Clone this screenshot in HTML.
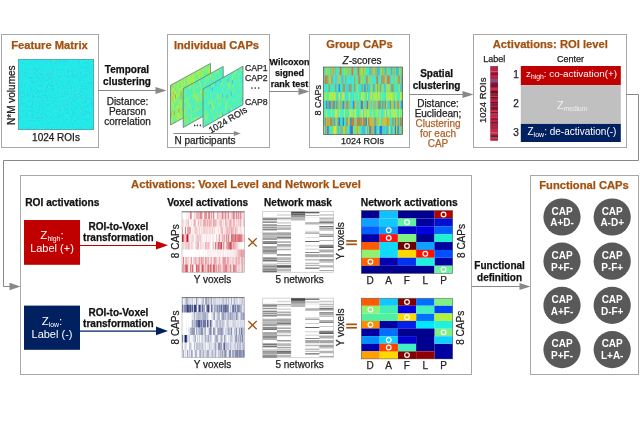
<!DOCTYPE html>
<html><head><meta charset="utf-8"><style>
html,body{margin:0;padding:0;background:#fff;width:640px;height:427px;overflow:hidden}
svg{display:block;font-family:"Liberation Sans",sans-serif;filter:blur(0px)}
text{stroke-width:0.25px;paint-order:stroke}
</style></head><body>
<svg width="640" height="427" viewBox="0 0 640 427">
<rect x="1.5" y="34.5" width="97" height="113" fill="none" stroke="#a8a8a8" stroke-width="1"/>
<text x="49.5" y="48.5" font-size="11.2" font-weight="bold" text-anchor="middle" fill="#a3500f" stroke="#a3500f" >Feature Matrix</text>
<rect x="18" y="59" width="76" height="71" fill="#20eaea" />
<path fill="#58dcc8" d="M19 59h1v1h-1zM20 59h1v1h-1zM50 59h1v1h-1zM74 59h1v1h-1zM28 60h1v1h-1zM55 60h1v1h-1zM54 61h1v1h-1zM55 61h1v1h-1zM57 61h1v1h-1zM68 61h1v1h-1zM90 61h1v1h-1zM19 62h1v1h-1zM26 62h1v1h-1zM47 62h1v1h-1zM48 62h1v1h-1zM64 62h1v1h-1zM65 62h1v1h-1zM18 63h1v1h-1zM27 63h1v1h-1zM76 64h1v1h-1zM52 65h1v1h-1zM66 65h1v1h-1zM32 66h1v1h-1zM29 67h1v1h-1zM31 67h1v1h-1zM47 67h1v1h-1zM69 67h1v1h-1zM76 67h1v1h-1zM78 67h1v1h-1zM84 67h1v1h-1zM50 68h1v1h-1zM62 68h1v1h-1zM82 68h1v1h-1zM23 69h1v1h-1zM36 69h1v1h-1zM50 69h1v1h-1zM54 69h1v1h-1zM65 69h1v1h-1zM70 69h1v1h-1zM88 69h1v1h-1zM90 69h1v1h-1zM21 70h1v1h-1zM25 70h1v1h-1zM75 70h1v1h-1zM79 70h1v1h-1zM24 71h1v1h-1zM32 71h1v1h-1zM52 71h1v1h-1zM55 71h1v1h-1zM66 71h1v1h-1zM21 72h1v1h-1zM30 72h1v1h-1zM32 72h1v1h-1zM45 72h1v1h-1zM47 72h1v1h-1zM75 72h1v1h-1zM91 72h1v1h-1zM29 73h1v1h-1zM45 73h1v1h-1zM48 73h1v1h-1zM61 73h1v1h-1zM31 74h1v1h-1zM37 74h1v1h-1zM57 74h1v1h-1zM79 74h1v1h-1zM82 74h1v1h-1zM87 74h1v1h-1zM89 74h1v1h-1zM21 75h1v1h-1zM30 75h1v1h-1zM39 75h1v1h-1zM52 75h1v1h-1zM55 75h1v1h-1zM61 75h1v1h-1zM67 75h1v1h-1zM75 75h1v1h-1zM84 75h1v1h-1zM86 75h1v1h-1zM87 75h1v1h-1zM89 75h1v1h-1zM31 76h1v1h-1zM40 76h1v1h-1zM42 76h1v1h-1zM50 76h1v1h-1zM67 76h1v1h-1zM22 77h1v1h-1zM47 77h1v1h-1zM62 77h1v1h-1zM63 77h1v1h-1zM74 77h1v1h-1zM84 77h1v1h-1zM88 77h1v1h-1zM25 78h1v1h-1zM60 78h1v1h-1zM72 78h1v1h-1zM22 79h1v1h-1zM44 79h1v1h-1zM80 79h1v1h-1zM86 79h1v1h-1zM23 80h1v1h-1zM34 80h1v1h-1zM71 80h1v1h-1zM20 81h1v1h-1zM33 81h1v1h-1zM48 81h1v1h-1zM57 81h1v1h-1zM39 82h1v1h-1zM58 82h1v1h-1zM40 83h1v1h-1zM64 83h1v1h-1zM79 84h1v1h-1zM53 85h1v1h-1zM27 86h1v1h-1zM54 86h1v1h-1zM67 86h1v1h-1zM72 86h1v1h-1zM75 86h1v1h-1zM20 87h1v1h-1zM56 87h1v1h-1zM60 87h1v1h-1zM70 87h1v1h-1zM74 87h1v1h-1zM91 87h1v1h-1zM39 88h1v1h-1zM58 88h1v1h-1zM72 88h1v1h-1zM87 88h1v1h-1zM26 89h1v1h-1zM43 89h1v1h-1zM72 89h1v1h-1zM75 89h1v1h-1zM47 90h1v1h-1zM63 90h1v1h-1zM31 91h1v1h-1zM40 91h1v1h-1zM55 91h1v1h-1zM61 91h1v1h-1zM63 91h1v1h-1zM75 91h1v1h-1zM76 91h1v1h-1zM20 92h1v1h-1zM51 92h1v1h-1zM56 92h1v1h-1zM62 92h1v1h-1zM23 93h1v1h-1zM51 93h1v1h-1zM71 93h1v1h-1zM77 93h1v1h-1zM31 94h1v1h-1zM44 94h1v1h-1zM48 94h1v1h-1zM52 94h1v1h-1zM68 94h1v1h-1zM72 94h1v1h-1zM79 94h1v1h-1zM86 94h1v1h-1zM25 95h1v1h-1zM35 95h1v1h-1zM74 95h1v1h-1zM89 95h1v1h-1zM26 96h1v1h-1zM36 96h1v1h-1zM53 96h1v1h-1zM71 96h1v1h-1zM91 96h1v1h-1zM92 96h1v1h-1zM40 97h1v1h-1zM55 97h1v1h-1zM64 97h1v1h-1zM41 98h1v1h-1zM63 98h1v1h-1zM71 98h1v1h-1zM74 98h1v1h-1zM26 99h1v1h-1zM41 99h1v1h-1zM78 99h1v1h-1zM79 99h1v1h-1zM21 100h1v1h-1zM48 100h1v1h-1zM49 100h1v1h-1zM56 100h1v1h-1zM59 100h1v1h-1zM67 100h1v1h-1zM82 100h1v1h-1zM86 100h1v1h-1zM48 101h1v1h-1zM65 101h1v1h-1zM69 101h1v1h-1zM83 101h1v1h-1zM90 101h1v1h-1zM36 102h1v1h-1zM45 103h1v1h-1zM70 103h1v1h-1zM75 103h1v1h-1zM80 103h1v1h-1zM21 104h1v1h-1zM50 104h1v1h-1zM63 104h1v1h-1zM26 105h1v1h-1zM59 105h1v1h-1zM66 105h1v1h-1zM68 105h1v1h-1zM93 105h1v1h-1zM20 107h1v1h-1zM21 107h1v1h-1zM22 107h1v1h-1zM23 107h1v1h-1zM26 107h1v1h-1zM61 107h1v1h-1zM81 107h1v1h-1zM76 108h1v1h-1zM77 108h1v1h-1zM20 109h1v1h-1zM64 109h1v1h-1zM72 109h1v1h-1zM80 109h1v1h-1zM90 109h1v1h-1zM36 110h1v1h-1zM54 110h1v1h-1zM41 111h1v1h-1zM63 111h1v1h-1zM82 111h1v1h-1zM90 111h1v1h-1zM37 112h1v1h-1zM78 112h1v1h-1zM84 112h1v1h-1zM31 113h1v1h-1zM42 113h1v1h-1zM50 113h1v1h-1zM78 113h1v1h-1zM84 113h1v1h-1zM92 113h1v1h-1zM93 113h1v1h-1zM27 114h1v1h-1zM29 114h1v1h-1zM36 114h1v1h-1zM40 114h1v1h-1zM34 115h1v1h-1zM67 115h1v1h-1zM82 115h1v1h-1zM88 115h1v1h-1zM27 116h1v1h-1zM30 116h1v1h-1zM32 116h1v1h-1zM53 116h1v1h-1zM58 116h1v1h-1zM61 116h1v1h-1zM85 116h1v1h-1zM31 117h1v1h-1zM62 117h1v1h-1zM72 117h1v1h-1zM75 117h1v1h-1zM86 117h1v1h-1zM22 118h1v1h-1zM29 118h1v1h-1zM48 118h1v1h-1zM68 118h1v1h-1zM73 118h1v1h-1zM76 118h1v1h-1zM85 118h1v1h-1zM20 119h1v1h-1zM23 119h1v1h-1zM32 119h1v1h-1zM43 119h1v1h-1zM47 119h1v1h-1zM32 120h1v1h-1zM45 120h1v1h-1zM57 120h1v1h-1zM70 120h1v1h-1zM82 120h1v1h-1zM90 120h1v1h-1zM52 122h1v1h-1zM84 122h1v1h-1zM32 124h1v1h-1zM27 125h1v1h-1zM28 126h1v1h-1zM46 126h1v1h-1zM69 126h1v1h-1zM75 126h1v1h-1zM28 127h1v1h-1zM32 127h1v1h-1zM38 127h1v1h-1zM62 127h1v1h-1zM69 127h1v1h-1zM86 127h1v1h-1zM50 128h1v1h-1zM63 128h1v1h-1zM21 129h1v1h-1zM50 129h1v1h-1zM63 129h1v1h-1zM92 129h1v1h-1z" opacity="0.45"/>
<path fill="#6ce0c0" d="M22 59h1v1h-1zM32 59h1v1h-1zM57 59h1v1h-1zM58 59h1v1h-1zM62 59h1v1h-1zM68 59h1v1h-1zM72 59h1v1h-1zM57 60h1v1h-1zM71 60h1v1h-1zM92 60h1v1h-1zM26 61h1v1h-1zM40 61h1v1h-1zM52 61h1v1h-1zM53 61h1v1h-1zM80 61h1v1h-1zM18 62h1v1h-1zM41 62h1v1h-1zM51 62h1v1h-1zM57 62h1v1h-1zM73 62h1v1h-1zM91 63h1v1h-1zM59 64h1v1h-1zM20 67h1v1h-1zM36 67h1v1h-1zM58 67h1v1h-1zM65 67h1v1h-1zM66 67h1v1h-1zM23 68h1v1h-1zM37 68h1v1h-1zM55 68h1v1h-1zM58 68h1v1h-1zM18 69h1v1h-1zM34 69h1v1h-1zM44 69h1v1h-1zM66 69h1v1h-1zM81 69h1v1h-1zM39 70h1v1h-1zM47 70h1v1h-1zM49 70h1v1h-1zM89 70h1v1h-1zM90 70h1v1h-1zM35 71h1v1h-1zM41 71h1v1h-1zM70 71h1v1h-1zM40 72h1v1h-1zM70 72h1v1h-1zM79 72h1v1h-1zM22 73h1v1h-1zM28 73h1v1h-1zM37 73h1v1h-1zM53 73h1v1h-1zM58 73h1v1h-1zM65 73h1v1h-1zM69 73h1v1h-1zM82 73h1v1h-1zM84 73h1v1h-1zM49 74h1v1h-1zM55 74h1v1h-1zM63 74h1v1h-1zM69 74h1v1h-1zM75 74h1v1h-1zM81 74h1v1h-1zM29 75h1v1h-1zM66 75h1v1h-1zM18 76h1v1h-1zM52 76h1v1h-1zM54 76h1v1h-1zM78 76h1v1h-1zM47 78h1v1h-1zM63 78h1v1h-1zM65 78h1v1h-1zM34 79h1v1h-1zM36 79h1v1h-1zM40 79h1v1h-1zM45 79h1v1h-1zM60 79h1v1h-1zM74 79h1v1h-1zM19 80h1v1h-1zM25 80h1v1h-1zM27 80h1v1h-1zM51 80h1v1h-1zM61 80h1v1h-1zM24 81h1v1h-1zM54 81h1v1h-1zM74 81h1v1h-1zM80 81h1v1h-1zM81 81h1v1h-1zM91 81h1v1h-1zM21 82h1v1h-1zM28 82h1v1h-1zM44 82h1v1h-1zM47 82h1v1h-1zM54 82h1v1h-1zM65 82h1v1h-1zM86 82h1v1h-1zM29 83h1v1h-1zM53 83h1v1h-1zM57 83h1v1h-1zM59 83h1v1h-1zM74 83h1v1h-1zM80 83h1v1h-1zM82 83h1v1h-1zM43 84h1v1h-1zM64 84h1v1h-1zM66 84h1v1h-1zM76 85h1v1h-1zM20 86h1v1h-1zM22 86h1v1h-1zM38 86h1v1h-1zM43 86h1v1h-1zM45 86h1v1h-1zM50 86h1v1h-1zM66 86h1v1h-1zM79 86h1v1h-1zM36 87h1v1h-1zM37 87h1v1h-1zM48 87h1v1h-1zM55 87h1v1h-1zM77 87h1v1h-1zM80 87h1v1h-1zM83 87h1v1h-1zM38 88h1v1h-1zM40 88h1v1h-1zM42 88h1v1h-1zM44 88h1v1h-1zM49 88h1v1h-1zM73 88h1v1h-1zM35 89h1v1h-1zM39 89h1v1h-1zM65 89h1v1h-1zM60 90h1v1h-1zM69 90h1v1h-1zM70 90h1v1h-1zM25 91h1v1h-1zM48 91h1v1h-1zM57 91h1v1h-1zM47 92h1v1h-1zM59 92h1v1h-1zM67 92h1v1h-1zM76 92h1v1h-1zM88 92h1v1h-1zM33 93h1v1h-1zM40 93h1v1h-1zM60 93h1v1h-1zM72 93h1v1h-1zM87 93h1v1h-1zM91 93h1v1h-1zM21 94h1v1h-1zM26 94h1v1h-1zM35 94h1v1h-1zM63 94h1v1h-1zM23 95h1v1h-1zM67 95h1v1h-1zM69 95h1v1h-1zM77 95h1v1h-1zM79 95h1v1h-1zM54 96h1v1h-1zM82 96h1v1h-1zM83 96h1v1h-1zM87 96h1v1h-1zM19 97h1v1h-1zM23 97h1v1h-1zM31 97h1v1h-1zM48 97h1v1h-1zM66 97h1v1h-1zM67 97h1v1h-1zM19 98h1v1h-1zM26 98h1v1h-1zM29 98h1v1h-1zM45 98h1v1h-1zM48 98h1v1h-1zM53 98h1v1h-1zM61 98h1v1h-1zM35 99h1v1h-1zM36 99h1v1h-1zM39 99h1v1h-1zM62 99h1v1h-1zM68 99h1v1h-1zM73 99h1v1h-1zM80 99h1v1h-1zM84 99h1v1h-1zM36 100h1v1h-1zM55 100h1v1h-1zM89 100h1v1h-1zM19 101h1v1h-1zM23 101h1v1h-1zM30 101h1v1h-1zM61 101h1v1h-1zM66 101h1v1h-1zM79 101h1v1h-1zM34 102h1v1h-1zM35 102h1v1h-1zM46 102h1v1h-1zM60 102h1v1h-1zM66 102h1v1h-1zM87 102h1v1h-1zM93 102h1v1h-1zM25 103h1v1h-1zM29 103h1v1h-1zM33 103h1v1h-1zM68 103h1v1h-1zM92 103h1v1h-1zM28 104h1v1h-1zM43 104h1v1h-1zM53 104h1v1h-1zM27 105h1v1h-1zM30 105h1v1h-1zM45 105h1v1h-1zM58 105h1v1h-1zM60 105h1v1h-1zM69 105h1v1h-1zM83 105h1v1h-1zM33 106h1v1h-1zM61 106h1v1h-1zM82 106h1v1h-1zM36 107h1v1h-1zM46 107h1v1h-1zM57 107h1v1h-1zM61 108h1v1h-1zM62 108h1v1h-1zM75 108h1v1h-1zM28 109h1v1h-1zM31 109h1v1h-1zM46 109h1v1h-1zM51 109h1v1h-1zM54 109h1v1h-1zM21 110h1v1h-1zM47 110h1v1h-1zM81 110h1v1h-1zM19 111h1v1h-1zM53 111h1v1h-1zM54 111h1v1h-1zM56 111h1v1h-1zM62 111h1v1h-1zM77 111h1v1h-1zM80 111h1v1h-1zM86 111h1v1h-1zM19 112h1v1h-1zM47 112h1v1h-1zM52 112h1v1h-1zM28 113h1v1h-1zM29 113h1v1h-1zM48 113h1v1h-1zM54 113h1v1h-1zM68 113h1v1h-1zM34 114h1v1h-1zM50 114h1v1h-1zM55 114h1v1h-1zM58 114h1v1h-1zM70 114h1v1h-1zM78 114h1v1h-1zM38 115h1v1h-1zM39 115h1v1h-1zM42 115h1v1h-1zM65 115h1v1h-1zM66 115h1v1h-1zM80 115h1v1h-1zM87 115h1v1h-1zM35 116h1v1h-1zM66 116h1v1h-1zM81 116h1v1h-1zM86 116h1v1h-1zM89 116h1v1h-1zM40 117h1v1h-1zM20 118h1v1h-1zM54 118h1v1h-1zM91 118h1v1h-1zM38 119h1v1h-1zM46 119h1v1h-1zM61 119h1v1h-1zM64 119h1v1h-1zM74 119h1v1h-1zM92 119h1v1h-1zM25 120h1v1h-1zM48 120h1v1h-1zM62 120h1v1h-1zM67 120h1v1h-1zM72 120h1v1h-1zM18 121h1v1h-1zM54 121h1v1h-1zM55 123h1v1h-1zM52 125h1v1h-1zM25 126h1v1h-1zM34 126h1v1h-1zM39 126h1v1h-1zM74 126h1v1h-1zM90 126h1v1h-1zM18 127h1v1h-1zM44 127h1v1h-1zM72 127h1v1h-1zM83 127h1v1h-1zM84 127h1v1h-1zM39 128h1v1h-1zM40 128h1v1h-1zM43 128h1v1h-1zM55 128h1v1h-1zM67 128h1v1h-1zM71 128h1v1h-1zM73 128h1v1h-1zM19 129h1v1h-1zM24 129h1v1h-1zM30 129h1v1h-1zM35 129h1v1h-1zM40 129h1v1h-1zM49 129h1v1h-1zM84 129h1v1h-1zM93 129h1v1h-1z" opacity="0.45"/>
<path fill="#3cd0d8" d="M25 59h1v1h-1zM45 59h1v1h-1zM54 59h1v1h-1zM60 59h1v1h-1zM70 59h1v1h-1zM45 60h1v1h-1zM62 60h1v1h-1zM47 61h1v1h-1zM50 61h1v1h-1zM66 61h1v1h-1zM78 61h1v1h-1zM44 62h1v1h-1zM56 62h1v1h-1zM58 62h1v1h-1zM59 62h1v1h-1zM60 62h1v1h-1zM63 62h1v1h-1zM67 62h1v1h-1zM72 62h1v1h-1zM86 62h1v1h-1zM79 63h1v1h-1zM25 65h1v1h-1zM71 65h1v1h-1zM84 66h1v1h-1zM49 67h1v1h-1zM19 68h1v1h-1zM34 68h1v1h-1zM72 68h1v1h-1zM85 68h1v1h-1zM86 68h1v1h-1zM87 68h1v1h-1zM91 68h1v1h-1zM30 69h1v1h-1zM56 69h1v1h-1zM60 69h1v1h-1zM71 69h1v1h-1zM37 70h1v1h-1zM45 70h1v1h-1zM53 70h1v1h-1zM88 70h1v1h-1zM92 70h1v1h-1zM22 71h1v1h-1zM53 71h1v1h-1zM77 71h1v1h-1zM24 72h1v1h-1zM25 72h1v1h-1zM29 72h1v1h-1zM49 72h1v1h-1zM57 72h1v1h-1zM69 72h1v1h-1zM78 72h1v1h-1zM80 72h1v1h-1zM18 73h1v1h-1zM27 73h1v1h-1zM34 73h1v1h-1zM39 73h1v1h-1zM47 73h1v1h-1zM52 73h1v1h-1zM54 73h1v1h-1zM56 73h1v1h-1zM72 73h1v1h-1zM33 74h1v1h-1zM48 74h1v1h-1zM52 74h1v1h-1zM71 74h1v1h-1zM88 74h1v1h-1zM42 75h1v1h-1zM45 75h1v1h-1zM64 75h1v1h-1zM81 75h1v1h-1zM58 76h1v1h-1zM60 76h1v1h-1zM69 76h1v1h-1zM32 77h1v1h-1zM41 77h1v1h-1zM46 77h1v1h-1zM66 77h1v1h-1zM68 77h1v1h-1zM86 77h1v1h-1zM33 78h1v1h-1zM44 78h1v1h-1zM55 78h1v1h-1zM82 78h1v1h-1zM83 78h1v1h-1zM49 79h1v1h-1zM63 79h1v1h-1zM70 79h1v1h-1zM89 79h1v1h-1zM44 80h1v1h-1zM48 80h1v1h-1zM82 80h1v1h-1zM27 82h1v1h-1zM32 82h1v1h-1zM34 82h1v1h-1zM63 82h1v1h-1zM80 82h1v1h-1zM87 82h1v1h-1zM88 82h1v1h-1zM35 83h1v1h-1zM43 83h1v1h-1zM48 83h1v1h-1zM56 83h1v1h-1zM67 83h1v1h-1zM29 84h1v1h-1zM32 84h1v1h-1zM48 84h1v1h-1zM71 84h1v1h-1zM83 84h1v1h-1zM20 85h1v1h-1zM30 85h1v1h-1zM36 85h1v1h-1zM54 85h1v1h-1zM61 85h1v1h-1zM67 85h1v1h-1zM73 85h1v1h-1zM85 85h1v1h-1zM21 86h1v1h-1zM29 86h1v1h-1zM36 86h1v1h-1zM51 86h1v1h-1zM74 86h1v1h-1zM81 86h1v1h-1zM21 87h1v1h-1zM22 87h1v1h-1zM34 87h1v1h-1zM39 87h1v1h-1zM43 87h1v1h-1zM46 87h1v1h-1zM65 87h1v1h-1zM67 87h1v1h-1zM84 87h1v1h-1zM92 87h1v1h-1zM65 88h1v1h-1zM74 88h1v1h-1zM80 88h1v1h-1zM82 88h1v1h-1zM90 88h1v1h-1zM20 89h1v1h-1zM48 89h1v1h-1zM54 89h1v1h-1zM71 89h1v1h-1zM83 89h1v1h-1zM86 89h1v1h-1zM92 89h1v1h-1zM34 90h1v1h-1zM51 90h1v1h-1zM58 90h1v1h-1zM30 91h1v1h-1zM47 91h1v1h-1zM65 91h1v1h-1zM67 91h1v1h-1zM71 91h1v1h-1zM23 92h1v1h-1zM30 92h1v1h-1zM32 92h1v1h-1zM43 92h1v1h-1zM52 92h1v1h-1zM68 92h1v1h-1zM90 92h1v1h-1zM20 93h1v1h-1zM49 93h1v1h-1zM61 93h1v1h-1zM78 93h1v1h-1zM30 94h1v1h-1zM49 94h1v1h-1zM74 94h1v1h-1zM76 94h1v1h-1zM85 94h1v1h-1zM92 94h1v1h-1zM42 95h1v1h-1zM43 95h1v1h-1zM44 95h1v1h-1zM46 95h1v1h-1zM80 95h1v1h-1zM37 96h1v1h-1zM47 96h1v1h-1zM51 96h1v1h-1zM76 96h1v1h-1zM84 96h1v1h-1zM20 97h1v1h-1zM36 97h1v1h-1zM41 97h1v1h-1zM46 97h1v1h-1zM53 97h1v1h-1zM57 97h1v1h-1zM80 97h1v1h-1zM83 97h1v1h-1zM91 97h1v1h-1zM23 98h1v1h-1zM47 98h1v1h-1zM58 98h1v1h-1zM89 98h1v1h-1zM91 98h1v1h-1zM82 99h1v1h-1zM85 99h1v1h-1zM30 100h1v1h-1zM37 100h1v1h-1zM74 100h1v1h-1zM33 101h1v1h-1zM37 101h1v1h-1zM41 101h1v1h-1zM60 101h1v1h-1zM82 101h1v1h-1zM93 101h1v1h-1zM23 102h1v1h-1zM43 102h1v1h-1zM44 102h1v1h-1zM61 102h1v1h-1zM76 102h1v1h-1zM78 102h1v1h-1zM23 103h1v1h-1zM38 103h1v1h-1zM76 103h1v1h-1zM85 103h1v1h-1zM19 104h1v1h-1zM26 104h1v1h-1zM62 104h1v1h-1zM68 104h1v1h-1zM70 104h1v1h-1zM21 105h1v1h-1zM64 105h1v1h-1zM72 105h1v1h-1zM85 105h1v1h-1zM89 105h1v1h-1zM20 106h1v1h-1zM27 106h1v1h-1zM57 106h1v1h-1zM62 106h1v1h-1zM64 106h1v1h-1zM83 106h1v1h-1zM90 106h1v1h-1zM24 107h1v1h-1zM31 107h1v1h-1zM58 107h1v1h-1zM68 107h1v1h-1zM77 107h1v1h-1zM82 107h1v1h-1zM32 108h1v1h-1zM35 108h1v1h-1zM47 108h1v1h-1zM50 108h1v1h-1zM67 108h1v1h-1zM70 108h1v1h-1zM71 108h1v1h-1zM80 108h1v1h-1zM44 109h1v1h-1zM66 109h1v1h-1zM67 109h1v1h-1zM75 109h1v1h-1zM19 110h1v1h-1zM39 110h1v1h-1zM43 110h1v1h-1zM68 110h1v1h-1zM49 111h1v1h-1zM65 111h1v1h-1zM67 111h1v1h-1zM79 111h1v1h-1zM88 111h1v1h-1zM27 112h1v1h-1zM39 112h1v1h-1zM67 112h1v1h-1zM88 112h1v1h-1zM89 112h1v1h-1zM91 112h1v1h-1zM41 113h1v1h-1zM72 113h1v1h-1zM79 113h1v1h-1zM90 113h1v1h-1zM33 114h1v1h-1zM37 114h1v1h-1zM56 114h1v1h-1zM59 114h1v1h-1zM63 114h1v1h-1zM69 114h1v1h-1zM72 114h1v1h-1zM85 114h1v1h-1zM24 115h1v1h-1zM25 115h1v1h-1zM32 115h1v1h-1zM58 115h1v1h-1zM72 115h1v1h-1zM76 115h1v1h-1zM85 115h1v1h-1zM46 116h1v1h-1zM48 116h1v1h-1zM59 116h1v1h-1zM76 116h1v1h-1zM26 117h1v1h-1zM51 117h1v1h-1zM67 117h1v1h-1zM24 118h1v1h-1zM27 118h1v1h-1zM31 118h1v1h-1zM39 118h1v1h-1zM40 118h1v1h-1zM41 118h1v1h-1zM45 118h1v1h-1zM55 118h1v1h-1zM62 118h1v1h-1zM53 119h1v1h-1zM59 119h1v1h-1zM77 119h1v1h-1zM81 119h1v1h-1zM89 119h1v1h-1zM27 120h1v1h-1zM28 120h1v1h-1zM39 120h1v1h-1zM43 120h1v1h-1zM46 120h1v1h-1zM47 120h1v1h-1zM74 120h1v1h-1zM52 121h1v1h-1zM58 121h1v1h-1zM48 123h1v1h-1zM42 125h1v1h-1zM47 125h1v1h-1zM19 126h1v1h-1zM56 126h1v1h-1zM62 126h1v1h-1zM23 127h1v1h-1zM57 127h1v1h-1zM74 127h1v1h-1zM89 127h1v1h-1zM18 128h1v1h-1zM76 128h1v1h-1zM26 129h1v1h-1zM27 129h1v1h-1zM76 129h1v1h-1z" opacity="0.45"/>
<path fill="#40b8e4" d="M29 59h1v1h-1zM61 59h1v1h-1zM81 59h1v1h-1zM82 59h1v1h-1zM35 60h1v1h-1zM41 60h1v1h-1zM49 60h1v1h-1zM60 60h1v1h-1zM64 60h1v1h-1zM51 61h1v1h-1zM56 61h1v1h-1zM59 61h1v1h-1zM32 62h1v1h-1zM36 62h1v1h-1zM43 62h1v1h-1zM50 62h1v1h-1zM66 62h1v1h-1zM76 62h1v1h-1zM85 62h1v1h-1zM87 62h1v1h-1zM88 62h1v1h-1zM22 63h1v1h-1zM47 63h1v1h-1zM55 63h1v1h-1zM39 67h1v1h-1zM80 67h1v1h-1zM88 67h1v1h-1zM25 68h1v1h-1zM42 68h1v1h-1zM52 68h1v1h-1zM67 68h1v1h-1zM76 68h1v1h-1zM79 68h1v1h-1zM83 68h1v1h-1zM34 70h1v1h-1zM36 70h1v1h-1zM41 70h1v1h-1zM48 70h1v1h-1zM72 70h1v1h-1zM67 71h1v1h-1zM69 71h1v1h-1zM71 71h1v1h-1zM87 71h1v1h-1zM90 71h1v1h-1zM34 72h1v1h-1zM78 73h1v1h-1zM80 73h1v1h-1zM24 74h1v1h-1zM36 74h1v1h-1zM40 74h1v1h-1zM42 74h1v1h-1zM47 74h1v1h-1zM85 74h1v1h-1zM91 74h1v1h-1zM19 75h1v1h-1zM50 75h1v1h-1zM51 75h1v1h-1zM57 75h1v1h-1zM68 75h1v1h-1zM72 75h1v1h-1zM74 75h1v1h-1zM85 75h1v1h-1zM93 75h1v1h-1zM48 76h1v1h-1zM61 76h1v1h-1zM75 76h1v1h-1zM89 76h1v1h-1zM93 76h1v1h-1zM18 77h1v1h-1zM29 77h1v1h-1zM37 77h1v1h-1zM38 77h1v1h-1zM50 77h1v1h-1zM59 77h1v1h-1zM72 77h1v1h-1zM31 78h1v1h-1zM48 78h1v1h-1zM49 78h1v1h-1zM52 78h1v1h-1zM57 78h1v1h-1zM21 79h1v1h-1zM38 79h1v1h-1zM39 79h1v1h-1zM73 79h1v1h-1zM91 79h1v1h-1zM31 80h1v1h-1zM32 81h1v1h-1zM34 81h1v1h-1zM51 81h1v1h-1zM52 81h1v1h-1zM93 81h1v1h-1zM51 82h1v1h-1zM56 82h1v1h-1zM66 83h1v1h-1zM68 83h1v1h-1zM81 83h1v1h-1zM86 83h1v1h-1zM88 83h1v1h-1zM47 84h1v1h-1zM56 84h1v1h-1zM63 84h1v1h-1zM74 84h1v1h-1zM21 85h1v1h-1zM24 85h1v1h-1zM39 85h1v1h-1zM40 85h1v1h-1zM50 85h1v1h-1zM51 85h1v1h-1zM68 85h1v1h-1zM47 86h1v1h-1zM70 86h1v1h-1zM76 86h1v1h-1zM88 86h1v1h-1zM31 87h1v1h-1zM73 87h1v1h-1zM30 88h1v1h-1zM31 88h1v1h-1zM53 88h1v1h-1zM84 88h1v1h-1zM86 88h1v1h-1zM44 89h1v1h-1zM87 89h1v1h-1zM31 90h1v1h-1zM33 90h1v1h-1zM38 90h1v1h-1zM53 90h1v1h-1zM65 90h1v1h-1zM81 90h1v1h-1zM41 91h1v1h-1zM46 91h1v1h-1zM73 91h1v1h-1zM80 91h1v1h-1zM82 91h1v1h-1zM93 91h1v1h-1zM22 92h1v1h-1zM40 92h1v1h-1zM61 92h1v1h-1zM66 92h1v1h-1zM81 92h1v1h-1zM92 92h1v1h-1zM19 93h1v1h-1zM36 93h1v1h-1zM57 93h1v1h-1zM59 93h1v1h-1zM64 93h1v1h-1zM68 93h1v1h-1zM79 93h1v1h-1zM83 93h1v1h-1zM86 93h1v1h-1zM89 93h1v1h-1zM19 94h1v1h-1zM27 94h1v1h-1zM28 94h1v1h-1zM67 94h1v1h-1zM78 94h1v1h-1zM24 95h1v1h-1zM27 95h1v1h-1zM33 95h1v1h-1zM75 95h1v1h-1zM86 95h1v1h-1zM23 96h1v1h-1zM29 96h1v1h-1zM32 96h1v1h-1zM33 96h1v1h-1zM38 96h1v1h-1zM50 96h1v1h-1zM59 96h1v1h-1zM62 96h1v1h-1zM63 96h1v1h-1zM18 97h1v1h-1zM33 97h1v1h-1zM45 97h1v1h-1zM52 97h1v1h-1zM54 97h1v1h-1zM75 97h1v1h-1zM81 97h1v1h-1zM42 98h1v1h-1zM55 98h1v1h-1zM56 98h1v1h-1zM69 98h1v1h-1zM73 98h1v1h-1zM87 98h1v1h-1zM31 99h1v1h-1zM47 99h1v1h-1zM72 99h1v1h-1zM89 99h1v1h-1zM90 99h1v1h-1zM20 100h1v1h-1zM47 100h1v1h-1zM52 100h1v1h-1zM54 100h1v1h-1zM62 100h1v1h-1zM73 100h1v1h-1zM85 100h1v1h-1zM35 101h1v1h-1zM54 101h1v1h-1zM74 101h1v1h-1zM86 101h1v1h-1zM91 101h1v1h-1zM26 102h1v1h-1zM32 102h1v1h-1zM62 102h1v1h-1zM67 102h1v1h-1zM84 102h1v1h-1zM92 102h1v1h-1zM22 103h1v1h-1zM24 103h1v1h-1zM51 103h1v1h-1zM52 103h1v1h-1zM71 103h1v1h-1zM49 104h1v1h-1zM55 104h1v1h-1zM92 104h1v1h-1zM22 105h1v1h-1zM53 105h1v1h-1zM56 105h1v1h-1zM61 105h1v1h-1zM84 105h1v1h-1zM88 105h1v1h-1zM26 106h1v1h-1zM30 106h1v1h-1zM31 106h1v1h-1zM32 106h1v1h-1zM39 106h1v1h-1zM43 106h1v1h-1zM56 106h1v1h-1zM80 106h1v1h-1zM39 107h1v1h-1zM64 107h1v1h-1zM83 107h1v1h-1zM85 107h1v1h-1zM34 108h1v1h-1zM73 108h1v1h-1zM29 109h1v1h-1zM39 109h1v1h-1zM59 109h1v1h-1zM60 109h1v1h-1zM76 109h1v1h-1zM23 110h1v1h-1zM31 110h1v1h-1zM49 110h1v1h-1zM82 110h1v1h-1zM86 110h1v1h-1zM22 111h1v1h-1zM60 111h1v1h-1zM85 111h1v1h-1zM93 111h1v1h-1zM42 112h1v1h-1zM51 112h1v1h-1zM43 113h1v1h-1zM66 113h1v1h-1zM69 113h1v1h-1zM74 113h1v1h-1zM26 114h1v1h-1zM41 114h1v1h-1zM53 114h1v1h-1zM92 114h1v1h-1zM18 115h1v1h-1zM33 115h1v1h-1zM45 115h1v1h-1zM60 115h1v1h-1zM62 115h1v1h-1zM29 116h1v1h-1zM47 116h1v1h-1zM20 117h1v1h-1zM33 117h1v1h-1zM42 117h1v1h-1zM58 117h1v1h-1zM60 117h1v1h-1zM91 117h1v1h-1zM52 118h1v1h-1zM86 118h1v1h-1zM18 119h1v1h-1zM66 119h1v1h-1zM93 119h1v1h-1zM31 120h1v1h-1zM63 120h1v1h-1zM75 120h1v1h-1zM87 120h1v1h-1zM22 122h1v1h-1zM55 122h1v1h-1zM65 122h1v1h-1zM23 126h1v1h-1zM54 126h1v1h-1zM93 126h1v1h-1zM27 127h1v1h-1zM42 127h1v1h-1zM81 127h1v1h-1zM90 127h1v1h-1zM29 129h1v1h-1zM43 129h1v1h-1zM47 129h1v1h-1zM57 129h1v1h-1zM60 129h1v1h-1zM71 129h1v1h-1zM75 129h1v1h-1zM82 129h1v1h-1z" opacity="0.45"/>
<path fill="#34c4dc" d="M41 59h1v1h-1zM56 59h1v1h-1zM63 59h1v1h-1zM73 59h1v1h-1zM83 59h1v1h-1zM85 59h1v1h-1zM93 59h1v1h-1zM78 60h1v1h-1zM81 60h1v1h-1zM88 60h1v1h-1zM36 61h1v1h-1zM41 61h1v1h-1zM62 61h1v1h-1zM65 61h1v1h-1zM72 61h1v1h-1zM20 62h1v1h-1zM23 62h1v1h-1zM45 62h1v1h-1zM52 62h1v1h-1zM79 62h1v1h-1zM92 62h1v1h-1zM31 63h1v1h-1zM86 63h1v1h-1zM65 64h1v1h-1zM41 66h1v1h-1zM52 66h1v1h-1zM21 67h1v1h-1zM34 67h1v1h-1zM35 67h1v1h-1zM70 67h1v1h-1zM82 67h1v1h-1zM87 67h1v1h-1zM93 67h1v1h-1zM35 68h1v1h-1zM56 68h1v1h-1zM25 69h1v1h-1zM32 69h1v1h-1zM35 69h1v1h-1zM37 69h1v1h-1zM38 69h1v1h-1zM62 69h1v1h-1zM63 69h1v1h-1zM89 69h1v1h-1zM52 70h1v1h-1zM57 70h1v1h-1zM59 70h1v1h-1zM68 70h1v1h-1zM73 70h1v1h-1zM18 71h1v1h-1zM19 71h1v1h-1zM19 72h1v1h-1zM60 72h1v1h-1zM67 72h1v1h-1zM68 72h1v1h-1zM72 72h1v1h-1zM89 72h1v1h-1zM90 72h1v1h-1zM40 73h1v1h-1zM50 73h1v1h-1zM51 73h1v1h-1zM81 73h1v1h-1zM91 73h1v1h-1zM20 74h1v1h-1zM28 74h1v1h-1zM41 74h1v1h-1zM64 74h1v1h-1zM73 74h1v1h-1zM86 74h1v1h-1zM83 75h1v1h-1zM25 76h1v1h-1zM59 76h1v1h-1zM66 76h1v1h-1zM68 76h1v1h-1zM77 76h1v1h-1zM31 77h1v1h-1zM35 77h1v1h-1zM42 77h1v1h-1zM52 77h1v1h-1zM75 77h1v1h-1zM80 77h1v1h-1zM29 78h1v1h-1zM40 78h1v1h-1zM79 78h1v1h-1zM93 78h1v1h-1zM42 79h1v1h-1zM47 79h1v1h-1zM38 80h1v1h-1zM40 80h1v1h-1zM47 80h1v1h-1zM59 80h1v1h-1zM68 80h1v1h-1zM79 80h1v1h-1zM80 80h1v1h-1zM18 81h1v1h-1zM22 81h1v1h-1zM30 81h1v1h-1zM55 81h1v1h-1zM61 81h1v1h-1zM69 81h1v1h-1zM70 81h1v1h-1zM90 81h1v1h-1zM19 82h1v1h-1zM33 82h1v1h-1zM42 82h1v1h-1zM61 82h1v1h-1zM64 82h1v1h-1zM72 82h1v1h-1zM91 82h1v1h-1zM18 83h1v1h-1zM21 83h1v1h-1zM31 83h1v1h-1zM89 83h1v1h-1zM91 83h1v1h-1zM24 84h1v1h-1zM49 84h1v1h-1zM59 84h1v1h-1zM90 84h1v1h-1zM91 84h1v1h-1zM92 84h1v1h-1zM19 85h1v1h-1zM41 85h1v1h-1zM43 85h1v1h-1zM78 85h1v1h-1zM80 85h1v1h-1zM52 86h1v1h-1zM53 86h1v1h-1zM63 86h1v1h-1zM82 86h1v1h-1zM86 86h1v1h-1zM90 86h1v1h-1zM19 87h1v1h-1zM47 87h1v1h-1zM58 87h1v1h-1zM71 87h1v1h-1zM82 87h1v1h-1zM90 87h1v1h-1zM46 88h1v1h-1zM50 88h1v1h-1zM52 88h1v1h-1zM62 88h1v1h-1zM68 88h1v1h-1zM71 88h1v1h-1zM36 89h1v1h-1zM27 90h1v1h-1zM37 90h1v1h-1zM41 90h1v1h-1zM44 90h1v1h-1zM48 90h1v1h-1zM75 90h1v1h-1zM91 90h1v1h-1zM36 91h1v1h-1zM39 91h1v1h-1zM56 91h1v1h-1zM46 92h1v1h-1zM93 92h1v1h-1zM24 93h1v1h-1zM26 93h1v1h-1zM27 93h1v1h-1zM35 93h1v1h-1zM32 94h1v1h-1zM45 94h1v1h-1zM62 94h1v1h-1zM64 94h1v1h-1zM66 94h1v1h-1zM71 94h1v1h-1zM73 94h1v1h-1zM45 95h1v1h-1zM76 95h1v1h-1zM81 95h1v1h-1zM21 96h1v1h-1zM40 96h1v1h-1zM74 96h1v1h-1zM86 96h1v1h-1zM26 97h1v1h-1zM42 97h1v1h-1zM47 97h1v1h-1zM49 97h1v1h-1zM70 97h1v1h-1zM79 97h1v1h-1zM18 98h1v1h-1zM62 98h1v1h-1zM70 98h1v1h-1zM77 98h1v1h-1zM86 98h1v1h-1zM24 99h1v1h-1zM48 99h1v1h-1zM67 99h1v1h-1zM76 99h1v1h-1zM28 100h1v1h-1zM42 100h1v1h-1zM43 100h1v1h-1zM66 100h1v1h-1zM90 100h1v1h-1zM29 101h1v1h-1zM67 101h1v1h-1zM70 101h1v1h-1zM73 101h1v1h-1zM84 101h1v1h-1zM21 102h1v1h-1zM29 102h1v1h-1zM57 102h1v1h-1zM32 103h1v1h-1zM69 103h1v1h-1zM90 103h1v1h-1zM91 103h1v1h-1zM27 104h1v1h-1zM32 104h1v1h-1zM35 104h1v1h-1zM42 104h1v1h-1zM46 104h1v1h-1zM59 104h1v1h-1zM67 104h1v1h-1zM91 104h1v1h-1zM40 105h1v1h-1zM47 105h1v1h-1zM48 105h1v1h-1zM67 105h1v1h-1zM78 105h1v1h-1zM87 105h1v1h-1zM36 106h1v1h-1zM42 106h1v1h-1zM59 106h1v1h-1zM74 106h1v1h-1zM49 107h1v1h-1zM75 107h1v1h-1zM87 107h1v1h-1zM42 108h1v1h-1zM54 108h1v1h-1zM66 108h1v1h-1zM26 109h1v1h-1zM37 109h1v1h-1zM52 109h1v1h-1zM65 109h1v1h-1zM81 109h1v1h-1zM30 110h1v1h-1zM32 110h1v1h-1zM71 110h1v1h-1zM72 110h1v1h-1zM34 111h1v1h-1zM47 111h1v1h-1zM74 111h1v1h-1zM36 112h1v1h-1zM73 112h1v1h-1zM80 112h1v1h-1zM87 112h1v1h-1zM90 112h1v1h-1zM26 113h1v1h-1zM58 113h1v1h-1zM63 113h1v1h-1zM73 113h1v1h-1zM85 113h1v1h-1zM89 113h1v1h-1zM19 114h1v1h-1zM32 114h1v1h-1zM45 114h1v1h-1zM76 114h1v1h-1zM82 114h1v1h-1zM83 114h1v1h-1zM30 115h1v1h-1zM83 115h1v1h-1zM20 116h1v1h-1zM22 116h1v1h-1zM39 116h1v1h-1zM71 116h1v1h-1zM72 116h1v1h-1zM80 116h1v1h-1zM82 116h1v1h-1zM36 117h1v1h-1zM38 117h1v1h-1zM41 117h1v1h-1zM54 117h1v1h-1zM57 117h1v1h-1zM71 117h1v1h-1zM78 117h1v1h-1zM37 118h1v1h-1zM38 118h1v1h-1zM19 119h1v1h-1zM62 119h1v1h-1zM71 119h1v1h-1zM83 119h1v1h-1zM30 120h1v1h-1zM33 120h1v1h-1zM34 120h1v1h-1zM48 122h1v1h-1zM47 123h1v1h-1zM72 123h1v1h-1zM40 124h1v1h-1zM73 124h1v1h-1zM77 124h1v1h-1zM67 125h1v1h-1zM29 126h1v1h-1zM35 126h1v1h-1zM72 126h1v1h-1zM92 126h1v1h-1zM30 127h1v1h-1zM46 127h1v1h-1zM52 127h1v1h-1zM67 127h1v1h-1zM92 127h1v1h-1zM22 128h1v1h-1zM27 128h1v1h-1zM35 128h1v1h-1zM47 128h1v1h-1zM81 128h1v1h-1zM23 129h1v1h-1zM32 129h1v1h-1zM33 129h1v1h-1zM36 129h1v1h-1zM37 129h1v1h-1zM45 129h1v1h-1zM46 129h1v1h-1zM59 129h1v1h-1zM62 129h1v1h-1z" opacity="0.45"/>
<rect x="18.3" y="59.3" width="75.4" height="70.4" fill="none" stroke="#6a8c94" stroke-width="0.6"/>
<text x="15.2" y="95.2" font-size="10" text-anchor="middle" fill="#1a1a1a" stroke="#1a1a1a" transform="rotate(-90 15.2 95.2)">N*M volumes</text>
<text x="56" y="141" font-size="10" text-anchor="middle" fill="#1a1a1a" stroke="#1a1a1a" >1024 ROIs</text>
<line x1="98.5" y1="90.5" x2="156.5" y2="90.5" stroke="#888" stroke-width="1"/>
<polygon points="166.5,90.5 155.5,86.9 155.5,94.1" fill="#888"/>
<text x="127" y="73" font-size="10" font-weight="bold" text-anchor="middle" fill="#111" stroke="#111" >Temporal</text>
<text x="127" y="84.7" font-size="10" font-weight="bold" text-anchor="middle" fill="#111" stroke="#111" >clustering</text>
<text x="127.5" y="105" font-size="10" text-anchor="middle" fill="#222" stroke="#222" >Distance:</text>
<text x="127.5" y="114.9" font-size="10" text-anchor="middle" fill="#222" stroke="#222" >Pearson</text>
<text x="127.5" y="124.6" font-size="10" text-anchor="middle" fill="#222" stroke="#222" >correlation</text>
<rect x="167.5" y="34.5" width="102" height="113" fill="none" stroke="#a8a8a8" stroke-width="1"/>
<text x="216.5" y="48.8" font-size="11.2" font-weight="bold" text-anchor="middle" fill="#a3500f" stroke="#a3500f" >Individual CAPs</text>
<g transform="translate(170.5 85.3) skewY(-28.70)">
<rect x="0" y="0" width="40" height="39.7" fill="#88f070" />
<path fill="#70f090" d="M0 0h1.13v3.99h-1.13zM2.22 0h1.13v3.99h-1.13zM2.22 31.76h1.13v3.99h-1.13zM4.44 0h1.13v3.99h-1.13zM4.44 35.73h1.13v3.99h-1.13zM5.56 19.85h1.13v3.99h-1.13zM7.78 0h1.13v3.99h-1.13zM7.78 15.88h1.13v3.99h-1.13zM11.11 23.82h1.13v3.99h-1.13zM12.22 0h1.13v3.99h-1.13zM12.22 3.97h1.13v3.99h-1.13zM13.33 11.91h1.13v3.99h-1.13zM14.44 7.94h1.13v3.99h-1.13zM15.56 7.94h1.13v3.99h-1.13zM15.56 31.76h1.13v3.99h-1.13zM16.67 19.85h1.13v3.99h-1.13zM17.78 31.76h1.13v3.99h-1.13zM18.89 31.76h1.13v3.99h-1.13zM22.22 15.88h1.13v3.99h-1.13zM22.22 19.85h1.13v3.99h-1.13zM22.22 35.73h1.13v3.99h-1.13zM23.33 11.91h1.13v3.99h-1.13zM23.33 15.88h1.13v3.99h-1.13zM23.33 19.85h1.13v3.99h-1.13zM25.56 27.79h1.13v3.99h-1.13zM27.78 7.94h1.13v3.99h-1.13zM27.78 35.73h1.13v3.99h-1.13zM30 7.94h1.13v3.99h-1.13zM30 15.88h1.13v3.99h-1.13zM31.11 0h1.13v3.99h-1.13zM35.56 7.94h1.13v3.99h-1.13zM35.56 19.85h1.13v3.99h-1.13z" />
<path fill="#60f0a0" d="M0 7.94h1.13v3.99h-1.13zM0 31.76h1.13v3.99h-1.13zM1.11 23.82h1.13v3.99h-1.13zM2.22 15.88h1.13v3.99h-1.13zM3.33 35.73h1.13v3.99h-1.13zM4.44 3.97h1.13v3.99h-1.13zM4.44 19.85h1.13v3.99h-1.13zM4.44 23.82h1.13v3.99h-1.13zM5.56 0h1.13v3.99h-1.13zM5.56 7.94h1.13v3.99h-1.13zM6.67 15.88h1.13v3.99h-1.13zM6.67 19.85h1.13v3.99h-1.13zM8.89 3.97h1.13v3.99h-1.13zM8.89 15.88h1.13v3.99h-1.13zM8.89 23.82h1.13v3.99h-1.13zM12.22 27.79h1.13v3.99h-1.13zM13.33 7.94h1.13v3.99h-1.13zM15.56 3.97h1.13v3.99h-1.13zM18.89 27.79h1.13v3.99h-1.13zM21.11 15.88h1.13v3.99h-1.13zM21.11 27.79h1.13v3.99h-1.13zM22.22 23.82h1.13v3.99h-1.13zM23.33 23.82h1.13v3.99h-1.13zM24.44 11.91h1.13v3.99h-1.13zM25.56 3.97h1.13v3.99h-1.13zM25.56 19.85h1.13v3.99h-1.13zM25.56 31.76h1.13v3.99h-1.13zM26.67 3.97h1.13v3.99h-1.13zM26.67 19.85h1.13v3.99h-1.13zM28.89 27.79h1.13v3.99h-1.13zM33.33 3.97h1.13v3.99h-1.13zM33.33 15.88h1.13v3.99h-1.13zM34.44 3.97h1.13v3.99h-1.13zM34.44 7.94h1.13v3.99h-1.13zM34.44 11.91h1.13v3.99h-1.13zM34.44 19.85h1.13v3.99h-1.13zM34.44 23.82h1.13v3.99h-1.13zM36.67 0h1.13v3.99h-1.13zM36.67 3.97h1.13v3.99h-1.13zM36.67 7.94h1.13v3.99h-1.13zM38.89 15.88h1.13v3.99h-1.13zM38.89 19.85h1.13v3.99h-1.13zM38.89 27.79h1.13v3.99h-1.13zM38.89 35.73h1.13v3.99h-1.13z" />
<path fill="#c8e840" d="M0 11.91h1.13v3.99h-1.13zM2.22 3.97h1.13v3.99h-1.13zM3.33 0h1.13v3.99h-1.13zM3.33 11.91h1.13v3.99h-1.13zM5.56 11.91h1.13v3.99h-1.13zM6.67 0h1.13v3.99h-1.13zM6.67 23.82h1.13v3.99h-1.13zM11.11 3.97h1.13v3.99h-1.13zM11.11 7.94h1.13v3.99h-1.13zM13.33 3.97h1.13v3.99h-1.13zM15.56 23.82h1.13v3.99h-1.13zM16.67 3.97h1.13v3.99h-1.13zM16.67 11.91h1.13v3.99h-1.13zM17.78 0h1.13v3.99h-1.13zM18.89 23.82h1.13v3.99h-1.13zM20 15.88h1.13v3.99h-1.13zM20 23.82h1.13v3.99h-1.13zM21.11 0h1.13v3.99h-1.13zM21.11 31.76h1.13v3.99h-1.13zM22.22 3.97h1.13v3.99h-1.13zM24.44 35.73h1.13v3.99h-1.13zM25.56 11.91h1.13v3.99h-1.13zM25.56 15.88h1.13v3.99h-1.13zM26.67 11.91h1.13v3.99h-1.13zM26.67 27.79h1.13v3.99h-1.13zM27.78 0h1.13v3.99h-1.13zM28.89 19.85h1.13v3.99h-1.13zM31.11 19.85h1.13v3.99h-1.13zM34.44 35.73h1.13v3.99h-1.13zM37.78 3.97h1.13v3.99h-1.13z" />
<path fill="#a8f050" d="M0 19.85h1.13v3.99h-1.13zM1.11 7.94h1.13v3.99h-1.13zM1.11 15.88h1.13v3.99h-1.13zM1.11 19.85h1.13v3.99h-1.13zM1.11 27.79h1.13v3.99h-1.13zM1.11 31.76h1.13v3.99h-1.13zM1.11 35.73h1.13v3.99h-1.13zM3.33 15.88h1.13v3.99h-1.13zM3.33 23.82h1.13v3.99h-1.13zM4.44 7.94h1.13v3.99h-1.13zM6.67 3.97h1.13v3.99h-1.13zM6.67 11.91h1.13v3.99h-1.13zM6.67 31.76h1.13v3.99h-1.13zM6.67 35.73h1.13v3.99h-1.13zM7.78 23.82h1.13v3.99h-1.13zM7.78 31.76h1.13v3.99h-1.13zM8.89 0h1.13v3.99h-1.13zM8.89 7.94h1.13v3.99h-1.13zM8.89 19.85h1.13v3.99h-1.13zM8.89 27.79h1.13v3.99h-1.13zM8.89 35.73h1.13v3.99h-1.13zM10 7.94h1.13v3.99h-1.13zM10 23.82h1.13v3.99h-1.13zM10 35.73h1.13v3.99h-1.13zM11.11 11.91h1.13v3.99h-1.13zM11.11 35.73h1.13v3.99h-1.13zM12.22 11.91h1.13v3.99h-1.13zM12.22 31.76h1.13v3.99h-1.13zM13.33 0h1.13v3.99h-1.13zM13.33 19.85h1.13v3.99h-1.13zM13.33 31.76h1.13v3.99h-1.13zM14.44 23.82h1.13v3.99h-1.13zM15.56 27.79h1.13v3.99h-1.13zM16.67 15.88h1.13v3.99h-1.13zM16.67 27.79h1.13v3.99h-1.13zM17.78 3.97h1.13v3.99h-1.13zM17.78 11.91h1.13v3.99h-1.13zM17.78 19.85h1.13v3.99h-1.13zM17.78 23.82h1.13v3.99h-1.13zM18.89 3.97h1.13v3.99h-1.13zM18.89 7.94h1.13v3.99h-1.13zM18.89 15.88h1.13v3.99h-1.13zM20 3.97h1.13v3.99h-1.13zM20 27.79h1.13v3.99h-1.13zM20 31.76h1.13v3.99h-1.13zM21.11 11.91h1.13v3.99h-1.13zM21.11 35.73h1.13v3.99h-1.13zM22.22 0h1.13v3.99h-1.13zM22.22 7.94h1.13v3.99h-1.13zM23.33 7.94h1.13v3.99h-1.13zM24.44 23.82h1.13v3.99h-1.13zM25.56 7.94h1.13v3.99h-1.13zM25.56 23.82h1.13v3.99h-1.13zM26.67 0h1.13v3.99h-1.13zM26.67 23.82h1.13v3.99h-1.13zM27.78 3.97h1.13v3.99h-1.13zM28.89 7.94h1.13v3.99h-1.13zM28.89 11.91h1.13v3.99h-1.13zM31.11 3.97h1.13v3.99h-1.13zM31.11 7.94h1.13v3.99h-1.13zM31.11 23.82h1.13v3.99h-1.13zM31.11 27.79h1.13v3.99h-1.13zM31.11 35.73h1.13v3.99h-1.13zM32.22 0h1.13v3.99h-1.13zM32.22 15.88h1.13v3.99h-1.13zM32.22 19.85h1.13v3.99h-1.13zM32.22 23.82h1.13v3.99h-1.13zM33.33 19.85h1.13v3.99h-1.13zM34.44 15.88h1.13v3.99h-1.13zM35.56 0h1.13v3.99h-1.13zM35.56 3.97h1.13v3.99h-1.13zM35.56 31.76h1.13v3.99h-1.13zM37.78 35.73h1.13v3.99h-1.13zM38.89 7.94h1.13v3.99h-1.13z" />
<path fill="#a8b050" d="M0 27.79h1.13v3.99h-1.13zM3.33 27.79h1.13v3.99h-1.13zM4.44 11.91h1.13v3.99h-1.13zM7.78 27.79h1.13v3.99h-1.13zM10 11.91h1.13v3.99h-1.13zM10 15.88h1.13v3.99h-1.13zM14.44 19.85h1.13v3.99h-1.13zM14.44 31.76h1.13v3.99h-1.13zM24.44 15.88h1.13v3.99h-1.13zM27.78 11.91h1.13v3.99h-1.13zM27.78 19.85h1.13v3.99h-1.13zM27.78 27.79h1.13v3.99h-1.13zM28.89 15.88h1.13v3.99h-1.13zM28.89 31.76h1.13v3.99h-1.13zM33.33 27.79h1.13v3.99h-1.13zM35.56 23.82h1.13v3.99h-1.13zM36.67 15.88h1.13v3.99h-1.13zM36.67 27.79h1.13v3.99h-1.13z" />
<path fill="#d0c040" d="M1.11 0h1.13v3.99h-1.13zM1.11 11.91h1.13v3.99h-1.13zM2.22 7.94h1.13v3.99h-1.13zM11.11 27.79h1.13v3.99h-1.13zM13.33 23.82h1.13v3.99h-1.13zM14.44 15.88h1.13v3.99h-1.13zM16.67 23.82h1.13v3.99h-1.13zM17.78 35.73h1.13v3.99h-1.13zM22.22 31.76h1.13v3.99h-1.13zM28.89 35.73h1.13v3.99h-1.13zM30 31.76h1.13v3.99h-1.13zM33.33 31.76h1.13v3.99h-1.13zM35.56 15.88h1.13v3.99h-1.13z" />
<rect x="0" y="0" width="40" height="39.7" fill="none" stroke="#5a6a70" stroke-width="0.6"/>
</g>
<g transform="translate(183.2 88.7) skewY(-29.14)">
<rect x="0" y="0" width="40" height="38.8" fill="#60f0a0" />
<path fill="#40f0d0" d="M0 7.76h1.13v3.9h-1.13zM0 31.04h1.13v3.9h-1.13zM1.11 15.52h1.13v3.9h-1.13zM1.11 34.92h1.13v3.9h-1.13zM2.22 0h1.13v3.9h-1.13zM4.44 3.88h1.13v3.9h-1.13zM5.56 31.04h1.13v3.9h-1.13zM6.67 7.76h1.13v3.9h-1.13zM6.67 34.92h1.13v3.9h-1.13zM7.78 3.88h1.13v3.9h-1.13zM7.78 11.64h1.13v3.9h-1.13zM7.78 19.4h1.13v3.9h-1.13zM8.89 23.28h1.13v3.9h-1.13zM8.89 31.04h1.13v3.9h-1.13zM10 15.52h1.13v3.9h-1.13zM10 19.4h1.13v3.9h-1.13zM10 23.28h1.13v3.9h-1.13zM10 27.16h1.13v3.9h-1.13zM11.11 31.04h1.13v3.9h-1.13zM12.22 3.88h1.13v3.9h-1.13zM12.22 7.76h1.13v3.9h-1.13zM13.33 0h1.13v3.9h-1.13zM13.33 7.76h1.13v3.9h-1.13zM13.33 31.04h1.13v3.9h-1.13zM14.44 0h1.13v3.9h-1.13zM14.44 23.28h1.13v3.9h-1.13zM15.56 7.76h1.13v3.9h-1.13zM15.56 11.64h1.13v3.9h-1.13zM16.67 31.04h1.13v3.9h-1.13zM16.67 34.92h1.13v3.9h-1.13zM17.78 23.28h1.13v3.9h-1.13zM18.89 0h1.13v3.9h-1.13zM20 11.64h1.13v3.9h-1.13zM20 15.52h1.13v3.9h-1.13zM23.33 11.64h1.13v3.9h-1.13zM23.33 23.28h1.13v3.9h-1.13zM23.33 34.92h1.13v3.9h-1.13zM24.44 15.52h1.13v3.9h-1.13zM24.44 19.4h1.13v3.9h-1.13zM25.56 7.76h1.13v3.9h-1.13zM25.56 15.52h1.13v3.9h-1.13zM27.78 7.76h1.13v3.9h-1.13zM27.78 11.64h1.13v3.9h-1.13zM27.78 27.16h1.13v3.9h-1.13zM27.78 31.04h1.13v3.9h-1.13zM27.78 34.92h1.13v3.9h-1.13zM28.89 15.52h1.13v3.9h-1.13zM28.89 19.4h1.13v3.9h-1.13zM31.11 34.92h1.13v3.9h-1.13zM32.22 23.28h1.13v3.9h-1.13zM33.33 0h1.13v3.9h-1.13zM33.33 3.88h1.13v3.9h-1.13zM33.33 7.76h1.13v3.9h-1.13zM33.33 11.64h1.13v3.9h-1.13zM33.33 27.16h1.13v3.9h-1.13zM35.56 11.64h1.13v3.9h-1.13zM35.56 31.04h1.13v3.9h-1.13zM36.67 0h1.13v3.9h-1.13zM36.67 3.88h1.13v3.9h-1.13zM36.67 27.16h1.13v3.9h-1.13zM36.67 31.04h1.13v3.9h-1.13zM37.78 15.52h1.13v3.9h-1.13zM37.78 19.4h1.13v3.9h-1.13zM37.78 23.28h1.13v3.9h-1.13zM38.89 7.76h1.13v3.9h-1.13z" />
<path fill="#a8e850" d="M0 23.28h1.13v3.9h-1.13zM1.11 31.04h1.13v3.9h-1.13zM3.33 31.04h1.13v3.9h-1.13zM7.78 23.28h1.13v3.9h-1.13zM10 0h1.13v3.9h-1.13zM10 11.64h1.13v3.9h-1.13zM11.11 11.64h1.13v3.9h-1.13zM14.44 19.4h1.13v3.9h-1.13zM14.44 34.92h1.13v3.9h-1.13zM18.89 15.52h1.13v3.9h-1.13zM23.33 19.4h1.13v3.9h-1.13zM26.67 0h1.13v3.9h-1.13zM32.22 15.52h1.13v3.9h-1.13zM33.33 15.52h1.13v3.9h-1.13zM34.44 31.04h1.13v3.9h-1.13z" />
<path fill="#90f070" d="M0 34.92h1.13v3.9h-1.13zM1.11 11.64h1.13v3.9h-1.13zM1.11 19.4h1.13v3.9h-1.13zM1.11 23.28h1.13v3.9h-1.13zM3.33 11.64h1.13v3.9h-1.13zM4.44 27.16h1.13v3.9h-1.13zM4.44 34.92h1.13v3.9h-1.13zM5.56 0h1.13v3.9h-1.13zM6.67 0h1.13v3.9h-1.13zM6.67 19.4h1.13v3.9h-1.13zM7.78 31.04h1.13v3.9h-1.13zM7.78 34.92h1.13v3.9h-1.13zM10 3.88h1.13v3.9h-1.13zM11.11 7.76h1.13v3.9h-1.13zM11.11 27.16h1.13v3.9h-1.13zM11.11 34.92h1.13v3.9h-1.13zM12.22 11.64h1.13v3.9h-1.13zM12.22 15.52h1.13v3.9h-1.13zM12.22 34.92h1.13v3.9h-1.13zM13.33 3.88h1.13v3.9h-1.13zM13.33 15.52h1.13v3.9h-1.13zM14.44 11.64h1.13v3.9h-1.13zM14.44 15.52h1.13v3.9h-1.13zM15.56 0h1.13v3.9h-1.13zM16.67 3.88h1.13v3.9h-1.13zM16.67 11.64h1.13v3.9h-1.13zM17.78 11.64h1.13v3.9h-1.13zM17.78 19.4h1.13v3.9h-1.13zM18.89 11.64h1.13v3.9h-1.13zM18.89 27.16h1.13v3.9h-1.13zM20 23.28h1.13v3.9h-1.13zM20 27.16h1.13v3.9h-1.13zM22.22 0h1.13v3.9h-1.13zM23.33 27.16h1.13v3.9h-1.13zM25.56 11.64h1.13v3.9h-1.13zM25.56 23.28h1.13v3.9h-1.13zM25.56 27.16h1.13v3.9h-1.13zM26.67 31.04h1.13v3.9h-1.13zM27.78 23.28h1.13v3.9h-1.13zM28.89 27.16h1.13v3.9h-1.13zM31.11 15.52h1.13v3.9h-1.13zM31.11 23.28h1.13v3.9h-1.13zM32.22 0h1.13v3.9h-1.13zM32.22 31.04h1.13v3.9h-1.13zM33.33 19.4h1.13v3.9h-1.13zM34.44 0h1.13v3.9h-1.13zM34.44 19.4h1.13v3.9h-1.13zM35.56 7.76h1.13v3.9h-1.13zM36.67 23.28h1.13v3.9h-1.13zM37.78 11.64h1.13v3.9h-1.13zM38.89 19.4h1.13v3.9h-1.13zM38.89 23.28h1.13v3.9h-1.13zM38.89 27.16h1.13v3.9h-1.13z" />
<path fill="#70f098" d="M2.22 3.88h1.13v3.9h-1.13zM2.22 11.64h1.13v3.9h-1.13zM2.22 34.92h1.13v3.9h-1.13zM3.33 15.52h1.13v3.9h-1.13zM3.33 19.4h1.13v3.9h-1.13zM3.33 23.28h1.13v3.9h-1.13zM4.44 11.64h1.13v3.9h-1.13zM4.44 15.52h1.13v3.9h-1.13zM4.44 19.4h1.13v3.9h-1.13zM5.56 11.64h1.13v3.9h-1.13zM6.67 27.16h1.13v3.9h-1.13zM8.89 34.92h1.13v3.9h-1.13zM10 7.76h1.13v3.9h-1.13zM10 34.92h1.13v3.9h-1.13zM12.22 23.28h1.13v3.9h-1.13zM13.33 27.16h1.13v3.9h-1.13zM14.44 27.16h1.13v3.9h-1.13zM16.67 7.76h1.13v3.9h-1.13zM16.67 15.52h1.13v3.9h-1.13zM17.78 7.76h1.13v3.9h-1.13zM18.89 34.92h1.13v3.9h-1.13zM20 3.88h1.13v3.9h-1.13zM20 19.4h1.13v3.9h-1.13zM21.11 3.88h1.13v3.9h-1.13zM22.22 19.4h1.13v3.9h-1.13zM23.33 0h1.13v3.9h-1.13zM23.33 31.04h1.13v3.9h-1.13zM24.44 0h1.13v3.9h-1.13zM25.56 19.4h1.13v3.9h-1.13zM26.67 7.76h1.13v3.9h-1.13zM26.67 23.28h1.13v3.9h-1.13zM27.78 15.52h1.13v3.9h-1.13zM27.78 19.4h1.13v3.9h-1.13zM28.89 34.92h1.13v3.9h-1.13zM30 3.88h1.13v3.9h-1.13zM30 7.76h1.13v3.9h-1.13zM31.11 19.4h1.13v3.9h-1.13zM31.11 31.04h1.13v3.9h-1.13zM32.22 19.4h1.13v3.9h-1.13zM33.33 34.92h1.13v3.9h-1.13zM34.44 15.52h1.13v3.9h-1.13zM34.44 27.16h1.13v3.9h-1.13zM34.44 34.92h1.13v3.9h-1.13zM35.56 15.52h1.13v3.9h-1.13zM35.56 19.4h1.13v3.9h-1.13zM36.67 11.64h1.13v3.9h-1.13zM36.67 19.4h1.13v3.9h-1.13zM36.67 34.92h1.13v3.9h-1.13zM38.89 3.88h1.13v3.9h-1.13z" />
<path fill="#50e8e0" d="M3.33 3.88h1.13v3.9h-1.13zM4.44 7.76h1.13v3.9h-1.13zM5.56 23.28h1.13v3.9h-1.13zM5.56 27.16h1.13v3.9h-1.13zM6.67 15.52h1.13v3.9h-1.13zM6.67 23.28h1.13v3.9h-1.13zM6.67 31.04h1.13v3.9h-1.13zM12.22 0h1.13v3.9h-1.13zM14.44 31.04h1.13v3.9h-1.13zM15.56 31.04h1.13v3.9h-1.13zM17.78 0h1.13v3.9h-1.13zM18.89 3.88h1.13v3.9h-1.13zM20 0h1.13v3.9h-1.13zM21.11 7.76h1.13v3.9h-1.13zM21.11 23.28h1.13v3.9h-1.13zM21.11 27.16h1.13v3.9h-1.13zM23.33 7.76h1.13v3.9h-1.13zM24.44 11.64h1.13v3.9h-1.13zM24.44 23.28h1.13v3.9h-1.13zM24.44 27.16h1.13v3.9h-1.13zM24.44 34.92h1.13v3.9h-1.13zM25.56 34.92h1.13v3.9h-1.13zM26.67 11.64h1.13v3.9h-1.13zM26.67 27.16h1.13v3.9h-1.13zM28.89 7.76h1.13v3.9h-1.13zM30 15.52h1.13v3.9h-1.13zM31.11 7.76h1.13v3.9h-1.13zM34.44 7.76h1.13v3.9h-1.13zM36.67 7.76h1.13v3.9h-1.13zM37.78 3.88h1.13v3.9h-1.13zM37.78 27.16h1.13v3.9h-1.13z" />
<rect x="0" y="0" width="40" height="38.8" fill="none" stroke="#5a6a70" stroke-width="0.6"/>
</g>
<g transform="translate(203 89) skewY(-29.68)">
<rect x="0" y="0" width="40" height="38.5" fill="#5cf0a8" />
<path fill="#70f098" d="M0 0h1.13v3.87h-1.13zM0 3.85h1.13v3.87h-1.13zM0 30.8h1.13v3.87h-1.13zM0 34.65h1.13v3.87h-1.13zM1.11 3.85h1.13v3.87h-1.13zM1.11 23.1h1.13v3.87h-1.13zM2.22 19.25h1.13v3.87h-1.13zM2.22 23.1h1.13v3.87h-1.13zM2.22 30.8h1.13v3.87h-1.13zM3.33 30.8h1.13v3.87h-1.13zM4.44 26.95h1.13v3.87h-1.13zM4.44 30.8h1.13v3.87h-1.13zM6.67 3.85h1.13v3.87h-1.13zM6.67 7.7h1.13v3.87h-1.13zM6.67 34.65h1.13v3.87h-1.13zM7.78 15.4h1.13v3.87h-1.13zM7.78 19.25h1.13v3.87h-1.13zM7.78 23.1h1.13v3.87h-1.13zM8.89 15.4h1.13v3.87h-1.13zM8.89 26.95h1.13v3.87h-1.13zM10 7.7h1.13v3.87h-1.13zM11.11 0h1.13v3.87h-1.13zM12.22 30.8h1.13v3.87h-1.13zM13.33 11.55h1.13v3.87h-1.13zM15.56 23.1h1.13v3.87h-1.13zM15.56 34.65h1.13v3.87h-1.13zM16.67 23.1h1.13v3.87h-1.13zM16.67 30.8h1.13v3.87h-1.13zM17.78 3.85h1.13v3.87h-1.13zM18.89 0h1.13v3.87h-1.13zM18.89 3.85h1.13v3.87h-1.13zM18.89 11.55h1.13v3.87h-1.13zM21.11 34.65h1.13v3.87h-1.13zM22.22 0h1.13v3.87h-1.13zM22.22 19.25h1.13v3.87h-1.13zM23.33 3.85h1.13v3.87h-1.13zM23.33 7.7h1.13v3.87h-1.13zM24.44 15.4h1.13v3.87h-1.13zM24.44 30.8h1.13v3.87h-1.13zM25.56 23.1h1.13v3.87h-1.13zM26.67 7.7h1.13v3.87h-1.13zM26.67 19.25h1.13v3.87h-1.13zM28.89 0h1.13v3.87h-1.13zM28.89 11.55h1.13v3.87h-1.13zM28.89 19.25h1.13v3.87h-1.13zM30 11.55h1.13v3.87h-1.13zM32.22 3.85h1.13v3.87h-1.13zM32.22 26.95h1.13v3.87h-1.13zM33.33 0h1.13v3.87h-1.13zM33.33 11.55h1.13v3.87h-1.13zM34.44 3.85h1.13v3.87h-1.13zM34.44 23.1h1.13v3.87h-1.13zM35.56 7.7h1.13v3.87h-1.13zM35.56 11.55h1.13v3.87h-1.13zM35.56 26.95h1.13v3.87h-1.13zM36.67 3.85h1.13v3.87h-1.13zM36.67 15.4h1.13v3.87h-1.13zM36.67 19.25h1.13v3.87h-1.13zM38.89 26.95h1.13v3.87h-1.13z" />
<path fill="#40f0e0" d="M0 11.55h1.13v3.87h-1.13zM0 19.25h1.13v3.87h-1.13zM1.11 15.4h1.13v3.87h-1.13zM2.22 11.55h1.13v3.87h-1.13zM4.44 0h1.13v3.87h-1.13zM4.44 15.4h1.13v3.87h-1.13zM5.56 7.7h1.13v3.87h-1.13zM5.56 11.55h1.13v3.87h-1.13zM5.56 23.1h1.13v3.87h-1.13zM6.67 26.95h1.13v3.87h-1.13zM7.78 3.85h1.13v3.87h-1.13zM7.78 30.8h1.13v3.87h-1.13zM8.89 7.7h1.13v3.87h-1.13zM8.89 11.55h1.13v3.87h-1.13zM8.89 34.65h1.13v3.87h-1.13zM10 3.85h1.13v3.87h-1.13zM10 11.55h1.13v3.87h-1.13zM10 34.65h1.13v3.87h-1.13zM11.11 11.55h1.13v3.87h-1.13zM11.11 26.95h1.13v3.87h-1.13zM12.22 7.7h1.13v3.87h-1.13zM13.33 3.85h1.13v3.87h-1.13zM13.33 7.7h1.13v3.87h-1.13zM14.44 0h1.13v3.87h-1.13zM14.44 7.7h1.13v3.87h-1.13zM14.44 26.95h1.13v3.87h-1.13zM15.56 0h1.13v3.87h-1.13zM15.56 30.8h1.13v3.87h-1.13zM16.67 7.7h1.13v3.87h-1.13zM16.67 11.55h1.13v3.87h-1.13zM16.67 26.95h1.13v3.87h-1.13zM17.78 0h1.13v3.87h-1.13zM17.78 11.55h1.13v3.87h-1.13zM18.89 7.7h1.13v3.87h-1.13zM20 23.1h1.13v3.87h-1.13zM20 26.95h1.13v3.87h-1.13zM20 34.65h1.13v3.87h-1.13zM21.11 3.85h1.13v3.87h-1.13zM22.22 7.7h1.13v3.87h-1.13zM22.22 15.4h1.13v3.87h-1.13zM22.22 34.65h1.13v3.87h-1.13zM23.33 30.8h1.13v3.87h-1.13zM24.44 11.55h1.13v3.87h-1.13zM24.44 19.25h1.13v3.87h-1.13zM25.56 0h1.13v3.87h-1.13zM25.56 3.85h1.13v3.87h-1.13zM26.67 15.4h1.13v3.87h-1.13zM26.67 34.65h1.13v3.87h-1.13zM27.78 0h1.13v3.87h-1.13zM27.78 26.95h1.13v3.87h-1.13zM28.89 23.1h1.13v3.87h-1.13zM30 34.65h1.13v3.87h-1.13zM31.11 11.55h1.13v3.87h-1.13zM31.11 34.65h1.13v3.87h-1.13zM32.22 11.55h1.13v3.87h-1.13zM32.22 15.4h1.13v3.87h-1.13zM32.22 30.8h1.13v3.87h-1.13zM33.33 7.7h1.13v3.87h-1.13zM33.33 23.1h1.13v3.87h-1.13zM33.33 26.95h1.13v3.87h-1.13zM34.44 0h1.13v3.87h-1.13zM34.44 15.4h1.13v3.87h-1.13zM34.44 19.25h1.13v3.87h-1.13zM34.44 26.95h1.13v3.87h-1.13zM36.67 7.7h1.13v3.87h-1.13zM36.67 11.55h1.13v3.87h-1.13zM37.78 3.85h1.13v3.87h-1.13zM38.89 15.4h1.13v3.87h-1.13zM38.89 19.25h1.13v3.87h-1.13zM38.89 23.1h1.13v3.87h-1.13z" />
<path fill="#48f0c8" d="M0 26.95h1.13v3.87h-1.13zM1.11 11.55h1.13v3.87h-1.13zM1.11 19.25h1.13v3.87h-1.13zM2.22 0h1.13v3.87h-1.13zM2.22 3.85h1.13v3.87h-1.13zM2.22 15.4h1.13v3.87h-1.13zM3.33 19.25h1.13v3.87h-1.13zM3.33 34.65h1.13v3.87h-1.13zM4.44 3.85h1.13v3.87h-1.13zM4.44 11.55h1.13v3.87h-1.13zM4.44 19.25h1.13v3.87h-1.13zM4.44 34.65h1.13v3.87h-1.13zM5.56 3.85h1.13v3.87h-1.13zM5.56 30.8h1.13v3.87h-1.13zM10 15.4h1.13v3.87h-1.13zM10 19.25h1.13v3.87h-1.13zM11.11 3.85h1.13v3.87h-1.13zM11.11 30.8h1.13v3.87h-1.13zM12.22 3.85h1.13v3.87h-1.13zM12.22 23.1h1.13v3.87h-1.13zM13.33 15.4h1.13v3.87h-1.13zM13.33 19.25h1.13v3.87h-1.13zM14.44 34.65h1.13v3.87h-1.13zM15.56 3.85h1.13v3.87h-1.13zM15.56 7.7h1.13v3.87h-1.13zM16.67 15.4h1.13v3.87h-1.13zM17.78 26.95h1.13v3.87h-1.13zM18.89 19.25h1.13v3.87h-1.13zM18.89 26.95h1.13v3.87h-1.13zM20 0h1.13v3.87h-1.13zM20 30.8h1.13v3.87h-1.13zM21.11 0h1.13v3.87h-1.13zM21.11 11.55h1.13v3.87h-1.13zM21.11 26.95h1.13v3.87h-1.13zM21.11 30.8h1.13v3.87h-1.13zM22.22 11.55h1.13v3.87h-1.13zM23.33 0h1.13v3.87h-1.13zM24.44 34.65h1.13v3.87h-1.13zM25.56 15.4h1.13v3.87h-1.13zM25.56 19.25h1.13v3.87h-1.13zM25.56 26.95h1.13v3.87h-1.13zM27.78 15.4h1.13v3.87h-1.13zM28.89 30.8h1.13v3.87h-1.13zM30 0h1.13v3.87h-1.13zM30 3.85h1.13v3.87h-1.13zM30 23.1h1.13v3.87h-1.13zM31.11 23.1h1.13v3.87h-1.13zM31.11 30.8h1.13v3.87h-1.13zM32.22 34.65h1.13v3.87h-1.13zM33.33 3.85h1.13v3.87h-1.13zM33.33 19.25h1.13v3.87h-1.13zM34.44 34.65h1.13v3.87h-1.13zM35.56 23.1h1.13v3.87h-1.13zM35.56 34.65h1.13v3.87h-1.13zM36.67 30.8h1.13v3.87h-1.13zM37.78 7.7h1.13v3.87h-1.13zM37.78 11.55h1.13v3.87h-1.13zM37.78 19.25h1.13v3.87h-1.13zM38.89 0h1.13v3.87h-1.13zM38.89 11.55h1.13v3.87h-1.13z" />
<path fill="#a0f060" d="M2.22 26.95h1.13v3.87h-1.13zM5.56 15.4h1.13v3.87h-1.13zM7.78 0h1.13v3.87h-1.13zM8.89 19.25h1.13v3.87h-1.13zM10 23.1h1.13v3.87h-1.13zM11.11 34.65h1.13v3.87h-1.13zM14.44 15.4h1.13v3.87h-1.13zM16.67 34.65h1.13v3.87h-1.13zM17.78 15.4h1.13v3.87h-1.13zM17.78 34.65h1.13v3.87h-1.13zM22.22 26.95h1.13v3.87h-1.13zM22.22 30.8h1.13v3.87h-1.13zM25.56 7.7h1.13v3.87h-1.13zM25.56 11.55h1.13v3.87h-1.13zM27.78 34.65h1.13v3.87h-1.13zM28.89 3.85h1.13v3.87h-1.13zM31.11 0h1.13v3.87h-1.13zM37.78 0h1.13v3.87h-1.13z" />
<path fill="#40c8f0" d="M6.67 0h1.13v3.87h-1.13zM6.67 19.25h1.13v3.87h-1.13zM8.89 3.85h1.13v3.87h-1.13zM12.22 0h1.13v3.87h-1.13zM16.67 0h1.13v3.87h-1.13zM18.89 15.4h1.13v3.87h-1.13zM18.89 34.65h1.13v3.87h-1.13zM23.33 19.25h1.13v3.87h-1.13zM24.44 3.85h1.13v3.87h-1.13zM25.56 34.65h1.13v3.87h-1.13zM27.78 19.25h1.13v3.87h-1.13zM28.89 7.7h1.13v3.87h-1.13zM38.89 30.8h1.13v3.87h-1.13z" />
<rect x="0" y="0" width="40" height="38.5" fill="none" stroke="#5a6a70" stroke-width="0.6"/>
</g>
<text x="197.5" y="126" font-size="10" text-anchor="middle" fill="#222" stroke="#222" >...</text>
<text x="245" y="71" font-size="8.7" fill="#222" stroke="#222" >CAP1</text>
<text x="245" y="80.8" font-size="8.7" fill="#222" stroke="#222" >CAP2</text>
<rect x="251.1" y="87.4" width="1.5" height="1.3" fill="#333" />
<rect x="254.5" y="87.4" width="1.5" height="1.3" fill="#333" />
<rect x="257.9" y="87.4" width="1.5" height="1.3" fill="#333" />
<text x="245" y="105" font-size="8.7" fill="#222" stroke="#222" >CAP8</text>
<text x="229.5" y="122.5" font-size="9" text-anchor="middle" fill="#222" stroke="#222" transform="rotate(-31 229.5 122.5)">1024 ROIs</text>
<line x1="173.5" y1="133.5" x2="234.8" y2="133.5" stroke="#888" stroke-width="1"/>
<polygon points="240.8,133.5 233.8,131.1 233.8,135.9" fill="#888"/>
<text x="205" y="143.8" font-size="10" text-anchor="middle" fill="#222" stroke="#222" >N participants</text>
<line x1="269.5" y1="91.5" x2="299.5" y2="91.5" stroke="#888" stroke-width="1"/>
<polygon points="309.5,91.5 298.5,87.9 298.5,95.1" fill="#888"/>
<text x="289.5" y="65.4" font-size="9" font-weight="bold" text-anchor="middle" fill="#111" stroke="#111" >Wilcoxon</text>
<text x="289.5" y="75.5" font-size="9" font-weight="bold" text-anchor="middle" fill="#111" stroke="#111" >signed</text>
<text x="289.5" y="86.5" font-size="9" font-weight="bold" text-anchor="middle" fill="#111" stroke="#111" >rank test</text>
<rect x="309.5" y="34.5" width="100" height="113" fill="none" stroke="#a8a8a8" stroke-width="1"/>
<text x="359.5" y="48.4" font-size="11.2" font-weight="bold" text-anchor="middle" fill="#a3500f" stroke="#a3500f" >Group CAPs</text>
<text x="362" y="63.5" font-size="10" text-anchor="middle" fill="#222" stroke="#222" ><tspan font-style="italic">Z</tspan>-scores</text>
<rect x="323.5" y="67" width="79" height="67.5" fill="#60e0a0" />
<path fill="#b0b070" d="M323.5 67h1.32v8.49h-1.32zM329.87 67h1.32v8.49h-1.32zM334.97 67h1.32v8.49h-1.32zM338.79 67h1.32v8.49h-1.32zM347.71 67h1.32v8.49h-1.32zM352.81 67h1.32v8.49h-1.32zM356.63 67h1.32v8.49h-1.32zM363 67h1.32v8.49h-1.32zM370.65 67h1.32v8.49h-1.32zM371.92 67h1.32v8.49h-1.32zM374.47 67h1.32v8.49h-1.32zM375.74 67h1.32v8.49h-1.32zM385.94 67h1.32v8.49h-1.32zM389.76 67h1.32v8.49h-1.32zM401.23 67h1.32v8.49h-1.32z" />
<path fill="#44e8c4" d="M324.77 67h1.32v8.49h-1.32zM327.32 67h1.32v8.49h-1.32zM331.15 67h1.32v8.49h-1.32zM333.69 67h1.32v8.49h-1.32zM336.24 67h1.32v8.49h-1.32zM337.52 67h1.32v8.49h-1.32zM341.34 67h1.32v8.49h-1.32zM342.61 67h1.32v8.49h-1.32zM350.26 67h1.32v8.49h-1.32zM354.08 67h1.32v8.49h-1.32zM355.35 67h1.32v8.49h-1.32zM359.18 67h1.32v8.49h-1.32zM365.55 67h1.32v8.49h-1.32zM366.82 67h1.32v8.49h-1.32zM368.1 67h1.32v8.49h-1.32zM379.56 67h1.32v8.49h-1.32zM388.48 67h1.32v8.49h-1.32zM392.31 67h1.32v8.49h-1.32zM394.85 67h1.32v8.49h-1.32zM328.6 126.06h1.32v8.49h-1.32zM329.87 126.06h1.32v8.49h-1.32zM331.15 126.06h1.32v8.49h-1.32zM338.79 126.06h1.32v8.49h-1.32zM346.44 126.06h1.32v8.49h-1.32zM347.71 126.06h1.32v8.49h-1.32zM354.08 126.06h1.32v8.49h-1.32zM359.18 126.06h1.32v8.49h-1.32zM360.45 126.06h1.32v8.49h-1.32zM373.19 126.06h1.32v8.49h-1.32zM377.02 126.06h1.32v8.49h-1.32zM378.29 126.06h1.32v8.49h-1.32zM382.11 126.06h1.32v8.49h-1.32zM384.66 126.06h1.32v8.49h-1.32zM389.76 126.06h1.32v8.49h-1.32zM392.31 126.06h1.32v8.49h-1.32zM398.68 126.06h1.32v8.49h-1.32zM399.95 126.06h1.32v8.49h-1.32z" />
<path fill="#a0e044" d="M326.05 67h1.32v8.49h-1.32zM328.6 67h1.32v8.49h-1.32zM343.89 67h1.32v8.49h-1.32zM346.44 67h1.32v8.49h-1.32zM360.45 67h1.32v8.49h-1.32zM361.73 67h1.32v8.49h-1.32zM364.27 67h1.32v8.49h-1.32zM373.19 67h1.32v8.49h-1.32zM380.84 67h1.32v8.49h-1.32zM398.68 67h1.32v8.49h-1.32zM332.42 126.06h1.32v8.49h-1.32zM336.24 126.06h1.32v8.49h-1.32zM342.61 126.06h1.32v8.49h-1.32zM343.89 126.06h1.32v8.49h-1.32zM352.81 126.06h1.32v8.49h-1.32zM355.35 126.06h1.32v8.49h-1.32zM357.9 126.06h1.32v8.49h-1.32zM368.1 126.06h1.32v8.49h-1.32zM393.58 126.06h1.32v8.49h-1.32z" />
<path fill="#e0a030" d="M332.42 67h1.32v8.49h-1.32zM382.11 67h1.32v8.49h-1.32zM393.58 67h1.32v8.49h-1.32zM327.32 100.75h1.32v8.49h-1.32zM340.06 100.75h1.32v8.49h-1.32zM343.89 100.75h1.32v8.49h-1.32zM347.71 100.75h1.32v8.49h-1.32zM354.08 100.75h1.32v8.49h-1.32zM365.55 100.75h1.32v8.49h-1.32zM374.47 100.75h1.32v8.49h-1.32zM326.05 126.06h1.32v8.49h-1.32zM340.06 126.06h1.32v8.49h-1.32zM345.16 126.06h1.32v8.49h-1.32zM356.63 126.06h1.32v8.49h-1.32zM370.65 126.06h1.32v8.49h-1.32zM371.92 126.06h1.32v8.49h-1.32zM401.23 126.06h1.32v8.49h-1.32z" />
<path fill="#e07020" d="M340.06 67h1.32v8.49h-1.32zM351.53 67h1.32v8.49h-1.32zM357.9 67h1.32v8.49h-1.32z" />
<path fill="#70e080" d="M345.16 67h1.32v8.49h-1.32zM348.98 67h1.32v8.49h-1.32zM383.39 67h1.32v8.49h-1.32zM387.21 67h1.32v8.49h-1.32zM399.95 67h1.32v8.49h-1.32z" />
<path fill="#34c0e0" d="M369.37 67h1.32v8.49h-1.32zM377.02 67h1.32v8.49h-1.32zM378.29 67h1.32v8.49h-1.32zM384.66 67h1.32v8.49h-1.32zM391.03 67h1.32v8.49h-1.32zM396.13 67h1.32v8.49h-1.32zM397.4 67h1.32v8.49h-1.32z" />
<path fill="#50d0e0" d="M323.5 75.44h1.32v8.49h-1.32zM332.42 75.44h1.32v8.49h-1.32zM334.97 75.44h1.32v8.49h-1.32zM336.24 75.44h1.32v8.49h-1.32zM342.61 75.44h1.32v8.49h-1.32zM350.26 75.44h1.32v8.49h-1.32zM385.94 75.44h1.32v8.49h-1.32zM389.76 75.44h1.32v8.49h-1.32zM393.58 75.44h1.32v8.49h-1.32z" />
<path fill="#d08030" d="M324.77 75.44h1.32v8.49h-1.32zM326.05 75.44h1.32v8.49h-1.32zM359.18 75.44h1.32v8.49h-1.32zM377.02 75.44h1.32v8.49h-1.32zM383.39 75.44h1.32v8.49h-1.32zM387.21 75.44h1.32v8.49h-1.32zM388.48 75.44h1.32v8.49h-1.32zM401.23 75.44h1.32v8.49h-1.32z" />
<path fill="#a0a070" d="M327.32 75.44h1.32v8.49h-1.32zM331.15 75.44h1.32v8.49h-1.32zM341.34 75.44h1.32v8.49h-1.32zM345.16 75.44h1.32v8.49h-1.32zM354.08 75.44h1.32v8.49h-1.32zM357.9 75.44h1.32v8.49h-1.32zM365.55 75.44h1.32v8.49h-1.32zM366.82 75.44h1.32v8.49h-1.32zM375.74 75.44h1.32v8.49h-1.32zM380.84 75.44h1.32v8.49h-1.32zM382.11 75.44h1.32v8.49h-1.32zM397.4 75.44h1.32v8.49h-1.32zM398.68 75.44h1.32v8.49h-1.32z" />
<path fill="#80e070" d="M328.6 75.44h1.32v8.49h-1.32zM338.79 75.44h1.32v8.49h-1.32zM355.35 75.44h1.32v8.49h-1.32zM360.45 75.44h1.32v8.49h-1.32zM361.73 75.44h1.32v8.49h-1.32zM363 75.44h1.32v8.49h-1.32zM368.1 75.44h1.32v8.49h-1.32zM392.31 75.44h1.32v8.49h-1.32zM394.85 75.44h1.32v8.49h-1.32zM396.13 75.44h1.32v8.49h-1.32z" />
<path fill="#c8c050" d="M329.87 75.44h1.32v8.49h-1.32zM337.52 75.44h1.32v8.49h-1.32zM369.37 75.44h1.32v8.49h-1.32zM384.66 75.44h1.32v8.49h-1.32zM368.1 100.75h1.32v8.49h-1.32zM371.92 100.75h1.32v8.49h-1.32zM375.74 100.75h1.32v8.49h-1.32zM396.13 100.75h1.32v8.49h-1.32zM398.68 100.75h1.32v8.49h-1.32z" />
<path fill="#44e8d0" d="M333.69 75.44h1.32v8.49h-1.32zM340.06 75.44h1.32v8.49h-1.32zM343.89 75.44h1.32v8.49h-1.32zM346.44 75.44h1.32v8.49h-1.32zM347.71 75.44h1.32v8.49h-1.32zM348.98 75.44h1.32v8.49h-1.32zM351.53 75.44h1.32v8.49h-1.32zM352.81 75.44h1.32v8.49h-1.32zM356.63 75.44h1.32v8.49h-1.32zM364.27 75.44h1.32v8.49h-1.32zM370.65 75.44h1.32v8.49h-1.32zM371.92 75.44h1.32v8.49h-1.32zM373.19 75.44h1.32v8.49h-1.32zM374.47 75.44h1.32v8.49h-1.32zM378.29 75.44h1.32v8.49h-1.32zM379.56 75.44h1.32v8.49h-1.32zM391.03 75.44h1.32v8.49h-1.32zM399.95 75.44h1.32v8.49h-1.32z" />
<path fill="#44e8c0" d="M323.5 83.88h1.32v8.49h-1.32zM324.77 83.88h1.32v8.49h-1.32zM326.05 83.88h1.32v8.49h-1.32zM327.32 83.88h1.32v8.49h-1.32zM329.87 83.88h1.32v8.49h-1.32zM331.15 83.88h1.32v8.49h-1.32zM332.42 83.88h1.32v8.49h-1.32zM333.69 83.88h1.32v8.49h-1.32zM336.24 83.88h1.32v8.49h-1.32zM340.06 83.88h1.32v8.49h-1.32zM341.34 83.88h1.32v8.49h-1.32zM345.16 83.88h1.32v8.49h-1.32zM351.53 83.88h1.32v8.49h-1.32zM352.81 83.88h1.32v8.49h-1.32zM355.35 83.88h1.32v8.49h-1.32zM357.9 83.88h1.32v8.49h-1.32zM359.18 83.88h1.32v8.49h-1.32zM363 83.88h1.32v8.49h-1.32zM365.55 83.88h1.32v8.49h-1.32zM371.92 83.88h1.32v8.49h-1.32zM374.47 83.88h1.32v8.49h-1.32zM380.84 83.88h1.32v8.49h-1.32zM389.76 83.88h1.32v8.49h-1.32zM393.58 83.88h1.32v8.49h-1.32zM394.85 83.88h1.32v8.49h-1.32zM396.13 83.88h1.32v8.49h-1.32zM397.4 83.88h1.32v8.49h-1.32z" />
<path fill="#9c9c70" d="M328.6 83.88h1.32v8.49h-1.32zM334.97 83.88h1.32v8.49h-1.32zM342.61 83.88h1.32v8.49h-1.32zM343.89 83.88h1.32v8.49h-1.32zM348.98 83.88h1.32v8.49h-1.32zM350.26 83.88h1.32v8.49h-1.32zM354.08 83.88h1.32v8.49h-1.32zM361.73 83.88h1.32v8.49h-1.32zM366.82 83.88h1.32v8.49h-1.32zM373.19 83.88h1.32v8.49h-1.32zM377.02 83.88h1.32v8.49h-1.32zM379.56 83.88h1.32v8.49h-1.32zM391.03 83.88h1.32v8.49h-1.32zM392.31 83.88h1.32v8.49h-1.32zM401.23 83.88h1.32v8.49h-1.32z" />
<path fill="#40d0e0" d="M337.52 83.88h1.32v8.49h-1.32zM346.44 83.88h1.32v8.49h-1.32zM347.71 83.88h1.32v8.49h-1.32zM360.45 83.88h1.32v8.49h-1.32zM368.1 83.88h1.32v8.49h-1.32zM369.37 83.88h1.32v8.49h-1.32zM383.39 83.88h1.32v8.49h-1.32zM384.66 83.88h1.32v8.49h-1.32zM399.95 83.88h1.32v8.49h-1.32z" />
<path fill="#2a90e0" d="M338.79 83.88h1.32v8.49h-1.32zM364.27 83.88h1.32v8.49h-1.32z" />
<path fill="#a0e060" d="M356.63 83.88h1.32v8.49h-1.32zM370.65 83.88h1.32v8.49h-1.32zM375.74 83.88h1.32v8.49h-1.32zM378.29 83.88h1.32v8.49h-1.32zM382.11 83.88h1.32v8.49h-1.32zM385.94 83.88h1.32v8.49h-1.32zM387.21 83.88h1.32v8.49h-1.32zM388.48 83.88h1.32v8.49h-1.32zM398.68 83.88h1.32v8.49h-1.32zM336.24 117.62h1.32v8.49h-1.32zM347.71 117.62h1.32v8.49h-1.32zM366.82 117.62h1.32v8.49h-1.32zM378.29 117.62h1.32v8.49h-1.32zM379.56 117.62h1.32v8.49h-1.32zM383.39 117.62h1.32v8.49h-1.32z" />
<path fill="#80f070" d="M323.5 92.31h1.32v8.49h-1.32zM324.77 92.31h1.32v8.49h-1.32zM326.05 92.31h1.32v8.49h-1.32zM334.97 92.31h1.32v8.49h-1.32zM343.89 92.31h1.32v8.49h-1.32zM354.08 92.31h1.32v8.49h-1.32zM357.9 92.31h1.32v8.49h-1.32zM364.27 92.31h1.32v8.49h-1.32zM369.37 92.31h1.32v8.49h-1.32zM377.02 92.31h1.32v8.49h-1.32zM380.84 92.31h1.32v8.49h-1.32zM383.39 92.31h1.32v8.49h-1.32zM396.13 92.31h1.32v8.49h-1.32zM401.23 92.31h1.32v8.49h-1.32z" />
<path fill="#44f0c4" d="M327.32 92.31h1.32v8.49h-1.32zM337.52 92.31h1.32v8.49h-1.32zM347.71 92.31h1.32v8.49h-1.32zM351.53 92.31h1.32v8.49h-1.32zM355.35 92.31h1.32v8.49h-1.32zM356.63 92.31h1.32v8.49h-1.32zM371.92 92.31h1.32v8.49h-1.32zM379.56 92.31h1.32v8.49h-1.32zM382.11 92.31h1.32v8.49h-1.32zM393.58 92.31h1.32v8.49h-1.32zM397.4 92.31h1.32v8.49h-1.32zM398.68 92.31h1.32v8.49h-1.32z" />
<path fill="#a4f050" d="M328.6 92.31h1.32v8.49h-1.32zM329.87 92.31h1.32v8.49h-1.32zM331.15 92.31h1.32v8.49h-1.32zM332.42 92.31h1.32v8.49h-1.32zM341.34 92.31h1.32v8.49h-1.32zM348.98 92.31h1.32v8.49h-1.32zM360.45 92.31h1.32v8.49h-1.32zM361.73 92.31h1.32v8.49h-1.32zM363 92.31h1.32v8.49h-1.32zM366.82 92.31h1.32v8.49h-1.32zM374.47 92.31h1.32v8.49h-1.32zM375.74 92.31h1.32v8.49h-1.32zM385.94 92.31h1.32v8.49h-1.32zM387.21 92.31h1.32v8.49h-1.32zM388.48 92.31h1.32v8.49h-1.32zM389.76 92.31h1.32v8.49h-1.32zM392.31 92.31h1.32v8.49h-1.32zM394.85 92.31h1.32v8.49h-1.32z" />
<path fill="#e0e034" d="M333.69 92.31h1.32v8.49h-1.32zM338.79 92.31h1.32v8.49h-1.32zM342.61 92.31h1.32v8.49h-1.32zM370.65 92.31h1.32v8.49h-1.32zM373.19 92.31h1.32v8.49h-1.32zM378.29 92.31h1.32v8.49h-1.32zM391.03 92.31h1.32v8.49h-1.32zM399.95 92.31h1.32v8.49h-1.32z" />
<path fill="#44e0e0" d="M336.24 92.31h1.32v8.49h-1.32zM340.06 92.31h1.32v8.49h-1.32zM345.16 92.31h1.32v8.49h-1.32zM346.44 92.31h1.32v8.49h-1.32zM350.26 92.31h1.32v8.49h-1.32zM352.81 92.31h1.32v8.49h-1.32zM359.18 92.31h1.32v8.49h-1.32zM365.55 92.31h1.32v8.49h-1.32zM368.1 92.31h1.32v8.49h-1.32zM384.66 92.31h1.32v8.49h-1.32zM323.5 109.19h1.32v8.49h-1.32zM345.16 109.19h1.32v8.49h-1.32zM347.71 109.19h1.32v8.49h-1.32zM357.9 109.19h1.32v8.49h-1.32zM363 109.19h1.32v8.49h-1.32zM373.19 109.19h1.32v8.49h-1.32zM378.29 109.19h1.32v8.49h-1.32zM380.84 109.19h1.32v8.49h-1.32zM385.94 109.19h1.32v8.49h-1.32z" />
<path fill="#44e0c4" d="M323.5 100.75h1.32v8.49h-1.32zM331.15 100.75h1.32v8.49h-1.32zM337.52 100.75h1.32v8.49h-1.32zM341.34 100.75h1.32v8.49h-1.32zM348.98 100.75h1.32v8.49h-1.32zM350.26 100.75h1.32v8.49h-1.32zM357.9 100.75h1.32v8.49h-1.32zM364.27 100.75h1.32v8.49h-1.32zM373.19 100.75h1.32v8.49h-1.32zM380.84 100.75h1.32v8.49h-1.32zM383.39 100.75h1.32v8.49h-1.32zM399.95 100.75h1.32v8.49h-1.32zM323.5 117.62h1.32v8.49h-1.32zM332.42 117.62h1.32v8.49h-1.32zM334.97 117.62h1.32v8.49h-1.32zM340.06 117.62h1.32v8.49h-1.32zM341.34 117.62h1.32v8.49h-1.32zM343.89 117.62h1.32v8.49h-1.32zM345.16 117.62h1.32v8.49h-1.32zM354.08 117.62h1.32v8.49h-1.32zM373.19 117.62h1.32v8.49h-1.32zM375.74 117.62h1.32v8.49h-1.32zM380.84 117.62h1.32v8.49h-1.32zM389.76 117.62h1.32v8.49h-1.32zM391.03 117.62h1.32v8.49h-1.32zM393.58 117.62h1.32v8.49h-1.32zM398.68 117.62h1.32v8.49h-1.32z" />
<path fill="#44d8e0" d="M324.77 100.75h1.32v8.49h-1.32zM334.97 100.75h1.32v8.49h-1.32zM345.16 100.75h1.32v8.49h-1.32zM351.53 100.75h1.32v8.49h-1.32zM356.63 100.75h1.32v8.49h-1.32zM370.65 100.75h1.32v8.49h-1.32zM377.02 100.75h1.32v8.49h-1.32zM387.21 100.75h1.32v8.49h-1.32zM388.48 100.75h1.32v8.49h-1.32zM394.85 100.75h1.32v8.49h-1.32z" />
<path fill="#3a8ce0" d="M326.05 100.75h1.32v8.49h-1.32zM328.6 100.75h1.32v8.49h-1.32zM342.61 100.75h1.32v8.49h-1.32zM352.81 100.75h1.32v8.49h-1.32zM360.45 100.75h1.32v8.49h-1.32zM361.73 100.75h1.32v8.49h-1.32zM366.82 100.75h1.32v8.49h-1.32zM401.23 100.75h1.32v8.49h-1.32z" />
<path fill="#909070" d="M329.87 100.75h1.32v8.49h-1.32zM332.42 100.75h1.32v8.49h-1.32zM333.69 100.75h1.32v8.49h-1.32zM336.24 100.75h1.32v8.49h-1.32zM346.44 100.75h1.32v8.49h-1.32zM378.29 100.75h1.32v8.49h-1.32zM379.56 100.75h1.32v8.49h-1.32zM382.11 100.75h1.32v8.49h-1.32zM384.66 100.75h1.32v8.49h-1.32zM389.76 100.75h1.32v8.49h-1.32zM393.58 100.75h1.32v8.49h-1.32zM397.4 100.75h1.32v8.49h-1.32z" />
<path fill="#a0d060" d="M338.79 100.75h1.32v8.49h-1.32zM355.35 100.75h1.32v8.49h-1.32zM359.18 100.75h1.32v8.49h-1.32zM363 100.75h1.32v8.49h-1.32zM369.37 100.75h1.32v8.49h-1.32zM385.94 100.75h1.32v8.49h-1.32zM391.03 100.75h1.32v8.49h-1.32zM392.31 100.75h1.32v8.49h-1.32z" />
<path fill="#70f080" d="M324.77 109.19h1.32v8.49h-1.32zM333.69 109.19h1.32v8.49h-1.32zM341.34 109.19h1.32v8.49h-1.32zM346.44 109.19h1.32v8.49h-1.32zM352.81 109.19h1.32v8.49h-1.32zM359.18 109.19h1.32v8.49h-1.32zM365.55 109.19h1.32v8.49h-1.32zM369.37 109.19h1.32v8.49h-1.32zM374.47 109.19h1.32v8.49h-1.32zM375.74 109.19h1.32v8.49h-1.32zM399.95 109.19h1.32v8.49h-1.32z" />
<path fill="#a4f060" d="M326.05 109.19h1.32v8.49h-1.32zM331.15 109.19h1.32v8.49h-1.32zM334.97 109.19h1.32v8.49h-1.32zM338.79 109.19h1.32v8.49h-1.32zM343.89 109.19h1.32v8.49h-1.32zM348.98 109.19h1.32v8.49h-1.32zM350.26 109.19h1.32v8.49h-1.32zM351.53 109.19h1.32v8.49h-1.32zM354.08 109.19h1.32v8.49h-1.32zM355.35 109.19h1.32v8.49h-1.32zM360.45 109.19h1.32v8.49h-1.32zM361.73 109.19h1.32v8.49h-1.32zM366.82 109.19h1.32v8.49h-1.32zM368.1 109.19h1.32v8.49h-1.32zM371.92 109.19h1.32v8.49h-1.32zM377.02 109.19h1.32v8.49h-1.32zM379.56 109.19h1.32v8.49h-1.32zM387.21 109.19h1.32v8.49h-1.32zM388.48 109.19h1.32v8.49h-1.32zM391.03 109.19h1.32v8.49h-1.32zM392.31 109.19h1.32v8.49h-1.32zM393.58 109.19h1.32v8.49h-1.32zM394.85 109.19h1.32v8.49h-1.32zM396.13 109.19h1.32v8.49h-1.32zM398.68 109.19h1.32v8.49h-1.32zM401.23 109.19h1.32v8.49h-1.32z" />
<path fill="#44f0d0" d="M327.32 109.19h1.32v8.49h-1.32zM328.6 109.19h1.32v8.49h-1.32zM329.87 109.19h1.32v8.49h-1.32zM332.42 109.19h1.32v8.49h-1.32zM337.52 109.19h1.32v8.49h-1.32zM340.06 109.19h1.32v8.49h-1.32zM342.61 109.19h1.32v8.49h-1.32zM356.63 109.19h1.32v8.49h-1.32zM370.65 109.19h1.32v8.49h-1.32zM382.11 109.19h1.32v8.49h-1.32zM383.39 109.19h1.32v8.49h-1.32zM389.76 109.19h1.32v8.49h-1.32zM397.4 109.19h1.32v8.49h-1.32z" />
<path fill="#e0e040" d="M336.24 109.19h1.32v8.49h-1.32zM364.27 109.19h1.32v8.49h-1.32zM384.66 109.19h1.32v8.49h-1.32zM323.5 126.06h1.32v8.49h-1.32zM333.69 126.06h1.32v8.49h-1.32zM334.97 126.06h1.32v8.49h-1.32zM365.55 126.06h1.32v8.49h-1.32zM388.48 126.06h1.32v8.49h-1.32zM396.13 126.06h1.32v8.49h-1.32z" />
<path fill="#a09060" d="M324.77 117.62h1.32v8.49h-1.32zM327.32 117.62h1.32v8.49h-1.32zM329.87 117.62h1.32v8.49h-1.32zM333.69 117.62h1.32v8.49h-1.32zM337.52 117.62h1.32v8.49h-1.32zM356.63 117.62h1.32v8.49h-1.32zM357.9 117.62h1.32v8.49h-1.32zM359.18 117.62h1.32v8.49h-1.32zM363 117.62h1.32v8.49h-1.32zM364.27 117.62h1.32v8.49h-1.32zM374.47 117.62h1.32v8.49h-1.32zM387.21 117.62h1.32v8.49h-1.32zM392.31 117.62h1.32v8.49h-1.32zM394.85 117.62h1.32v8.49h-1.32zM397.4 117.62h1.32v8.49h-1.32zM399.95 117.62h1.32v8.49h-1.32zM401.23 117.62h1.32v8.49h-1.32z" />
<path fill="#e0b030" d="M326.05 117.62h1.32v8.49h-1.32zM328.6 117.62h1.32v8.49h-1.32zM348.98 117.62h1.32v8.49h-1.32zM355.35 117.62h1.32v8.49h-1.32zM361.73 117.62h1.32v8.49h-1.32zM369.37 117.62h1.32v8.49h-1.32zM370.65 117.62h1.32v8.49h-1.32zM371.92 117.62h1.32v8.49h-1.32zM377.02 117.62h1.32v8.49h-1.32zM382.11 117.62h1.32v8.49h-1.32zM384.66 117.62h1.32v8.49h-1.32zM385.94 117.62h1.32v8.49h-1.32zM388.48 117.62h1.32v8.49h-1.32zM396.13 117.62h1.32v8.49h-1.32z" />
<path fill="#c08040" d="M331.15 117.62h1.32v8.49h-1.32zM346.44 117.62h1.32v8.49h-1.32zM351.53 117.62h1.32v8.49h-1.32zM352.81 117.62h1.32v8.49h-1.32zM360.45 117.62h1.32v8.49h-1.32zM368.1 117.62h1.32v8.49h-1.32z" />
<path fill="#2a80e0" d="M338.79 117.62h1.32v8.49h-1.32zM342.61 117.62h1.32v8.49h-1.32zM350.26 117.62h1.32v8.49h-1.32zM365.55 117.62h1.32v8.49h-1.32z" />
<path fill="#40c0e0" d="M324.77 126.06h1.32v8.49h-1.32zM337.52 126.06h1.32v8.49h-1.32zM341.34 126.06h1.32v8.49h-1.32zM348.98 126.06h1.32v8.49h-1.32zM361.73 126.06h1.32v8.49h-1.32zM363 126.06h1.32v8.49h-1.32zM364.27 126.06h1.32v8.49h-1.32zM366.82 126.06h1.32v8.49h-1.32zM375.74 126.06h1.32v8.49h-1.32zM383.39 126.06h1.32v8.49h-1.32zM385.94 126.06h1.32v8.49h-1.32zM387.21 126.06h1.32v8.49h-1.32zM391.03 126.06h1.32v8.49h-1.32z" />
<path fill="#3a6ee0" d="M327.32 126.06h1.32v8.49h-1.32zM350.26 126.06h1.32v8.49h-1.32zM351.53 126.06h1.32v8.49h-1.32zM369.37 126.06h1.32v8.49h-1.32zM374.47 126.06h1.32v8.49h-1.32zM379.56 126.06h1.32v8.49h-1.32zM380.84 126.06h1.32v8.49h-1.32zM394.85 126.06h1.32v8.49h-1.32zM397.4 126.06h1.32v8.49h-1.32z" />
<rect x="323.5" y="67" width="79" height="67.5" fill="none" stroke="#444" stroke-width="0.6"/>
<text x="321.3" y="100.2" font-size="9" text-anchor="middle" fill="#222" stroke="#222" transform="rotate(-90 321.3 100.2)">8 CAPs</text>
<text x="362.5" y="143.5" font-size="9" text-anchor="middle" fill="#222" stroke="#222" >1024 ROIs</text>
<line x1="409.5" y1="94.5" x2="463.5" y2="94.5" stroke="#888" stroke-width="1"/>
<polygon points="473.5,94.5 462.5,90.9 462.5,98.1" fill="#888"/>
<text x="436.6" y="76.5" font-size="10" font-weight="bold" text-anchor="middle" fill="#111" stroke="#111" >Spatial</text>
<text x="436.6" y="88.5" font-size="10" font-weight="bold" text-anchor="middle" fill="#111" stroke="#111" >clustering</text>
<text x="438" y="106.9" font-size="10" text-anchor="middle" fill="#222" stroke="#222" >Distance:</text>
<text x="438" y="117" font-size="10" text-anchor="middle" fill="#222" stroke="#222" >Euclidean;</text>
<text x="438" y="126.9" font-size="10" text-anchor="middle" fill="#b0622a" stroke="#b0622a" >Clustering</text>
<text x="438" y="136.8" font-size="10" text-anchor="middle" fill="#b0622a" stroke="#b0622a" >for each</text>
<text x="438" y="146.6" font-size="10" text-anchor="middle" fill="#b0622a" stroke="#b0622a" >CAP</text>
<rect x="473.5" y="34.5" width="153" height="113" fill="none" stroke="#a8a8a8" stroke-width="1"/>
<text x="550.3" y="48.3" font-size="11.2" font-weight="bold" text-anchor="middle" fill="#a3500f" stroke="#a3500f" >Activations: ROI level</text>
<text x="494.2" y="62.2" font-size="9" text-anchor="middle" fill="#222" stroke="#222" >Label</text>
<text x="570.5" y="62.2" font-size="9" text-anchor="middle" fill="#222" stroke="#222" >Center</text>
<rect x="490.5" y="66" width="7.5" height="74.5" fill="#8a2040" />
<path fill="#805078" d="M490.5 66h7.5v1.29h-7.5zM490.5 78.42h7.5v1.29h-7.5zM490.5 79.66h7.5v1.29h-7.5zM490.5 80.9h7.5v1.29h-7.5zM490.5 114.42h7.5v1.29h-7.5zM490.5 136.78h7.5v1.29h-7.5z" />
<path fill="#c82038" d="M490.5 67.24h7.5v1.29h-7.5zM490.5 68.48h7.5v1.29h-7.5zM490.5 69.72h7.5v1.29h-7.5zM490.5 74.69h7.5v1.29h-7.5zM490.5 75.93h7.5v1.29h-7.5zM490.5 77.17h7.5v1.29h-7.5zM490.5 87.11h7.5v1.29h-7.5zM490.5 89.59h7.5v1.29h-7.5zM490.5 93.32h7.5v1.29h-7.5zM490.5 99.53h7.5v1.29h-7.5zM490.5 100.77h7.5v1.29h-7.5zM490.5 103.25h7.5v1.29h-7.5zM490.5 105.73h7.5v1.29h-7.5zM490.5 109.46h7.5v1.29h-7.5zM490.5 115.67h7.5v1.29h-7.5zM490.5 119.39h7.5v1.29h-7.5zM490.5 120.63h7.5v1.29h-7.5zM490.5 125.6h7.5v1.29h-7.5zM490.5 130.57h7.5v1.29h-7.5zM490.5 134.29h7.5v1.29h-7.5z" />
<path fill="#c05878" d="M490.5 70.97h7.5v1.29h-7.5zM490.5 131.81h7.5v1.29h-7.5z" />
<path fill="#a02848" d="M490.5 72.21h7.5v1.29h-7.5zM490.5 82.14h7.5v1.29h-7.5zM490.5 98.28h7.5v1.29h-7.5zM490.5 123.12h7.5v1.29h-7.5zM490.5 124.36h7.5v1.29h-7.5zM490.5 126.84h7.5v1.29h-7.5zM490.5 128.08h7.5v1.29h-7.5zM490.5 139.26h7.5v1.29h-7.5z" />
<path fill="#701838" d="M490.5 73.45h7.5v1.29h-7.5zM490.5 83.38h7.5v1.29h-7.5zM490.5 84.62h7.5v1.29h-7.5zM490.5 85.87h7.5v1.29h-7.5zM490.5 94.56h7.5v1.29h-7.5zM490.5 104.49h7.5v1.29h-7.5zM490.5 106.97h7.5v1.29h-7.5zM490.5 111.94h7.5v1.29h-7.5zM490.5 118.15h7.5v1.29h-7.5zM490.5 121.88h7.5v1.29h-7.5z" />
<path fill="#e03040" d="M490.5 88.35h7.5v1.29h-7.5zM490.5 95.8h7.5v1.29h-7.5zM490.5 110.7h7.5v1.29h-7.5zM490.5 113.18h7.5v1.29h-7.5zM490.5 116.91h7.5v1.29h-7.5zM490.5 129.32h7.5v1.29h-7.5zM490.5 133.05h7.5v1.29h-7.5zM490.5 138.02h7.5v1.29h-7.5z" />
<path fill="#581830" d="M490.5 90.83h7.5v1.29h-7.5zM490.5 92.08h7.5v1.29h-7.5zM490.5 97.04h7.5v1.29h-7.5zM490.5 102.01h7.5v1.29h-7.5zM490.5 108.22h7.5v1.29h-7.5zM490.5 135.53h7.5v1.29h-7.5z" />
<text x="486" y="100.3" font-size="9.5" text-anchor="middle" fill="#222" stroke="#222" transform="rotate(-90 486 100.3)">1024 ROIs</text>
<text x="516" y="78" font-size="10" text-anchor="middle" fill="#222" stroke="#222" >1</text>
<text x="516" y="107" font-size="10" text-anchor="middle" fill="#222" stroke="#222" >2</text>
<text x="516" y="136" font-size="10" text-anchor="middle" fill="#222" stroke="#222" >3</text>
<rect x="520.8" y="66" width="100" height="19.2" fill="#c00000" />
<rect x="520.8" y="85.2" width="100" height="38.7" fill="#c0c0c0" />
<rect x="520.8" y="123.9" width="100" height="18.1" fill="#002060" />
<text x="526" y="77.4" font-size="9.9" fill="#fff">z<tspan font-size="6.8" dy="1.7">high</tspan><tspan dy="-1.7">: co-activation(+)</tspan></text>
<text x="557" y="109" font-size="11" fill="#f0f0f0">Z<tspan font-size="6.6" dy="1.5">medium</tspan></text>
<text x="527.5" y="135" font-size="10" fill="#fff">Z<tspan font-size="7" dy="1.5">low</tspan><tspan dy="-1.5">: de-activation(-)</tspan></text>
<polyline points="626,94.5 638.5,94.5 638.5,160.5 3.5,160.5 3.5,286.5 10,286.5" fill="none" stroke="#888" stroke-width="1"/>
<polygon points="20.5,286.5 9.5,282.7 9.5,290.3" fill="#888"/>
<rect x="20.5" y="175.5" width="451" height="199" fill="none" stroke="#a8a8a8" stroke-width="1"/>
<text x="246" y="188.4" font-size="11.2" font-weight="bold" text-anchor="middle" fill="#a3500f" stroke="#a3500f" >Activations: Voxel Level and Network Level</text>
<text x="25.2" y="205.5" font-size="10.2" font-weight="bold" fill="#111" stroke="#111" >ROI activations</text>
<text x="207.7" y="205.5" font-size="10" font-weight="bold" text-anchor="middle" fill="#111" stroke="#111" >Voxel activations</text>
<text x="298" y="205.5" font-size="10" font-weight="bold" text-anchor="middle" fill="#111" stroke="#111" >Network mask</text>
<text x="409.2" y="205.5" font-size="10.25" font-weight="bold" text-anchor="middle" fill="#111" stroke="#111" >Network activations</text>
<rect x="24" y="220" width="56" height="44.8" fill="#c00000" />
<text x="52" y="239.4" font-size="11.6" fill="#fff" text-anchor="middle">Z<tspan font-size="6.9" dy="1.5">high</tspan><tspan dy="-1.5">:</tspan></text>
<text x="52" y="252.4" font-size="11" text-anchor="middle" fill="#fff" >Label (+)</text>
<text x="118.4" y="230.2" font-size="10" font-weight="bold" text-anchor="middle" fill="#111" stroke="#111" >ROI-to-Voxel</text>
<text x="118.4" y="241.4" font-size="10" font-weight="bold" text-anchor="middle" fill="#111" stroke="#111" >transformation</text>
<line x1="80" y1="245.5" x2="160" y2="245.5" stroke="#c00000" stroke-width="1.2"/>
<polygon points="168,245.3 156,241 156,249.6" fill="#c00000"/>
<rect x="182" y="211.6" width="62.3" height="60.6" fill="#fff" />
<path fill="#fbf1f2" d="M186.02 211.6h1.05v7.62h-1.05zM241.29 211.6h1.05v7.62h-1.05zM207.12 249.47h1.05v7.62h-1.05zM182 257.05h1.05v7.62h-1.05z" />
<path fill="#fbf2f3" d="M187.02 211.6h1.05v7.62h-1.05zM224.2 241.9h1.05v7.62h-1.05zM215.16 249.47h1.05v7.62h-1.05zM184.01 257.05h1.05v7.62h-1.05z" />
<path fill="#f8e6e8" d="M188.03 211.6h1.05v7.62h-1.05z" />
<path fill="#fbf0f1" d="M189.03 211.6h1.05v7.62h-1.05zM185.01 219.17h1.05v7.62h-1.05zM242.29 219.17h1.05v7.62h-1.05zM182 241.9h1.05v7.62h-1.05zM238.27 241.9h1.05v7.62h-1.05zM221.19 257.05h1.05v7.62h-1.05zM195.06 264.62h1.05v7.62h-1.05zM200.09 264.62h1.05v7.62h-1.05z" />
<path fill="#e0828a" d="M190.04 211.6h1.05v7.62h-1.05zM219.18 241.9h1.05v7.62h-1.05zM226.21 241.9h1.05v7.62h-1.05zM235.26 264.62h1.05v7.62h-1.05z" />
<path fill="#e8a2a8" d="M191.04 211.6h1.05v7.62h-1.05zM187.02 226.75h1.05v7.62h-1.05zM208.13 257.05h1.05v7.62h-1.05zM183 264.62h1.05v7.62h-1.05zM211.14 264.62h1.05v7.62h-1.05z" />
<path fill="#fcf2f3" d="M193.05 211.6h1.05v7.62h-1.05zM229.23 249.47h1.05v7.62h-1.05z" />
<path fill="#f3d0d3" d="M194.06 211.6h1.05v7.62h-1.05zM183 241.9h1.05v7.62h-1.05zM188.03 257.05h1.05v7.62h-1.05zM197.07 257.05h1.05v7.62h-1.05z" />
<path fill="#f7e0e2" d="M195.06 211.6h1.05v7.62h-1.05zM211.14 226.75h1.05v7.62h-1.05zM202.1 241.9h1.05v7.62h-1.05zM223.2 249.47h1.05v7.62h-1.05z" />
<path fill="#edb7bb" d="M196.07 211.6h1.05v7.62h-1.05z" />
<path fill="#ebaeb3" d="M197.07 211.6h1.05v7.62h-1.05zM220.18 219.17h1.05v7.62h-1.05zM208.13 241.9h1.05v7.62h-1.05zM238.27 249.47h1.05v7.62h-1.05zM228.22 257.05h1.05v7.62h-1.05z" />
<path fill="#ebb0b5" d="M198.08 211.6h1.05v7.62h-1.05zM197.07 241.9h1.05v7.62h-1.05z" />
<path fill="#ecb4b9" d="M199.08 211.6h1.05v7.62h-1.05zM210.14 219.17h1.05v7.62h-1.05zM238.27 219.17h1.05v7.62h-1.05zM222.19 257.05h1.05v7.62h-1.05z" />
<path fill="#de7d85" d="M200.09 211.6h1.05v7.62h-1.05z" />
<path fill="#e28c94" d="M201.09 211.6h1.05v7.62h-1.05z" />
<path fill="#f0c2c6" d="M202.1 211.6h1.05v7.62h-1.05z" />
<path fill="#fcf6f6" d="M203.1 211.6h1.05v7.62h-1.05zM235.26 211.6h1.05v7.62h-1.05zM198.08 226.75h1.05v7.62h-1.05zM241.29 241.9h1.05v7.62h-1.05zM199.08 249.47h1.05v7.62h-1.05zM213.15 249.47h1.05v7.62h-1.05zM216.16 249.47h1.05v7.62h-1.05zM189.03 264.62h1.05v7.62h-1.05z" />
<path fill="#e4939a" d="M204.11 211.6h1.05v7.62h-1.05z" />
<path fill="#e28a92" d="M205.11 211.6h1.05v7.62h-1.05z" />
<path fill="#df7f87" d="M206.12 211.6h1.05v7.62h-1.05z" />
<path fill="#f8e2e4" d="M207.12 211.6h1.05v7.62h-1.05zM237.27 257.05h1.05v7.62h-1.05z" />
<path fill="#e0838b" d="M208.13 211.6h1.05v7.62h-1.05zM234.25 264.62h1.05v7.62h-1.05z" />
<path fill="#de7b83" d="M209.13 211.6h1.05v7.62h-1.05zM183 257.05h1.05v7.62h-1.05zM216.16 264.62h1.05v7.62h-1.05z" />
<path fill="#f6dadd" d="M210.14 211.6h1.05v7.62h-1.05zM197.07 226.75h1.05v7.62h-1.05z" />
<path fill="#e39097" d="M211.14 211.6h1.05v7.62h-1.05zM199.08 257.05h1.05v7.62h-1.05zM219.18 257.05h1.05v7.62h-1.05z" />
<path fill="#f5d9db" d="M212.15 211.6h1.05v7.62h-1.05zM186.02 219.17h1.05v7.62h-1.05zM194.06 226.75h1.05v7.62h-1.05z" />
<path fill="#de7a83" d="M213.15 211.6h1.05v7.62h-1.05z" />
<path fill="#f4d4d7" d="M214.15 211.6h1.05v7.62h-1.05zM187.02 219.17h1.05v7.62h-1.05zM225.21 226.75h1.05v7.62h-1.05zM230.23 226.75h1.05v7.62h-1.05zM229.23 257.05h1.05v7.62h-1.05zM204.11 264.62h1.05v7.62h-1.05z" />
<path fill="#faeced" d="M216.16 211.6h1.05v7.62h-1.05zM182 219.17h1.05v7.62h-1.05zM213.15 226.75h1.05v7.62h-1.05zM230.23 234.32h1.05v7.62h-1.05zM189.03 257.05h1.05v7.62h-1.05z" />
<path fill="#e79fa5" d="M217.17 211.6h1.05v7.62h-1.05zM230.23 219.17h1.05v7.62h-1.05zM229.23 226.75h1.05v7.62h-1.05z" />
<path fill="#f1c8cc" d="M218.17 211.6h1.05v7.62h-1.05zM199.08 226.75h1.05v7.62h-1.05zM207.12 257.05h1.05v7.62h-1.05zM227.22 264.62h1.05v7.62h-1.05z" />
<path fill="#f3ced1" d="M219.18 211.6h1.05v7.62h-1.05zM239.28 219.17h1.05v7.62h-1.05zM228.22 226.75h1.05v7.62h-1.05zM185.01 234.32h1.05v7.62h-1.05zM237.27 241.9h1.05v7.62h-1.05zM196.07 257.05h1.05v7.62h-1.05z" />
<path fill="#f3cfd2" d="M220.18 211.6h1.05v7.62h-1.05zM230.23 211.6h1.05v7.62h-1.05zM223.2 219.17h1.05v7.62h-1.05z" />
<path fill="#f0c3c6" d="M221.19 211.6h1.05v7.62h-1.05zM188.03 219.17h1.05v7.62h-1.05zM185.01 257.05h1.05v7.62h-1.05zM198.08 257.05h1.05v7.62h-1.05z" />
<path fill="#d8626c" d="M222.19 211.6h1.05v7.62h-1.05zM236.26 211.6h1.05v7.62h-1.05z" />
<path fill="#ecb5b9" d="M223.2 211.6h1.05v7.62h-1.05z" />
<path fill="#efc0c4" d="M224.2 211.6h1.05v7.62h-1.05zM200.09 219.17h1.05v7.62h-1.05zM219.18 219.17h1.05v7.62h-1.05zM195.06 226.75h1.05v7.62h-1.05zM233.25 257.05h1.05v7.62h-1.05z" />
<path fill="#da6a73" d="M225.21 211.6h1.05v7.62h-1.05zM240.28 234.32h1.05v7.62h-1.05z" />
<path fill="#f2cdd1" d="M226.21 211.6h1.05v7.62h-1.05z" />
<path fill="#efbfc3" d="M227.22 211.6h1.05v7.62h-1.05zM210.14 257.05h1.05v7.62h-1.05zM191.04 264.62h1.05v7.62h-1.05zM209.13 264.62h1.05v7.62h-1.05z" />
<path fill="#dc747d" d="M228.22 211.6h1.05v7.62h-1.05z" />
<path fill="#fcf3f4" d="M229.23 211.6h1.05v7.62h-1.05zM203.1 249.47h1.05v7.62h-1.05zM214.15 249.47h1.05v7.62h-1.05z" />
<path fill="#eebbbf" d="M231.24 211.6h1.05v7.62h-1.05zM243.3 211.6h1.05v7.62h-1.05zM234.25 241.9h1.05v7.62h-1.05z" />
<path fill="#eaaaaf" d="M232.24 211.6h1.05v7.62h-1.05zM190.04 226.75h1.05v7.62h-1.05z" />
<path fill="#d65c66" d="M233.25 211.6h1.05v7.62h-1.05z" />
<path fill="#e38f96" d="M234.25 211.6h1.05v7.62h-1.05z" />
<path fill="#eebabe" d="M237.27 211.6h1.05v7.62h-1.05zM213.15 241.9h1.05v7.62h-1.05zM215.16 264.62h1.05v7.62h-1.05z" />
<path fill="#dd7981" d="M238.27 211.6h1.05v7.62h-1.05z" />
<path fill="#efc1c5" d="M239.28 211.6h1.05v7.62h-1.05zM209.13 226.75h1.05v7.62h-1.05zM212.15 264.62h1.05v7.62h-1.05z" />
<path fill="#d9666f" d="M240.28 211.6h1.05v7.62h-1.05z" />
<path fill="#f4d6d8" d="M242.29 211.6h1.05v7.62h-1.05zM210.14 226.75h1.05v7.62h-1.05zM234.25 249.47h1.05v7.62h-1.05z" />
<path fill="#f7dee0" d="M183 219.17h1.05v7.62h-1.05zM195.06 241.9h1.05v7.62h-1.05z" />
<path fill="#faedee" d="M184.01 219.17h1.05v7.62h-1.05zM225.21 234.32h1.05v7.62h-1.05zM214.15 241.9h1.05v7.62h-1.05zM209.13 249.47h1.05v7.62h-1.05zM226.21 257.05h1.05v7.62h-1.05zM243.3 264.62h1.05v7.62h-1.05z" />
<path fill="#fbeff0" d="M189.03 219.17h1.05v7.62h-1.05zM231.24 249.47h1.05v7.62h-1.05z" />
<path fill="#f8e4e6" d="M191.04 219.17h1.05v7.62h-1.05zM195.06 234.32h1.05v7.62h-1.05zM184.01 241.9h1.05v7.62h-1.05z" />
<path fill="#fdf7f7" d="M192.05 219.17h1.05v7.62h-1.05zM210.14 241.9h1.05v7.62h-1.05zM205.11 249.47h1.05v7.62h-1.05z" />
<path fill="#f5d6d9" d="M193.05 219.17h1.05v7.62h-1.05zM237.27 219.17h1.05v7.62h-1.05zM187.02 257.05h1.05v7.62h-1.05z" />
<path fill="#eaabb1" d="M194.06 219.17h1.05v7.62h-1.05z" />
<path fill="#eebcc0" d="M195.06 219.17h1.05v7.62h-1.05z" />
<path fill="#f9e9ea" d="M197.07 219.17h1.05v7.62h-1.05zM202.1 234.32h1.05v7.62h-1.05zM201.09 241.9h1.05v7.62h-1.05zM217.17 249.47h1.05v7.62h-1.05zM233.25 249.47h1.05v7.62h-1.05z" />
<path fill="#ecb4b8" d="M198.08 219.17h1.05v7.62h-1.05zM237.27 249.47h1.05v7.62h-1.05zM203.1 257.05h1.05v7.62h-1.05z" />
<path fill="#f9e7e9" d="M199.08 219.17h1.05v7.62h-1.05zM208.13 226.75h1.05v7.62h-1.05zM188.03 264.62h1.05v7.62h-1.05z" />
<path fill="#f2ced1" d="M201.09 219.17h1.05v7.62h-1.05zM192.05 234.32h1.05v7.62h-1.05z" />
<path fill="#f7e2e4" d="M202.1 219.17h1.05v7.62h-1.05z" />
<path fill="#eaabb0" d="M203.1 219.17h1.05v7.62h-1.05zM204.11 219.17h1.05v7.62h-1.05zM215.16 219.17h1.05v7.62h-1.05zM236.26 234.32h1.05v7.62h-1.05zM235.26 241.9h1.05v7.62h-1.05z" />
<path fill="#e9a6ac" d="M205.11 219.17h1.05v7.62h-1.05zM188.03 226.75h1.05v7.62h-1.05zM242.29 257.05h1.05v7.62h-1.05z" />
<path fill="#f2cbce" d="M206.12 219.17h1.05v7.62h-1.05zM191.04 241.9h1.05v7.62h-1.05zM196.07 241.9h1.05v7.62h-1.05zM236.26 249.47h1.05v7.62h-1.05zM193.05 264.62h1.05v7.62h-1.05zM217.17 264.62h1.05v7.62h-1.05z" />
<path fill="#e79ea4" d="M207.12 219.17h1.05v7.62h-1.05zM188.03 234.32h1.05v7.62h-1.05zM205.11 241.9h1.05v7.62h-1.05z" />
<path fill="#f0c6c9" d="M208.13 219.17h1.05v7.62h-1.05z" />
<path fill="#e7a1a7" d="M209.13 219.17h1.05v7.62h-1.05zM195.06 257.05h1.05v7.62h-1.05z" />
<path fill="#edb8bc" d="M211.14 219.17h1.05v7.62h-1.05zM231.24 219.17h1.05v7.62h-1.05zM188.03 241.9h1.05v7.62h-1.05z" />
<path fill="#f7e2e3" d="M212.15 219.17h1.05v7.62h-1.05z" />
<path fill="#e5969c" d="M213.15 219.17h1.05v7.62h-1.05zM240.28 249.47h1.05v7.62h-1.05z" />
<path fill="#eaacb1" d="M214.15 219.17h1.05v7.62h-1.05zM222.19 226.75h1.05v7.62h-1.05zM239.28 257.05h1.05v7.62h-1.05z" />
<path fill="#f0c4c7" d="M216.16 219.17h1.05v7.62h-1.05zM226.21 219.17h1.05v7.62h-1.05zM213.15 257.05h1.05v7.62h-1.05z" />
<path fill="#f7e1e3" d="M217.17 219.17h1.05v7.62h-1.05zM210.14 234.32h1.05v7.62h-1.05z" />
<path fill="#f8e6e7" d="M218.17 219.17h1.05v7.62h-1.05zM189.03 234.32h1.05v7.62h-1.05zM232.24 249.47h1.05v7.62h-1.05z" />
<path fill="#ecb5ba" d="M221.19 219.17h1.05v7.62h-1.05zM232.24 257.05h1.05v7.62h-1.05zM184.01 264.62h1.05v7.62h-1.05z" />
<path fill="#e69da3" d="M225.21 219.17h1.05v7.62h-1.05zM217.17 241.9h1.05v7.62h-1.05zM211.14 257.05h1.05v7.62h-1.05zM238.27 257.05h1.05v7.62h-1.05zM201.09 264.62h1.05v7.62h-1.05z" />
<path fill="#f2cdd0" d="M227.22 219.17h1.05v7.62h-1.05zM203.1 226.75h1.05v7.62h-1.05zM220.18 226.75h1.05v7.62h-1.05zM196.07 234.32h1.05v7.62h-1.05zM199.08 234.32h1.05v7.62h-1.05zM185.01 241.9h1.05v7.62h-1.05zM186.02 241.9h1.05v7.62h-1.05zM209.13 241.9h1.05v7.62h-1.05z" />
<path fill="#f5d8da" d="M228.22 219.17h1.05v7.62h-1.05zM239.28 226.75h1.05v7.62h-1.05zM190.04 257.05h1.05v7.62h-1.05z" />
<path fill="#e8a5ab" d="M229.23 219.17h1.05v7.62h-1.05z" />
<path fill="#f6dddf" d="M232.24 219.17h1.05v7.62h-1.05z" />
<path fill="#e8a3a9" d="M233.25 219.17h1.05v7.62h-1.05zM243.3 234.32h1.05v7.62h-1.05z" />
<path fill="#eaadb2" d="M234.25 219.17h1.05v7.62h-1.05zM198.08 241.9h1.05v7.62h-1.05zM202.1 257.05h1.05v7.62h-1.05z" />
<path fill="#f0c3c7" d="M236.26 219.17h1.05v7.62h-1.05zM212.15 226.75h1.05v7.62h-1.05zM197.07 234.32h1.05v7.62h-1.05z" />
<path fill="#e5979d" d="M240.28 219.17h1.05v7.62h-1.05z" />
<path fill="#eaadb3" d="M243.3 219.17h1.05v7.62h-1.05z" />
<path fill="#ecb3b8" d="M182 226.75h1.05v7.62h-1.05z" />
<path fill="#fbf2f2" d="M184.01 226.75h1.05v7.62h-1.05zM223.2 226.75h1.05v7.62h-1.05zM234.25 226.75h1.05v7.62h-1.05z" />
<path fill="#e08189" d="M185.01 226.75h1.05v7.62h-1.05zM227.22 241.9h1.05v7.62h-1.05z" />
<path fill="#e69aa0" d="M189.03 226.75h1.05v7.62h-1.05zM241.29 264.62h1.05v7.62h-1.05z" />
<path fill="#fcf5f6" d="M191.04 226.75h1.05v7.62h-1.05zM216.16 226.75h1.05v7.62h-1.05zM217.17 226.75h1.05v7.62h-1.05zM209.13 234.32h1.05v7.62h-1.05zM211.14 249.47h1.05v7.62h-1.05zM194.06 264.62h1.05v7.62h-1.05z" />
<path fill="#f9e8ea" d="M192.05 226.75h1.05v7.62h-1.05z" />
<path fill="#fcf4f4" d="M193.05 226.75h1.05v7.62h-1.05zM229.23 234.32h1.05v7.62h-1.05zM190.04 241.9h1.05v7.62h-1.05z" />
<path fill="#f2cacd" d="M196.07 226.75h1.05v7.62h-1.05z" />
<path fill="#fbeeef" d="M200.09 226.75h1.05v7.62h-1.05zM241.29 226.75h1.05v7.62h-1.05zM240.28 264.62h1.05v7.62h-1.05z" />
<path fill="#f5dadc" d="M201.09 226.75h1.05v7.62h-1.05z" />
<path fill="#f8e3e5" d="M202.1 226.75h1.05v7.62h-1.05zM230.23 249.47h1.05v7.62h-1.05z" />
<path fill="#f1c9cd" d="M204.11 226.75h1.05v7.62h-1.05zM216.16 257.05h1.05v7.62h-1.05zM239.28 264.62h1.05v7.62h-1.05z" />
<path fill="#f4d5d8" d="M205.11 226.75h1.05v7.62h-1.05zM206.12 234.32h1.05v7.62h-1.05zM218.17 234.32h1.05v7.62h-1.05z" />
<path fill="#f3d1d4" d="M206.12 226.75h1.05v7.62h-1.05z" />
<path fill="#f4d4d6" d="M207.12 226.75h1.05v7.62h-1.05z" />
<path fill="#f3d2d5" d="M214.15 226.75h1.05v7.62h-1.05zM216.16 241.9h1.05v7.62h-1.05z" />
<path fill="#f6dbdd" d="M218.17 226.75h1.05v7.62h-1.05zM224.2 226.75h1.05v7.62h-1.05z" />
<path fill="#edb6ba" d="M221.19 226.75h1.05v7.62h-1.05zM235.26 257.05h1.05v7.62h-1.05z" />
<path fill="#edb7bc" d="M226.21 226.75h1.05v7.62h-1.05z" />
<path fill="#e8a4aa" d="M227.22 226.75h1.05v7.62h-1.05zM215.16 257.05h1.05v7.62h-1.05zM220.18 264.62h1.05v7.62h-1.05z" />
<path fill="#e38e95" d="M231.24 226.75h1.05v7.62h-1.05zM235.26 226.75h1.05v7.62h-1.05zM219.18 234.32h1.05v7.62h-1.05zM224.2 257.05h1.05v7.62h-1.05zM197.07 264.62h1.05v7.62h-1.05z" />
<path fill="#ebafb4" d="M232.24 226.75h1.05v7.62h-1.05zM206.12 257.05h1.05v7.62h-1.05zM182 264.62h1.05v7.62h-1.05z" />
<path fill="#ebb1b6" d="M233.25 226.75h1.05v7.62h-1.05z" />
<path fill="#f1c9cc" d="M236.26 226.75h1.05v7.62h-1.05zM207.12 241.9h1.05v7.62h-1.05z" />
<path fill="#f0c5c8" d="M237.27 226.75h1.05v7.62h-1.05zM230.23 257.05h1.05v7.62h-1.05z" />
<path fill="#fcf6f7" d="M238.27 226.75h1.05v7.62h-1.05z" />
<path fill="#f3d1d3" d="M240.28 226.75h1.05v7.62h-1.05z" />
<path fill="#fcf5f5" d="M242.29 226.75h1.05v7.62h-1.05zM217.17 234.32h1.05v7.62h-1.05zM219.18 249.47h1.05v7.62h-1.05z" />
<path fill="#f9eaeb" d="M243.3 226.75h1.05v7.62h-1.05zM204.11 234.32h1.05v7.62h-1.05z" />
<path fill="#c20a19" d="M182 234.32h1.05v7.62h-1.05z" />
<path fill="#da6a74" d="M183 234.32h1.05v7.62h-1.05z" />
<path fill="#f1c6ca" d="M184.01 234.32h1.05v7.62h-1.05zM221.19 264.62h1.05v7.62h-1.05z" />
<path fill="#dc737c" d="M186.02 234.32h1.05v7.62h-1.05z" />
<path fill="#c41220" d="M187.02 234.32h1.05v7.62h-1.05z" />
<path fill="#f8e5e7" d="M190.04 234.32h1.05v7.62h-1.05zM213.15 234.32h1.05v7.62h-1.05z" />
<path fill="#f6dee0" d="M191.04 234.32h1.05v7.62h-1.05zM203.1 241.9h1.05v7.62h-1.05z" />
<path fill="#f5d8db" d="M193.05 234.32h1.05v7.62h-1.05z" />
<path fill="#f0c5c9" d="M198.08 234.32h1.05v7.62h-1.05zM200.09 241.9h1.05v7.62h-1.05zM222.19 264.62h1.05v7.62h-1.05z" />
<path fill="#f1c7ca" d="M200.09 234.32h1.05v7.62h-1.05zM216.16 234.32h1.05v7.62h-1.05zM194.06 257.05h1.05v7.62h-1.05z" />
<path fill="#f8e4e5" d="M201.09 234.32h1.05v7.62h-1.05zM218.17 257.05h1.05v7.62h-1.05z" />
<path fill="#f9e8e9" d="M208.13 234.32h1.05v7.62h-1.05zM242.29 234.32h1.05v7.62h-1.05zM218.17 249.47h1.05v7.62h-1.05z" />
<path fill="#f9e9eb" d="M212.15 234.32h1.05v7.62h-1.05zM225.21 241.9h1.05v7.62h-1.05zM225.21 249.47h1.05v7.62h-1.05zM237.27 264.62h1.05v7.62h-1.05z" />
<path fill="#faebed" d="M220.18 234.32h1.05v7.62h-1.05zM193.05 241.9h1.05v7.62h-1.05z" />
<path fill="#f5d9dc" d="M221.19 234.32h1.05v7.62h-1.05zM234.25 257.05h1.05v7.62h-1.05z" />
<path fill="#e9a9ae" d="M222.19 234.32h1.05v7.62h-1.05zM242.29 249.47h1.05v7.62h-1.05zM236.26 264.62h1.05v7.62h-1.05z" />
<path fill="#ecb6ba" d="M223.2 234.32h1.05v7.62h-1.05z" />
<path fill="#e69aa1" d="M224.2 234.32h1.05v7.62h-1.05z" />
<path fill="#dd7881" d="M226.21 234.32h1.05v7.62h-1.05zM190.04 264.62h1.05v7.62h-1.05z" />
<path fill="#eebec2" d="M227.22 234.32h1.05v7.62h-1.05z" />
<path fill="#d96871" d="M228.22 234.32h1.05v7.62h-1.05z" />
<path fill="#cf3e4b" d="M231.24 234.32h1.05v7.62h-1.05z" />
<path fill="#d75e68" d="M232.24 234.32h1.05v7.62h-1.05zM223.2 241.9h1.05v7.62h-1.05z" />
<path fill="#da6c75" d="M233.25 234.32h1.05v7.62h-1.05z" />
<path fill="#dc727b" d="M234.25 234.32h1.05v7.62h-1.05zM185.01 264.62h1.05v7.62h-1.05zM187.02 264.62h1.05v7.62h-1.05z" />
<path fill="#cd3642" d="M235.26 234.32h1.05v7.62h-1.05z" />
<path fill="#d75e69" d="M237.27 234.32h1.05v7.62h-1.05z" />
<path fill="#d5555f" d="M238.27 234.32h1.05v7.62h-1.05z" />
<path fill="#d24a55" d="M239.28 234.32h1.05v7.62h-1.05z" />
<path fill="#d8616b" d="M241.29 234.32h1.05v7.62h-1.05zM192.05 264.62h1.05v7.62h-1.05z" />
<path fill="#f4d3d5" d="M187.02 241.9h1.05v7.62h-1.05z" />
<path fill="#f1c8cb" d="M189.03 241.9h1.05v7.62h-1.05z" />
<path fill="#f7dfe1" d="M192.05 241.9h1.05v7.62h-1.05zM235.26 249.47h1.05v7.62h-1.05zM204.11 257.05h1.05v7.62h-1.05z" />
<path fill="#fcf4f5" d="M199.08 241.9h1.05v7.62h-1.05zM204.11 241.9h1.05v7.62h-1.05zM228.22 249.47h1.05v7.62h-1.05z" />
<path fill="#eebdc1" d="M206.12 241.9h1.05v7.62h-1.05z" />
<path fill="#f4d5d7" d="M212.15 241.9h1.05v7.62h-1.05zM217.17 257.05h1.05v7.62h-1.05z" />
<path fill="#d9656f" d="M215.16 241.9h1.05v7.62h-1.05z" />
<path fill="#d14652" d="M218.17 241.9h1.05v7.62h-1.05z" />
<path fill="#d65a64" d="M220.18 241.9h1.05v7.62h-1.05zM225.21 264.62h1.05v7.62h-1.05z" />
<path fill="#c82432" d="M221.19 241.9h1.05v7.62h-1.05z" />
<path fill="#f9e7e8" d="M222.19 241.9h1.05v7.62h-1.05z" />
<path fill="#da6d76" d="M228.22 241.9h1.05v7.62h-1.05zM214.15 264.62h1.05v7.62h-1.05z" />
<path fill="#d34d58" d="M229.23 241.9h1.05v7.62h-1.05z" />
<path fill="#ca2a37" d="M230.23 241.9h1.05v7.62h-1.05z" />
<path fill="#d55862" d="M231.24 241.9h1.05v7.62h-1.05z" />
<path fill="#f1c6c9" d="M232.24 241.9h1.05v7.62h-1.05z" />
<path fill="#dd7880" d="M233.25 241.9h1.05v7.62h-1.05z" />
<path fill="#f0c4c8" d="M236.26 241.9h1.05v7.62h-1.05z" />
<path fill="#faebec" d="M239.28 241.9h1.05v7.62h-1.05zM212.15 249.47h1.05v7.62h-1.05zM222.19 249.47h1.05v7.62h-1.05z" />
<path fill="#faeeef" d="M208.13 249.47h1.05v7.62h-1.05zM210.14 249.47h1.05v7.62h-1.05zM231.24 264.62h1.05v7.62h-1.05z" />
<path fill="#f8e5e6" d="M220.18 249.47h1.05v7.62h-1.05z" />
<path fill="#f8e3e4" d="M227.22 249.47h1.05v7.62h-1.05zM209.13 257.05h1.05v7.62h-1.05zM240.28 257.05h1.05v7.62h-1.05z" />
<path fill="#e7a0a6" d="M239.28 249.47h1.05v7.62h-1.05zM199.08 264.62h1.05v7.62h-1.05z" />
<path fill="#df8188" d="M241.29 249.47h1.05v7.62h-1.05z" />
<path fill="#e0858d" d="M243.3 249.47h1.05v7.62h-1.05z" />
<path fill="#edb9bd" d="M186.02 257.05h1.05v7.62h-1.05zM229.23 264.62h1.05v7.62h-1.05z" />
<path fill="#e69ca2" d="M191.04 257.05h1.05v7.62h-1.05z" />
<path fill="#f2cccf" d="M193.05 257.05h1.05v7.62h-1.05z" />
<path fill="#f1cacd" d="M200.09 257.05h1.05v7.62h-1.05z" />
<path fill="#e18990" d="M201.09 257.05h1.05v7.62h-1.05z" />
<path fill="#e4949b" d="M205.11 257.05h1.05v7.62h-1.05zM241.29 257.05h1.05v7.62h-1.05zM242.29 264.62h1.05v7.62h-1.05z" />
<path fill="#e38d94" d="M214.15 257.05h1.05v7.62h-1.05z" />
<path fill="#f6dcde" d="M220.18 257.05h1.05v7.62h-1.05zM231.24 257.05h1.05v7.62h-1.05z" />
<path fill="#e0858c" d="M223.2 257.05h1.05v7.62h-1.05z" />
<path fill="#e4959c" d="M225.21 257.05h1.05v7.62h-1.05z" />
<path fill="#e49298" d="M227.22 257.05h1.05v7.62h-1.05z" />
<path fill="#e39198" d="M236.26 257.05h1.05v7.62h-1.05z" />
<path fill="#efbec2" d="M243.3 257.05h1.05v7.62h-1.05z" />
<path fill="#d4545e" d="M186.02 264.62h1.05v7.62h-1.05z" />
<path fill="#d4535e" d="M196.07 264.62h1.05v7.62h-1.05z" />
<path fill="#da6972" d="M198.08 264.62h1.05v7.62h-1.05zM230.23 264.62h1.05v7.62h-1.05z" />
<path fill="#d14854" d="M202.1 264.62h1.05v7.62h-1.05z" />
<path fill="#dd777f" d="M203.1 264.62h1.05v7.62h-1.05z" />
<path fill="#e8a5aa" d="M205.11 264.62h1.05v7.62h-1.05z" />
<path fill="#f1c7cb" d="M206.12 264.62h1.05v7.62h-1.05z" />
<path fill="#e28c93" d="M207.12 264.62h1.05v7.62h-1.05zM223.2 264.62h1.05v7.62h-1.05z" />
<path fill="#d75d67" d="M208.13 264.62h1.05v7.62h-1.05z" />
<path fill="#d4515b" d="M210.14 264.62h1.05v7.62h-1.05z" />
<path fill="#d0444f" d="M213.15 264.62h1.05v7.62h-1.05z" />
<path fill="#e0848c" d="M218.17 264.62h1.05v7.62h-1.05z" />
<path fill="#e9a8ae" d="M219.18 264.62h1.05v7.62h-1.05z" />
<path fill="#e28a91" d="M224.2 264.62h1.05v7.62h-1.05z" />
<path fill="#d96771" d="M226.21 264.62h1.05v7.62h-1.05z" />
<path fill="#ecb2b7" d="M228.22 264.62h1.05v7.62h-1.05z" />
<path fill="#f4d6d9" d="M232.24 264.62h1.05v7.62h-1.05z" />
<path fill="#d55661" d="M233.25 264.62h1.05v7.62h-1.05z" />
<path fill="#efc2c5" d="M238.27 264.62h1.05v7.62h-1.05z" />
<rect x="182" y="211.6" width="62.3" height="60.6" fill="none" stroke="#999" stroke-width="0.5"/>
<line x1="182" y1="211.9" x2="244.3" y2="211.9" stroke="#666" stroke-width="0.8"/>
<text x="179" y="241.2" font-size="10" text-anchor="middle" fill="#222" stroke="#222" transform="rotate(-90 179 241.2)">8 CAPs</text>
<text x="212.5" y="283.1" font-size="10" text-anchor="middle" fill="#222" stroke="#222" >Y voxels</text>
<path d="M248.3 238.3L256.7 246.5M256.7 238.3L248.3 246.5" stroke="#a3500f" stroke-width="1.3" fill="none"/>
<rect x="262.8" y="211.6" width="70.7" height="60.6" fill="#fff" />
<path fill="#c8c8c8" d="M262.8 217.39h14.14v1.1h-14.14zM262.8 263.59h14.14v2.35h-14.14zM276.94 228.82h14.14v1.1h-14.14zM276.94 262.8h14.14v1.57h-14.14zM305.22 217.39h14.14v0.47h-14.14zM305.22 267.5h14.14v1.57h-14.14zM319.36 214.26h14.14v1.57h-14.14z" />
<path fill="#b9b9b9" d="M262.8 218.49h14.14v2.04h-14.14zM262.8 235.4h14.14v2.35h-14.14zM262.8 259.67h14.14v2.35h-14.14zM276.94 257.32h14.14v3.13h-14.14zM276.94 269.07h14.14v2.35h-14.14zM291.08 217.39h14.14v3.13h-14.14zM305.22 258.89h14.14v1.57h-14.14zM319.36 217.39h14.14v1.57h-14.14zM319.36 226.01h14.14v1.57h-14.14z" />
<path fill="#969696" d="M262.8 221.31h14.14v1.57h-14.14zM262.8 226.79h14.14v1.57h-14.14zM291.08 215.04h14.14v2.35h-14.14z" />
<path fill="#5a5a5a" d="M262.8 224.44h14.14v0.94h-14.14zM276.94 254.19h14.14v1.25h-14.14zM276.94 265.15h14.14v1.88h-14.14z" />
<path fill="#8c8c8c" d="M262.8 225.38h14.14v0.94h-14.14zM262.8 240.88h14.14v1.57h-14.14zM276.94 267.03h14.14v1.25h-14.14z" />
<path fill="#bebebe" d="M262.8 229.14h14.14v1.57h-14.14zM305.22 236.97h14.14v0.63h-14.14zM305.22 245.58h14.14v0.78h-14.14zM305.22 248.71h14.14v0.78h-14.14zM305.22 262.8h14.14v1.57h-14.14zM319.36 229.14h14.14v1.57h-14.14zM319.36 233.84h14.14v0.78h-14.14zM319.36 261.24h14.14v1.57h-14.14z" />
<path fill="#aaaaaa" d="M262.8 233.05h14.14v2.35h-14.14zM262.8 257.32h14.14v2.35h-14.14zM276.94 232.27h14.14v1.57h-14.14zM276.94 244.01h14.14v2.35h-14.14zM305.22 233.05h14.14v0.78h-14.14zM305.22 254.19h14.14v3.13h-14.14zM319.36 227.57h14.14v1.57h-14.14z" />
<path fill="#a0a0a0" d="M262.8 237.75h14.14v2.35h-14.14zM276.94 227.57h14.14v1.25h-14.14zM319.36 258.89h14.14v2.35h-14.14zM305.22 212.64h14.14v0.8h-14.14z" />
<path fill="#787878" d="M262.8 242.45h14.14v1.57h-14.14zM319.36 244.8h14.14v1.57h-14.14zM319.36 222.52h14.14v0.8h-14.14z" />
<path fill="#afafaf" d="M262.8 246.36h14.14v7.83h-14.14zM276.94 236.97h14.14v2.35h-14.14zM276.94 248.71h14.14v1.57h-14.14zM319.36 249.49h14.14v3.13h-14.14zM305.22 222.02h14.14v0.8h-14.14zM319.36 219.61h14.14v0.8h-14.14z" />
<path fill="#b4b4b4" d="M262.8 265.94h14.14v2.35h-14.14zM305.22 215.04h14.14v0.94h-14.14zM305.22 223.66h14.14v0.78h-14.14zM319.36 240.1h14.14v0.78h-14.14zM319.36 265.15h14.14v2.35h-14.14z" />
<path fill="#828282" d="M262.8 269.07h14.14v1.1h-14.14z" />
<path fill="#6e6e6e" d="M262.8 270.16h14.14v2.04h-14.14z" />
<path fill="#d7d7d7" d="M276.94 214.26h14.14v1.57h-14.14zM276.94 222.09h14.14v1.57h-14.14z" />
<path fill="#e1e1e1" d="M276.94 217.39h14.14v3.13h-14.14zM305.22 230.7h14.14v3.13h-14.14z" />
<path fill="#505050" d="M276.94 241.67h14.14v0.78h-14.14z" />
<path fill="#464646" d="M291.08 211.6h14.14v1.88h-14.14zM319.36 246.36h14.14v1.57h-14.14z" />
<path fill="#646464" d="M291.08 213.48h14.14v1.57h-14.14zM305.22 240.88h14.14v1.1h-14.14zM262.8 265.7h14.14v0.8h-14.14z" />
<path fill="#a5a5a5" d="M319.36 221.31h14.14v1.57h-14.14zM319.36 254.19h14.14v3.13h-14.14z" />
<path fill="#9c9c9c" d="M262.8 250.88h14.14v0.8h-14.14z" />
<path fill="#aeaeae" d="M262.8 260.07h14.14v0.8h-14.14zM276.94 228.58h14.14v0.8h-14.14zM305.22 265.12h14.14v0.8h-14.14z" />
<path fill="#adadad" d="M262.8 257.12h14.14v0.8h-14.14zM319.36 235.79h14.14v0.8h-14.14z" />
<path fill="#838383" d="M262.8 219.21h14.14v0.8h-14.14z" />
<path fill="#949494" d="M262.8 267.97h14.14v0.8h-14.14z" />
<path fill="#707070" d="M262.8 242.67h14.14v0.8h-14.14z" />
<path fill="#8d8d8d" d="M262.8 246.66h14.14v0.8h-14.14z" />
<path fill="#6d6d6d" d="M262.8 218.36h14.14v0.8h-14.14zM262.8 228.83h14.14v0.8h-14.14z" />
<path fill="#acacac" d="M262.8 232.56h14.14v0.8h-14.14zM319.36 250.23h14.14v0.8h-14.14z" />
<path fill="#686868" d="M262.8 258.49h14.14v0.8h-14.14zM276.94 236.92h14.14v0.8h-14.14z" />
<path fill="#666666" d="M262.8 260.17h14.14v0.8h-14.14z" />
<path fill="#656565" d="M262.8 250.59h14.14v0.8h-14.14z" />
<path fill="#a8a8a8" d="M262.8 217.75h14.14v0.8h-14.14zM262.8 270.05h14.14v0.8h-14.14z" />
<path fill="#b0b0b0" d="M276.94 233.09h14.14v0.8h-14.14zM276.94 254.49h14.14v0.8h-14.14z" />
<path fill="#979797" d="M276.94 246.42h14.14v0.8h-14.14zM276.94 217.84h14.14v0.8h-14.14z" />
<path fill="#747474" d="M276.94 265.32h14.14v0.8h-14.14z" />
<path fill="#5f5f5f" d="M276.94 225.43h14.14v0.8h-14.14zM305.22 252.17h14.14v0.8h-14.14z" />
<path fill="#909090" d="M276.94 233.73h14.14v0.8h-14.14z" />
<path fill="#757575" d="M276.94 235.68h14.14v0.8h-14.14z" />
<path fill="#858585" d="M276.94 261.31h14.14v0.8h-14.14zM276.94 234.5h14.14v0.8h-14.14z" />
<path fill="#5c5c5c" d="M305.22 267.74h14.14v0.8h-14.14z" />
<path fill="#a6a6a6" d="M305.22 254.77h14.14v0.8h-14.14z" />
<path fill="#8e8e8e" d="M305.22 232.68h14.14v0.8h-14.14z" />
<path fill="#5e5e5e" d="M305.22 212.12h14.14v0.8h-14.14zM319.36 226.27h14.14v0.8h-14.14z" />
<path fill="#9e9e9e" d="M305.22 222.91h14.14v0.8h-14.14z" />
<path fill="#797979" d="M319.36 236.03h14.14v0.8h-14.14z" />
<path fill="#9f9f9f" d="M319.36 245.64h14.14v0.8h-14.14z" />
<path fill="#9d9d9d" d="M319.36 223.42h14.14v0.8h-14.14z" />
<path fill="#a7a7a7" d="M319.36 260.17h14.14v0.8h-14.14z" />
<path fill="#767676" d="M319.36 246.73h14.14v0.8h-14.14z" />
<path fill="#696969" d="M319.36 234.55h14.14v0.8h-14.14z" />
<path fill="#676767" d="M319.36 221.83h14.14v0.8h-14.14z" />
<path fill="#b3b3b3" d="M319.36 254.41h14.14v0.8h-14.14z" />
<path fill="#8a8a8a" d="M319.36 270.28h14.14v0.8h-14.14z" />
<rect x="262.8" y="211.6" width="70.7" height="60.6" fill="none" stroke="#aaa" stroke-width="0.5"/>
<text x="299.6" y="283.1" font-size="10" text-anchor="middle" fill="#222" stroke="#222" >5 networks</text>
<text x="344.2" y="241" font-size="10" text-anchor="middle" fill="#222" stroke="#222" transform="rotate(-90 344.2 241)">Y voxels</text>
<rect x="346.2" y="240.1" width="10.7" height="1.7" fill="#a3500f" />
<rect x="346.2" y="243.5" width="10.7" height="1.7" fill="#a3500f" />
<path fill="#000090" d="M361.3 210.5h18.33v7.92h-18.33zM397.86 210.5h18.33v7.92h-18.33zM416.14 210.5h18.33v7.92h-18.33zM416.14 234.12h18.33v7.92h-18.33zM361.3 265.62h18.33v7.92h-18.33zM379.58 265.62h18.33v7.92h-18.33zM397.86 265.62h18.33v7.92h-18.33zM416.14 265.62h18.33v7.92h-18.33z" />
<path fill="#10c0ff" d="M379.58 210.5h18.33v7.92h-18.33z" />
<path fill="#b00000" d="M434.42 210.5h18.33v7.92h-18.33z" />
<path fill="#10a0ff" d="M361.3 218.38h18.33v7.92h-18.33zM416.14 242h18.33v7.92h-18.33z" />
<path fill="#10c8ff" d="M379.58 218.38h18.33v7.92h-18.33z" />
<path fill="#60f0a0" d="M397.86 218.38h18.33v7.92h-18.33z" />
<path fill="#0000a0" d="M416.14 218.38h18.33v7.92h-18.33zM434.42 242h18.33v7.92h-18.33zM434.42 257.75h18.33v7.92h-18.33z" />
<path fill="#0010d0" d="M434.42 218.38h18.33v7.92h-18.33z" />
<path fill="#0060ff" d="M361.3 226.25h18.33v7.92h-18.33zM434.42 226.25h18.33v7.92h-18.33z" />
<path fill="#0a9cff" d="M379.58 226.25h18.33v7.92h-18.33z" />
<path fill="#0000c8" d="M397.86 226.25h18.33v7.92h-18.33z" />
<path fill="#0000e0" d="M416.14 226.25h18.33v7.92h-18.33z" />
<path fill="#0000a8" d="M361.3 234.12h18.33v7.92h-18.33z" />
<path fill="#ff1010" d="M379.58 234.12h18.33v7.92h-18.33z" />
<path fill="#80f080" d="M397.86 234.12h18.33v7.92h-18.33z" />
<path fill="#20f0d0" d="M434.42 234.12h18.33v7.92h-18.33z" />
<path fill="#ff5a00" d="M361.3 242h18.33v7.92h-18.33z" />
<path fill="#10d8ff" d="M379.58 242h18.33v7.92h-18.33zM379.58 249.88h18.33v7.92h-18.33z" />
<path fill="#700000" d="M397.86 242h18.33v7.92h-18.33z" />
<path fill="#90f070" d="M361.3 249.88h18.33v7.92h-18.33z" />
<path fill="#ffd800" d="M397.86 249.88h18.33v7.92h-18.33z" />
<path fill="#ff1000" d="M416.14 249.88h18.33v7.92h-18.33z" />
<path fill="#0050ff" d="M434.42 249.88h18.33v7.92h-18.33z" />
<path fill="#ff6000" d="M361.3 257.75h18.33v7.92h-18.33z" />
<path fill="#0000b0" d="M379.58 257.75h18.33v7.92h-18.33z" />
<path fill="#0030f0" d="M397.86 257.75h18.33v7.92h-18.33z" />
<path fill="#20f0e0" d="M416.14 257.75h18.33v7.92h-18.33z" />
<path fill="#70f0a0" d="M434.42 265.62h18.33v7.92h-18.33z" />
<circle cx="443.56" cy="214.44" r="2.35" fill="none" stroke="#fff" stroke-width="1.2"/>
<circle cx="407" cy="222.31" r="2.35" fill="none" stroke="#fff" stroke-width="1.2"/>
<circle cx="388.72" cy="230.19" r="2.35" fill="none" stroke="#fff" stroke-width="1.2"/>
<circle cx="388.72" cy="238.06" r="2.35" fill="none" stroke="#fff" stroke-width="1.2"/>
<circle cx="407" cy="245.94" r="2.35" fill="none" stroke="#fff" stroke-width="1.2"/>
<circle cx="425.28" cy="253.81" r="2.35" fill="none" stroke="#fff" stroke-width="1.2"/>
<circle cx="370.44" cy="261.69" r="2.35" fill="none" stroke="#fff" stroke-width="1.2"/>
<circle cx="443.56" cy="269.56" r="2.35" fill="none" stroke="#fff" stroke-width="1.2"/>
<rect x="361.3" y="210.5" width="91.4" height="63" fill="none" stroke="#555" stroke-width="0.5"/>
<text x="370.2" y="283.7" font-size="10" text-anchor="middle" fill="#222" stroke="#222" >D</text>
<text x="388.55" y="283.7" font-size="10" text-anchor="middle" fill="#222" stroke="#222" >A</text>
<text x="406.9" y="283.7" font-size="10" text-anchor="middle" fill="#222" stroke="#222" >F</text>
<text x="425.25" y="283.7" font-size="10" text-anchor="middle" fill="#222" stroke="#222" >L</text>
<text x="443.6" y="283.7" font-size="10" text-anchor="middle" fill="#222" stroke="#222" >P</text>
<text x="464.5" y="241" font-size="10" text-anchor="middle" fill="#222" stroke="#222" transform="rotate(-90 464.5 241)">8 CAPs</text>
<rect x="24" y="305.6" width="56" height="44.2" fill="#002060" />
<text x="52" y="325" font-size="11.6" fill="#fff" text-anchor="middle">Z<tspan font-size="6.9" dy="1.5">low</tspan><tspan dy="-1.5">:</tspan></text>
<text x="52" y="338" font-size="11" text-anchor="middle" fill="#fff" >Label (-)</text>
<text x="118.4" y="315.8" font-size="10" font-weight="bold" text-anchor="middle" fill="#111" stroke="#111" >ROI-to-Voxel</text>
<text x="118.4" y="327" font-size="10" font-weight="bold" text-anchor="middle" fill="#111" stroke="#111" >transformation</text>
<line x1="80" y1="331.1" x2="160" y2="331.1" stroke="#002060" stroke-width="1.2"/>
<polygon points="168,330.9 156,326.6 156,335.2" fill="#002060"/>
<rect x="182" y="297.3" width="62.3" height="60.2" fill="#fff" />
<path fill="#b9bed2" d="M182 297.3h1.05v7.58h-1.05zM227.22 327.4h1.05v7.58h-1.05z" />
<path fill="#f1f2f6" d="M183 297.3h1.05v7.58h-1.05zM200.09 297.3h1.05v7.58h-1.05zM218.17 334.93h1.05v7.58h-1.05zM231.24 342.45h1.05v7.58h-1.05zM190.04 349.98h1.05v7.58h-1.05zM198.08 349.98h1.05v7.58h-1.05zM216.16 349.98h1.05v7.58h-1.05z" />
<path fill="#e4e6ee" d="M184.01 297.3h1.05v7.58h-1.05zM230.23 297.3h1.05v7.58h-1.05zM186.02 342.45h1.05v7.58h-1.05z" />
<path fill="#cccfde" d="M185.01 297.3h1.05v7.58h-1.05zM193.05 304.82h1.05v7.58h-1.05zM200.09 342.45h1.05v7.58h-1.05z" />
<path fill="#a5abc4" d="M186.02 297.3h1.05v7.58h-1.05zM217.17 319.88h1.05v7.58h-1.05zM239.28 342.45h1.05v7.58h-1.05z" />
<path fill="#b1b7cc" d="M187.02 297.3h1.05v7.58h-1.05z" />
<path fill="#d8dae5" d="M188.03 297.3h1.05v7.58h-1.05zM185.01 349.98h1.05v7.58h-1.05zM213.15 349.98h1.05v7.58h-1.05z" />
<path fill="#d6d9e4" d="M189.03 297.3h1.05v7.58h-1.05zM217.17 297.3h1.05v7.58h-1.05zM187.02 334.93h1.05v7.58h-1.05z" />
<path fill="#e0e2eb" d="M190.04 297.3h1.05v7.58h-1.05zM194.06 297.3h1.05v7.58h-1.05zM226.21 312.35h1.05v7.58h-1.05zM188.03 334.93h1.05v7.58h-1.05zM210.14 342.45h1.05v7.58h-1.05zM182 349.98h1.05v7.58h-1.05z" />
<path fill="#dee1ea" d="M191.04 297.3h1.05v7.58h-1.05z" />
<path fill="#c6cada" d="M192.05 297.3h1.05v7.58h-1.05zM201.09 312.35h1.05v7.58h-1.05zM202.1 349.98h1.05v7.58h-1.05z" />
<path fill="#eff0f4" d="M193.05 297.3h1.05v7.58h-1.05zM226.21 334.93h1.05v7.58h-1.05z" />
<path fill="#f4f4f7" d="M195.06 297.3h1.05v7.58h-1.05zM241.29 342.45h1.05v7.58h-1.05z" />
<path fill="#8991b3" d="M196.07 297.3h1.05v7.58h-1.05z" />
<path fill="#dbdde7" d="M197.07 297.3h1.05v7.58h-1.05zM209.13 297.3h1.05v7.58h-1.05z" />
<path fill="#d9dbe6" d="M198.08 297.3h1.05v7.58h-1.05zM224.2 319.88h1.05v7.58h-1.05zM204.11 334.93h1.05v7.58h-1.05z" />
<path fill="#f2f3f6" d="M199.08 297.3h1.05v7.58h-1.05zM231.24 304.82h1.05v7.58h-1.05zM214.15 319.88h1.05v7.58h-1.05z" />
<path fill="#d5d8e4" d="M201.09 297.3h1.05v7.58h-1.05z" />
<path fill="#c0c4d6" d="M202.1 297.3h1.05v7.58h-1.05zM235.26 327.4h1.05v7.58h-1.05zM189.03 342.45h1.05v7.58h-1.05zM189.03 349.98h1.05v7.58h-1.05z" />
<path fill="#aeb3ca" d="M203.1 297.3h1.05v7.58h-1.05z" />
<path fill="#f5f6f9" d="M204.11 297.3h1.05v7.58h-1.05zM186.02 349.98h1.05v7.58h-1.05z" />
<path fill="#a2a8c2" d="M205.11 297.3h1.05v7.58h-1.05z" />
<path fill="#8a92b3" d="M206.12 297.3h1.05v7.58h-1.05z" />
<path fill="#c4c8d9" d="M207.12 297.3h1.05v7.58h-1.05zM224.2 312.35h1.05v7.58h-1.05zM237.27 319.88h1.05v7.58h-1.05z" />
<path fill="#a5abc5" d="M208.13 297.3h1.05v7.58h-1.05zM217.17 334.93h1.05v7.58h-1.05z" />
<path fill="#c4c7d8" d="M210.14 297.3h1.05v7.58h-1.05z" />
<path fill="#9aa1bd" d="M211.14 297.3h1.05v7.58h-1.05z" />
<path fill="#e3e5ed" d="M212.15 297.3h1.05v7.58h-1.05zM218.17 297.3h1.05v7.58h-1.05zM188.03 327.4h1.05v7.58h-1.05zM191.04 342.45h1.05v7.58h-1.05zM208.13 342.45h1.05v7.58h-1.05z" />
<path fill="#bdc2d4" d="M213.15 297.3h1.05v7.58h-1.05zM197.07 342.45h1.05v7.58h-1.05zM235.26 342.45h1.05v7.58h-1.05zM192.05 349.98h1.05v7.58h-1.05z" />
<path fill="#d1d4e1" d="M214.15 297.3h1.05v7.58h-1.05zM216.16 312.35h1.05v7.58h-1.05zM242.29 319.88h1.05v7.58h-1.05zM193.05 334.93h1.05v7.58h-1.05zM201.09 334.93h1.05v7.58h-1.05zM202.1 334.93h1.05v7.58h-1.05zM214.15 334.93h1.05v7.58h-1.05z" />
<path fill="#c2c6d7" d="M215.16 297.3h1.05v7.58h-1.05zM236.26 297.3h1.05v7.58h-1.05zM226.21 319.88h1.05v7.58h-1.05zM228.22 319.88h1.05v7.58h-1.05zM190.04 342.45h1.05v7.58h-1.05zM227.22 342.45h1.05v7.58h-1.05z" />
<path fill="#dcdfe8" d="M216.16 297.3h1.05v7.58h-1.05zM212.15 312.35h1.05v7.58h-1.05z" />
<path fill="#c7cbdb" d="M219.18 297.3h1.05v7.58h-1.05zM225.21 297.3h1.05v7.58h-1.05zM209.13 304.82h1.05v7.58h-1.05zM189.03 334.93h1.05v7.58h-1.05zM228.22 349.98h1.05v7.58h-1.05zM234.25 349.98h1.05v7.58h-1.05z" />
<path fill="#e2e4ec" d="M220.18 297.3h1.05v7.58h-1.05zM207.12 342.45h1.05v7.58h-1.05z" />
<path fill="#d4d7e3" d="M221.19 297.3h1.05v7.58h-1.05zM211.14 342.45h1.05v7.58h-1.05zM217.17 342.45h1.05v7.58h-1.05z" />
<path fill="#bdc1d4" d="M222.19 297.3h1.05v7.58h-1.05zM223.2 297.3h1.05v7.58h-1.05z" />
<path fill="#d8dbe6" d="M224.2 297.3h1.05v7.58h-1.05zM232.24 342.45h1.05v7.58h-1.05zM236.26 342.45h1.05v7.58h-1.05z" />
<path fill="#a7acc5" d="M226.21 297.3h1.05v7.58h-1.05z" />
<path fill="#e7e8ef" d="M227.22 297.3h1.05v7.58h-1.05z" />
<path fill="#a6acc5" d="M228.22 297.3h1.05v7.58h-1.05zM216.16 304.82h1.05v7.58h-1.05zM194.06 312.35h1.05v7.58h-1.05z" />
<path fill="#959cba" d="M231.24 297.3h1.05v7.58h-1.05zM232.24 312.35h1.05v7.58h-1.05zM192.05 319.88h1.05v7.58h-1.05zM220.18 349.98h1.05v7.58h-1.05z" />
<path fill="#f5f5f8" d="M232.24 297.3h1.05v7.58h-1.05zM186.02 319.88h1.05v7.58h-1.05zM236.26 319.88h1.05v7.58h-1.05zM233.25 334.93h1.05v7.58h-1.05z" />
<path fill="#cdd1df" d="M233.25 297.3h1.05v7.58h-1.05zM235.26 312.35h1.05v7.58h-1.05zM234.25 334.93h1.05v7.58h-1.05z" />
<path fill="#a4aac4" d="M234.25 297.3h1.05v7.58h-1.05zM220.18 304.82h1.05v7.58h-1.05zM199.08 327.4h1.05v7.58h-1.05zM195.06 334.93h1.05v7.58h-1.05zM240.28 342.45h1.05v7.58h-1.05zM218.17 349.98h1.05v7.58h-1.05z" />
<path fill="#d6d8e4" d="M235.26 297.3h1.05v7.58h-1.05z" />
<path fill="#d3d6e3" d="M237.27 297.3h1.05v7.58h-1.05z" />
<path fill="#f0f1f5" d="M238.27 297.3h1.05v7.58h-1.05zM208.13 312.35h1.05v7.58h-1.05zM206.12 319.88h1.05v7.58h-1.05zM198.08 334.93h1.05v7.58h-1.05z" />
<path fill="#d2d5e1" d="M239.28 297.3h1.05v7.58h-1.05z" />
<path fill="#d3d6e2" d="M240.28 297.3h1.05v7.58h-1.05zM243.3 297.3h1.05v7.58h-1.05zM243.3 319.88h1.05v7.58h-1.05zM185.01 342.45h1.05v7.58h-1.05z" />
<path fill="#c1c5d6" d="M241.29 297.3h1.05v7.58h-1.05z" />
<path fill="#b2b7cd" d="M242.29 297.3h1.05v7.58h-1.05zM218.17 304.82h1.05v7.58h-1.05zM219.18 312.35h1.05v7.58h-1.05zM216.16 319.88h1.05v7.58h-1.05zM211.14 327.4h1.05v7.58h-1.05zM242.29 342.45h1.05v7.58h-1.05z" />
<path fill="#5b6695" d="M182 304.82h1.05v7.58h-1.05z" />
<path fill="#babed2" d="M183 304.82h1.05v7.58h-1.05zM217.17 312.35h1.05v7.58h-1.05z" />
<path fill="#8890b2" d="M184.01 304.82h1.05v7.58h-1.05zM209.13 327.4h1.05v7.58h-1.05zM184.01 334.93h1.05v7.58h-1.05z" />
<path fill="#858db0" d="M185.01 304.82h1.05v7.58h-1.05zM228.22 312.35h1.05v7.58h-1.05z" />
<path fill="#6f79a1" d="M186.02 304.82h1.05v7.58h-1.05z" />
<path fill="#303e79" d="M187.02 304.82h1.05v7.58h-1.05z" />
<path fill="#4b578a" d="M188.03 304.82h1.05v7.58h-1.05z" />
<path fill="#69739d" d="M189.03 304.82h1.05v7.58h-1.05z" />
<path fill="#455286" d="M190.04 304.82h1.05v7.58h-1.05z" />
<path fill="#9299b8" d="M191.04 304.82h1.05v7.58h-1.05zM240.28 312.35h1.05v7.58h-1.05zM216.16 334.93h1.05v7.58h-1.05zM230.23 342.45h1.05v7.58h-1.05z" />
<path fill="#4d598c" d="M192.05 304.82h1.05v7.58h-1.05z" />
<path fill="#2f3d78" d="M194.06 304.82h1.05v7.58h-1.05zM195.06 304.82h1.05v7.58h-1.05z" />
<path fill="#6f79a2" d="M196.07 304.82h1.05v7.58h-1.05z" />
<path fill="#edeef3" d="M197.07 304.82h1.05v7.58h-1.05zM239.28 312.35h1.05v7.58h-1.05zM212.15 319.88h1.05v7.58h-1.05zM217.17 349.98h1.05v7.58h-1.05z" />
<path fill="#8f96b6" d="M198.08 304.82h1.05v7.58h-1.05z" />
<path fill="#263572" d="M199.08 304.82h1.05v7.58h-1.05z" />
<path fill="#6c76a0" d="M200.09 304.82h1.05v7.58h-1.05z" />
<path fill="#b7bcd0" d="M201.09 304.82h1.05v7.58h-1.05zM209.13 342.45h1.05v7.58h-1.05z" />
<path fill="#4f5b8d" d="M202.1 304.82h1.05v7.58h-1.05z" />
<path fill="#a1a7c2" d="M203.1 304.82h1.05v7.58h-1.05zM241.29 304.82h1.05v7.58h-1.05zM208.13 349.98h1.05v7.58h-1.05z" />
<path fill="#939ab8" d="M204.11 304.82h1.05v7.58h-1.05z" />
<path fill="#f3f4f7" d="M205.11 304.82h1.05v7.58h-1.05zM191.04 312.35h1.05v7.58h-1.05zM224.2 327.4h1.05v7.58h-1.05zM195.06 342.45h1.05v7.58h-1.05zM184.01 349.98h1.05v7.58h-1.05z" />
<path fill="#949bb9" d="M206.12 304.82h1.05v7.58h-1.05z" />
<path fill="#424e84" d="M207.12 304.82h1.05v7.58h-1.05z" />
<path fill="#21306f" d="M208.13 304.82h1.05v7.58h-1.05z" />
<path fill="#ebecf2" d="M210.14 304.82h1.05v7.58h-1.05zM203.1 327.4h1.05v7.58h-1.05zM240.28 327.4h1.05v7.58h-1.05zM239.28 334.93h1.05v7.58h-1.05z" />
<path fill="#515c8e" d="M211.14 304.82h1.05v7.58h-1.05z" />
<path fill="#a0a6c1" d="M212.15 304.82h1.05v7.58h-1.05zM204.11 312.35h1.05v7.58h-1.05zM243.3 342.45h1.05v7.58h-1.05zM203.1 349.98h1.05v7.58h-1.05z" />
<path fill="#dddfe9" d="M213.15 304.82h1.05v7.58h-1.05z" />
<path fill="#8b92b3" d="M214.15 304.82h1.05v7.58h-1.05z" />
<path fill="#a9aec7" d="M215.16 304.82h1.05v7.58h-1.05zM194.06 319.88h1.05v7.58h-1.05zM210.14 334.93h1.05v7.58h-1.05z" />
<path fill="#747da5" d="M217.17 304.82h1.05v7.58h-1.05zM230.23 349.98h1.05v7.58h-1.05z" />
<path fill="#646e9a" d="M219.18 304.82h1.05v7.58h-1.05z" />
<path fill="#3b4880" d="M221.19 304.82h1.05v7.58h-1.05z" />
<path fill="#a9afc7" d="M222.19 304.82h1.05v7.58h-1.05zM221.19 312.35h1.05v7.58h-1.05zM238.27 349.98h1.05v7.58h-1.05z" />
<path fill="#4f5a8c" d="M223.2 304.82h1.05v7.58h-1.05zM243.3 312.35h1.05v7.58h-1.05z" />
<path fill="#5f6a97" d="M224.2 304.82h1.05v7.58h-1.05z" />
<path fill="#2e3c78" d="M225.21 304.82h1.05v7.58h-1.05z" />
<path fill="#616b98" d="M226.21 304.82h1.05v7.58h-1.05zM223.2 342.45h1.05v7.58h-1.05z" />
<path fill="#5a6594" d="M227.22 304.82h1.05v7.58h-1.05z" />
<path fill="#8189ad" d="M228.22 304.82h1.05v7.58h-1.05z" />
<path fill="#f1f1f5" d="M229.23 304.82h1.05v7.58h-1.05zM191.04 334.93h1.05v7.58h-1.05z" />
<path fill="#afb5cb" d="M230.23 304.82h1.05v7.58h-1.05z" />
<path fill="#566191" d="M232.24 304.82h1.05v7.58h-1.05z" />
<path fill="#435085" d="M233.25 304.82h1.05v7.58h-1.05z" />
<path fill="#99a0bd" d="M234.25 304.82h1.05v7.58h-1.05zM205.11 327.4h1.05v7.58h-1.05zM214.15 327.4h1.05v7.58h-1.05z" />
<path fill="#4d588b" d="M235.26 304.82h1.05v7.58h-1.05z" />
<path fill="#c3c7d8" d="M236.26 304.82h1.05v7.58h-1.05zM206.12 312.35h1.05v7.58h-1.05zM223.2 319.88h1.05v7.58h-1.05zM230.23 327.4h1.05v7.58h-1.05zM207.12 334.93h1.05v7.58h-1.05zM206.12 349.98h1.05v7.58h-1.05z" />
<path fill="#586393" d="M237.27 304.82h1.05v7.58h-1.05z" />
<path fill="#626d99" d="M238.27 304.82h1.05v7.58h-1.05z" />
<path fill="#7c85aa" d="M239.28 304.82h1.05v7.58h-1.05zM218.17 327.4h1.05v7.58h-1.05z" />
<path fill="#9ca3bf" d="M240.28 304.82h1.05v7.58h-1.05zM237.27 342.45h1.05v7.58h-1.05z" />
<path fill="#e8e9f0" d="M242.29 304.82h1.05v7.58h-1.05zM229.23 342.45h1.05v7.58h-1.05z" />
<path fill="#bcc0d3" d="M243.3 304.82h1.05v7.58h-1.05zM237.27 312.35h1.05v7.58h-1.05z" />
<path fill="#dee0ea" d="M192.05 312.35h1.05v7.58h-1.05z" />
<path fill="#dbdee8" d="M193.05 312.35h1.05v7.58h-1.05zM209.13 349.98h1.05v7.58h-1.05z" />
<path fill="#e1e3eb" d="M195.06 312.35h1.05v7.58h-1.05zM209.13 319.88h1.05v7.58h-1.05zM242.29 327.4h1.05v7.58h-1.05zM216.16 342.45h1.05v7.58h-1.05z" />
<path fill="#bec3d5" d="M196.07 312.35h1.05v7.58h-1.05z" />
<path fill="#bfc3d5" d="M197.07 312.35h1.05v7.58h-1.05zM235.26 319.88h1.05v7.58h-1.05zM204.11 327.4h1.05v7.58h-1.05zM182 342.45h1.05v7.58h-1.05zM238.27 342.45h1.05v7.58h-1.05z" />
<path fill="#a8aec6" d="M198.08 312.35h1.05v7.58h-1.05zM222.19 319.88h1.05v7.58h-1.05zM215.16 334.93h1.05v7.58h-1.05z" />
<path fill="#b5bacf" d="M199.08 312.35h1.05v7.58h-1.05zM228.22 342.45h1.05v7.58h-1.05zM234.25 342.45h1.05v7.58h-1.05z" />
<path fill="#b4b9ce" d="M200.09 312.35h1.05v7.58h-1.05zM227.22 319.88h1.05v7.58h-1.05zM198.08 327.4h1.05v7.58h-1.05zM199.08 349.98h1.05v7.58h-1.05z" />
<path fill="#adb2c9" d="M202.1 312.35h1.05v7.58h-1.05zM227.22 312.35h1.05v7.58h-1.05z" />
<path fill="#9aa1be" d="M203.1 312.35h1.05v7.58h-1.05z" />
<path fill="#969dbb" d="M205.11 312.35h1.05v7.58h-1.05z" />
<path fill="#b3b8cd" d="M207.12 312.35h1.05v7.58h-1.05zM233.25 312.35h1.05v7.58h-1.05z" />
<path fill="#e6e8ef" d="M211.14 312.35h1.05v7.58h-1.05zM191.04 319.88h1.05v7.58h-1.05z" />
<path fill="#afb4cb" d="M213.15 312.35h1.05v7.58h-1.05zM234.25 312.35h1.05v7.58h-1.05zM242.29 312.35h1.05v7.58h-1.05z" />
<path fill="#8f97b6" d="M214.15 312.35h1.05v7.58h-1.05zM194.06 327.4h1.05v7.58h-1.05z" />
<path fill="#eeeff4" d="M215.16 312.35h1.05v7.58h-1.05zM233.25 327.4h1.05v7.58h-1.05zM219.18 334.93h1.05v7.58h-1.05z" />
<path fill="#9fa6c1" d="M218.17 312.35h1.05v7.58h-1.05z" />
<path fill="#f7f8fa" d="M220.18 312.35h1.05v7.58h-1.05zM243.3 334.93h1.05v7.58h-1.05zM193.05 349.98h1.05v7.58h-1.05z" />
<path fill="#828aae" d="M222.19 312.35h1.05v7.58h-1.05z" />
<path fill="#858daf" d="M223.2 312.35h1.05v7.58h-1.05z" />
<path fill="#a3a9c3" d="M225.21 312.35h1.05v7.58h-1.05zM220.18 319.88h1.05v7.58h-1.05zM191.04 327.4h1.05v7.58h-1.05zM212.15 349.98h1.05v7.58h-1.05z" />
<path fill="#babfd2" d="M229.23 312.35h1.05v7.58h-1.05zM220.18 334.93h1.05v7.58h-1.05z" />
<path fill="#7d86ab" d="M230.23 312.35h1.05v7.58h-1.05z" />
<path fill="#a7adc6" d="M231.24 312.35h1.05v7.58h-1.05zM219.18 319.88h1.05v7.58h-1.05zM205.11 334.93h1.05v7.58h-1.05z" />
<path fill="#656f9b" d="M236.26 312.35h1.05v7.58h-1.05z" />
<path fill="#ced2df" d="M238.27 312.35h1.05v7.58h-1.05z" />
<path fill="#8c94b4" d="M241.29 312.35h1.05v7.58h-1.05z" />
<path fill="#f7f7f9" d="M188.03 319.88h1.05v7.58h-1.05zM213.15 319.88h1.05v7.58h-1.05zM206.12 327.4h1.05v7.58h-1.05z" />
<path fill="#c9cddc" d="M193.05 319.88h1.05v7.58h-1.05z" />
<path fill="#b0b5cc" d="M195.06 319.88h1.05v7.58h-1.05z" />
<path fill="#707aa2" d="M196.07 319.88h1.05v7.58h-1.05z" />
<path fill="#7780a7" d="M197.07 319.88h1.05v7.58h-1.05z" />
<path fill="#3b4980" d="M198.08 319.88h1.05v7.58h-1.05z" />
<path fill="#3e4b82" d="M199.08 319.88h1.05v7.58h-1.05z" />
<path fill="#8991b2" d="M200.09 319.88h1.05v7.58h-1.05zM221.19 342.45h1.05v7.58h-1.05z" />
<path fill="#606a98" d="M201.09 319.88h1.05v7.58h-1.05z" />
<path fill="#acb2c9" d="M202.1 319.88h1.05v7.58h-1.05z" />
<path fill="#5c6795" d="M203.1 319.88h1.05v7.58h-1.05zM238.27 334.93h1.05v7.58h-1.05zM239.28 349.98h1.05v7.58h-1.05z" />
<path fill="#66709c" d="M204.11 319.88h1.05v7.58h-1.05zM235.26 349.98h1.05v7.58h-1.05z" />
<path fill="#5d6795" d="M205.11 319.88h1.05v7.58h-1.05z" />
<path fill="#3e4b81" d="M207.12 319.88h1.05v7.58h-1.05zM186.02 334.93h1.05v7.58h-1.05z" />
<path fill="#9098b7" d="M208.13 319.88h1.05v7.58h-1.05zM233.25 349.98h1.05v7.58h-1.05z" />
<path fill="#445085" d="M210.14 319.88h1.05v7.58h-1.05z" />
<path fill="#9ca2be" d="M211.14 319.88h1.05v7.58h-1.05zM221.19 334.93h1.05v7.58h-1.05z" />
<path fill="#cacedd" d="M215.16 319.88h1.05v7.58h-1.05zM205.11 349.98h1.05v7.58h-1.05z" />
<path fill="#dadce7" d="M218.17 319.88h1.05v7.58h-1.05zM233.25 342.45h1.05v7.58h-1.05z" />
<path fill="#cfd2e0" d="M221.19 319.88h1.05v7.58h-1.05zM238.27 319.88h1.05v7.58h-1.05zM223.2 327.4h1.05v7.58h-1.05z" />
<path fill="#f2f3f7" d="M225.21 319.88h1.05v7.58h-1.05zM192.05 334.93h1.05v7.58h-1.05zM197.07 349.98h1.05v7.58h-1.05z" />
<path fill="#ecedf2" d="M229.23 319.88h1.05v7.58h-1.05zM231.24 349.98h1.05v7.58h-1.05z" />
<path fill="#d7d9e5" d="M230.23 319.88h1.05v7.58h-1.05z" />
<path fill="#e9eaf0" d="M231.24 319.88h1.05v7.58h-1.05zM225.21 342.45h1.05v7.58h-1.05zM188.03 349.98h1.05v7.58h-1.05z" />
<path fill="#ced1df" d="M232.24 319.88h1.05v7.58h-1.05zM208.13 327.4h1.05v7.58h-1.05zM241.29 334.93h1.05v7.58h-1.05zM214.15 349.98h1.05v7.58h-1.05z" />
<path fill="#bcc1d3" d="M233.25 319.88h1.05v7.58h-1.05z" />
<path fill="#cfd2df" d="M234.25 319.88h1.05v7.58h-1.05z" />
<path fill="#e5e7ee" d="M239.28 319.88h1.05v7.58h-1.05z" />
<path fill="#c8ccdb" d="M240.28 319.88h1.05v7.58h-1.05zM238.27 327.4h1.05v7.58h-1.05z" />
<path fill="#d7dae5" d="M241.29 319.88h1.05v7.58h-1.05zM197.07 327.4h1.05v7.58h-1.05zM201.09 349.98h1.05v7.58h-1.05z" />
<path fill="#f1f2f5" d="M186.02 327.4h1.05v7.58h-1.05z" />
<path fill="#e4e5ed" d="M189.03 327.4h1.05v7.58h-1.05z" />
<path fill="#b0b5cb" d="M190.04 327.4h1.05v7.58h-1.05z" />
<path fill="#8f97b7" d="M192.05 327.4h1.05v7.58h-1.05z" />
<path fill="#9097b7" d="M193.05 327.4h1.05v7.58h-1.05z" />
<path fill="#9ea4c0" d="M196.07 327.4h1.05v7.58h-1.05z" />
<path fill="#a8adc6" d="M200.09 327.4h1.05v7.58h-1.05z" />
<path fill="#7f87ac" d="M201.09 327.4h1.05v7.58h-1.05z" />
<path fill="#828bae" d="M202.1 327.4h1.05v7.58h-1.05z" />
<path fill="#eaecf1" d="M207.12 327.4h1.05v7.58h-1.05z" />
<path fill="#757ea5" d="M210.14 327.4h1.05v7.58h-1.05z" />
<path fill="#f5f6f8" d="M212.15 327.4h1.05v7.58h-1.05zM237.27 334.93h1.05v7.58h-1.05z" />
<path fill="#7982a8" d="M213.15 327.4h1.05v7.58h-1.05zM218.17 342.45h1.05v7.58h-1.05z" />
<path fill="#cbcfdd" d="M215.16 327.4h1.05v7.58h-1.05zM225.21 327.4h1.05v7.58h-1.05z" />
<path fill="#adb3ca" d="M217.17 327.4h1.05v7.58h-1.05z" />
<path fill="#989fbc" d="M219.18 327.4h1.05v7.58h-1.05zM191.04 349.98h1.05v7.58h-1.05z" />
<path fill="#8d94b5" d="M220.18 327.4h1.05v7.58h-1.05z" />
<path fill="#767fa6" d="M221.19 327.4h1.05v7.58h-1.05zM239.28 327.4h1.05v7.58h-1.05zM236.26 334.93h1.05v7.58h-1.05zM222.19 349.98h1.05v7.58h-1.05zM224.2 349.98h1.05v7.58h-1.05z" />
<path fill="#989ebc" d="M222.19 327.4h1.05v7.58h-1.05z" />
<path fill="#ccd0de" d="M226.21 327.4h1.05v7.58h-1.05zM199.08 334.93h1.05v7.58h-1.05z" />
<path fill="#8d95b5" d="M228.22 327.4h1.05v7.58h-1.05z" />
<path fill="#a8aec7" d="M229.23 327.4h1.05v7.58h-1.05zM183 349.98h1.05v7.58h-1.05z" />
<path fill="#66709b" d="M231.24 327.4h1.05v7.58h-1.05z" />
<path fill="#ecedf3" d="M232.24 327.4h1.05v7.58h-1.05z" />
<path fill="#acb1c9" d="M234.25 327.4h1.05v7.58h-1.05z" />
<path fill="#6d76a0" d="M236.26 327.4h1.05v7.58h-1.05z" />
<path fill="#e5e6ee" d="M237.27 327.4h1.05v7.58h-1.05z" />
<path fill="#34417b" d="M241.29 327.4h1.05v7.58h-1.05z" />
<path fill="#a2a9c3" d="M243.3 327.4h1.05v7.58h-1.05z" />
<path fill="#68729d" d="M182 334.93h1.05v7.58h-1.05z" />
<path fill="#e8eaf0" d="M183 334.93h1.05v7.58h-1.05z" />
<path fill="#102064" d="M185.01 334.93h1.05v7.58h-1.05z" />
<path fill="#c5c9d9" d="M194.06 334.93h1.05v7.58h-1.05zM222.19 334.93h1.05v7.58h-1.05z" />
<path fill="#d0d3e0" d="M197.07 334.93h1.05v7.58h-1.05zM211.14 334.93h1.05v7.58h-1.05z" />
<path fill="#dde0e9" d="M203.1 334.93h1.05v7.58h-1.05zM209.13 334.93h1.05v7.58h-1.05zM204.11 349.98h1.05v7.58h-1.05z" />
<path fill="#c1c5d7" d="M206.12 334.93h1.05v7.58h-1.05zM211.14 349.98h1.05v7.58h-1.05z" />
<path fill="#979ebb" d="M208.13 334.93h1.05v7.58h-1.05z" />
<path fill="#f4f5f8" d="M212.15 334.93h1.05v7.58h-1.05zM193.05 342.45h1.05v7.58h-1.05zM227.22 349.98h1.05v7.58h-1.05z" />
<path fill="#eff0f5" d="M223.2 334.93h1.05v7.58h-1.05z" />
<path fill="#8990b2" d="M224.2 334.93h1.05v7.58h-1.05z" />
<path fill="#b9bed1" d="M225.21 334.93h1.05v7.58h-1.05z" />
<path fill="#d2d5e2" d="M228.22 334.93h1.05v7.58h-1.05zM232.24 334.93h1.05v7.58h-1.05z" />
<path fill="#e9ebf1" d="M229.23 334.93h1.05v7.58h-1.05z" />
<path fill="#abb0c8" d="M230.23 334.93h1.05v7.58h-1.05z" />
<path fill="#bbc0d3" d="M231.24 334.93h1.05v7.58h-1.05z" />
<path fill="#848caf" d="M235.26 334.93h1.05v7.58h-1.05z" />
<path fill="#717ba3" d="M240.28 334.93h1.05v7.58h-1.05z" />
<path fill="#556091" d="M242.29 334.93h1.05v7.58h-1.05z" />
<path fill="#e3e5ec" d="M184.01 342.45h1.05v7.58h-1.05zM212.15 342.45h1.05v7.58h-1.05z" />
<path fill="#b1b6cc" d="M194.06 342.45h1.05v7.58h-1.05z" />
<path fill="#b6bbd0" d="M196.07 342.45h1.05v7.58h-1.05z" />
<path fill="#c5c9da" d="M198.08 342.45h1.05v7.58h-1.05z" />
<path fill="#b9bdd1" d="M199.08 342.45h1.05v7.58h-1.05z" />
<path fill="#c7cada" d="M201.09 342.45h1.05v7.58h-1.05z" />
<path fill="#b3b8ce" d="M202.1 342.45h1.05v7.58h-1.05z" />
<path fill="#d9dce6" d="M203.1 342.45h1.05v7.58h-1.05zM210.14 349.98h1.05v7.58h-1.05z" />
<path fill="#dfe1ea" d="M204.11 342.45h1.05v7.58h-1.05z" />
<path fill="#cdd0de" d="M205.11 342.45h1.05v7.58h-1.05z" />
<path fill="#d5d8e3" d="M213.15 342.45h1.05v7.58h-1.05z" />
<path fill="#c1c6d7" d="M214.15 342.45h1.05v7.58h-1.05z" />
<path fill="#9199b8" d="M215.16 342.45h1.05v7.58h-1.05z" />
<path fill="#7680a6" d="M219.18 342.45h1.05v7.58h-1.05z" />
<path fill="#929ab8" d="M220.18 342.45h1.05v7.58h-1.05z" />
<path fill="#e6e7ee" d="M222.19 342.45h1.05v7.58h-1.05z" />
<path fill="#36447d" d="M224.2 342.45h1.05v7.58h-1.05z" />
<path fill="#aab0c8" d="M226.21 342.45h1.05v7.58h-1.05z" />
<path fill="#9da3bf" d="M187.02 349.98h1.05v7.58h-1.05zM195.06 349.98h1.05v7.58h-1.05z" />
<path fill="#e7e9ef" d="M194.06 349.98h1.05v7.58h-1.05z" />
<path fill="#b5b9cf" d="M196.07 349.98h1.05v7.58h-1.05z" />
<path fill="#9da4c0" d="M200.09 349.98h1.05v7.58h-1.05z" />
<path fill="#9ea5c0" d="M207.12 349.98h1.05v7.58h-1.05z" />
<path fill="#9aa0bd" d="M215.16 349.98h1.05v7.58h-1.05z" />
<path fill="#c4c8d8" d="M219.18 349.98h1.05v7.58h-1.05z" />
<path fill="#bbbfd2" d="M221.19 349.98h1.05v7.58h-1.05z" />
<path fill="#cacddc" d="M223.2 349.98h1.05v7.58h-1.05z" />
<path fill="#6e77a1" d="M225.21 349.98h1.05v7.58h-1.05z" />
<path fill="#b8bcd0" d="M226.21 349.98h1.05v7.58h-1.05z" />
<path fill="#6c759f" d="M229.23 349.98h1.05v7.58h-1.05z" />
<path fill="#878fb1" d="M232.24 349.98h1.05v7.58h-1.05z" />
<path fill="#6b759f" d="M236.26 349.98h1.05v7.58h-1.05z" />
<path fill="#606b98" d="M237.27 349.98h1.05v7.58h-1.05z" />
<path fill="#69739e" d="M240.28 349.98h1.05v7.58h-1.05z" />
<path fill="#7e86ab" d="M241.29 349.98h1.05v7.58h-1.05z" />
<path fill="#8e96b6" d="M242.29 349.98h1.05v7.58h-1.05z" />
<path fill="#4a578a" d="M243.3 349.98h1.05v7.58h-1.05z" />
<rect x="182" y="297.3" width="62.3" height="60.2" fill="none" stroke="#999" stroke-width="0.5"/>
<line x1="182" y1="297.6" x2="244.3" y2="297.6" stroke="#666" stroke-width="0.8"/>
<text x="179" y="327.5" font-size="10" text-anchor="middle" fill="#222" stroke="#222" transform="rotate(-90 179 327.5)">8 CAPs</text>
<text x="212.5" y="368.1" font-size="10" text-anchor="middle" fill="#222" stroke="#222" >Y voxels</text>
<path d="M248.3 321L256.7 329.2M256.7 321L248.3 329.2" stroke="#a3500f" stroke-width="1.3" fill="none"/>
<rect x="262.8" y="298.1" width="70.7" height="59.7" fill="#fff" />
<path fill="#c8c8c8" d="M262.8 303.81h14.14v1.08h-14.14zM262.8 349.32h14.14v2.31h-14.14zM276.94 315.07h14.14v1.08h-14.14zM276.94 348.54h14.14v1.54h-14.14zM305.22 303.81h14.14v0.46h-14.14zM305.22 353.17h14.14v1.54h-14.14zM319.36 300.72h14.14v1.54h-14.14z" />
<path fill="#b9b9b9" d="M262.8 304.89h14.14v2.01h-14.14zM262.8 321.55h14.14v2.31h-14.14zM262.8 345.46h14.14v2.31h-14.14zM276.94 343.14h14.14v3.09h-14.14zM276.94 354.71h14.14v2.31h-14.14zM291.08 303.81h14.14v3.09h-14.14zM305.22 344.69h14.14v1.54h-14.14zM319.36 303.81h14.14v1.54h-14.14zM319.36 312.29h14.14v1.54h-14.14z" />
<path fill="#969696" d="M262.8 307.66h14.14v1.54h-14.14zM262.8 313.06h14.14v1.54h-14.14zM291.08 301.49h14.14v2.31h-14.14z" />
<path fill="#5a5a5a" d="M262.8 310.75h14.14v0.93h-14.14zM276.94 340.06h14.14v1.23h-14.14zM276.94 350.86h14.14v1.85h-14.14z" />
<path fill="#8c8c8c" d="M262.8 311.68h14.14v0.93h-14.14zM262.8 326.95h14.14v1.54h-14.14zM276.94 352.71h14.14v1.23h-14.14z" />
<path fill="#bebebe" d="M262.8 315.38h14.14v1.54h-14.14zM305.22 323.09h14.14v0.62h-14.14zM305.22 331.58h14.14v0.77h-14.14zM305.22 334.66h14.14v0.77h-14.14zM305.22 348.54h14.14v1.54h-14.14zM319.36 315.38h14.14v1.54h-14.14zM319.36 320.01h14.14v0.77h-14.14zM319.36 347h14.14v1.54h-14.14z" />
<path fill="#aaaaaa" d="M262.8 319.23h14.14v2.31h-14.14zM262.8 343.14h14.14v2.31h-14.14zM276.94 318.46h14.14v1.54h-14.14zM276.94 330.03h14.14v2.31h-14.14zM305.22 319.23h14.14v0.77h-14.14zM305.22 340.06h14.14v3.09h-14.14zM319.36 313.83h14.14v1.54h-14.14z" />
<path fill="#a0a0a0" d="M262.8 323.86h14.14v2.31h-14.14zM276.94 313.83h14.14v1.23h-14.14zM319.36 344.69h14.14v2.31h-14.14zM305.22 299.12h14.14v0.8h-14.14z" />
<path fill="#787878" d="M262.8 328.49h14.14v1.54h-14.14zM319.36 330.8h14.14v1.54h-14.14zM319.36 308.86h14.14v0.8h-14.14z" />
<path fill="#afafaf" d="M262.8 332.35h14.14v7.71h-14.14zM276.94 323.09h14.14v2.31h-14.14zM276.94 334.66h14.14v1.54h-14.14zM319.36 335.43h14.14v3.09h-14.14zM305.22 308.36h14.14v0.8h-14.14zM319.36 305.99h14.14v0.8h-14.14z" />
<path fill="#b4b4b4" d="M262.8 351.63h14.14v2.31h-14.14zM305.22 301.49h14.14v0.93h-14.14zM305.22 309.98h14.14v0.77h-14.14zM319.36 326.18h14.14v0.77h-14.14zM319.36 350.86h14.14v2.31h-14.14z" />
<path fill="#828282" d="M262.8 354.71h14.14v1.08h-14.14z" />
<path fill="#6e6e6e" d="M262.8 355.79h14.14v2.01h-14.14z" />
<path fill="#d7d7d7" d="M276.94 300.72h14.14v1.54h-14.14zM276.94 308.44h14.14v1.54h-14.14z" />
<path fill="#e1e1e1" d="M276.94 303.81h14.14v3.09h-14.14zM305.22 316.92h14.14v3.09h-14.14z" />
<path fill="#505050" d="M276.94 327.72h14.14v0.77h-14.14z" />
<path fill="#464646" d="M291.08 298.1h14.14v1.85h-14.14zM319.36 332.35h14.14v1.54h-14.14z" />
<path fill="#646464" d="M291.08 299.95h14.14v1.54h-14.14zM305.22 326.95h14.14v1.08h-14.14zM262.8 351.4h14.14v0.8h-14.14z" />
<path fill="#a5a5a5" d="M319.36 307.66h14.14v1.54h-14.14zM319.36 340.06h14.14v3.09h-14.14z" />
<path fill="#9c9c9c" d="M262.8 336.79h14.14v0.8h-14.14z" />
<path fill="#aeaeae" d="M262.8 345.85h14.14v0.8h-14.14zM276.94 314.83h14.14v0.8h-14.14zM305.22 350.83h14.14v0.8h-14.14z" />
<path fill="#adadad" d="M262.8 342.94h14.14v0.8h-14.14zM319.36 321.93h14.14v0.8h-14.14z" />
<path fill="#838383" d="M262.8 305.59h14.14v0.8h-14.14z" />
<path fill="#949494" d="M262.8 353.63h14.14v0.8h-14.14z" />
<path fill="#707070" d="M262.8 328.71h14.14v0.8h-14.14z" />
<path fill="#8d8d8d" d="M262.8 332.64h14.14v0.8h-14.14z" />
<path fill="#6d6d6d" d="M262.8 304.76h14.14v0.8h-14.14zM262.8 315.07h14.14v0.8h-14.14z" />
<path fill="#acacac" d="M262.8 318.75h14.14v0.8h-14.14zM319.36 336.16h14.14v0.8h-14.14z" />
<path fill="#686868" d="M262.8 344.3h14.14v0.8h-14.14zM276.94 323.05h14.14v0.8h-14.14z" />
<path fill="#666666" d="M262.8 345.95h14.14v0.8h-14.14z" />
<path fill="#656565" d="M262.8 336.51h14.14v0.8h-14.14z" />
<path fill="#a8a8a8" d="M262.8 304.16h14.14v0.8h-14.14zM262.8 355.68h14.14v0.8h-14.14z" />
<path fill="#b0b0b0" d="M276.94 319.27h14.14v0.8h-14.14zM276.94 340.35h14.14v0.8h-14.14z" />
<path fill="#979797" d="M276.94 332.4h14.14v0.8h-14.14zM276.94 304.25h14.14v0.8h-14.14z" />
<path fill="#747474" d="M276.94 351.02h14.14v0.8h-14.14z" />
<path fill="#5f5f5f" d="M276.94 311.72h14.14v0.8h-14.14zM305.22 338.07h14.14v0.8h-14.14z" />
<path fill="#909090" d="M276.94 319.9h14.14v0.8h-14.14z" />
<path fill="#757575" d="M276.94 321.82h14.14v0.8h-14.14z" />
<path fill="#858585" d="M276.94 347.07h14.14v0.8h-14.14zM276.94 320.66h14.14v0.8h-14.14z" />
<path fill="#5c5c5c" d="M305.22 353.4h14.14v0.8h-14.14z" />
<path fill="#a6a6a6" d="M305.22 340.62h14.14v0.8h-14.14z" />
<path fill="#8e8e8e" d="M305.22 318.87h14.14v0.8h-14.14z" />
<path fill="#5e5e5e" d="M305.22 298.61h14.14v0.8h-14.14zM319.36 312.56h14.14v0.8h-14.14z" />
<path fill="#9e9e9e" d="M305.22 309.25h14.14v0.8h-14.14z" />
<path fill="#797979" d="M319.36 322.16h14.14v0.8h-14.14z" />
<path fill="#9f9f9f" d="M319.36 331.64h14.14v0.8h-14.14z" />
<path fill="#9d9d9d" d="M319.36 309.75h14.14v0.8h-14.14z" />
<path fill="#a7a7a7" d="M319.36 345.95h14.14v0.8h-14.14z" />
<path fill="#767676" d="M319.36 332.71h14.14v0.8h-14.14z" />
<path fill="#696969" d="M319.36 320.71h14.14v0.8h-14.14z" />
<path fill="#676767" d="M319.36 308.18h14.14v0.8h-14.14z" />
<path fill="#b3b3b3" d="M319.36 340.28h14.14v0.8h-14.14z" />
<path fill="#8a8a8a" d="M319.36 355.91h14.14v0.8h-14.14z" />
<rect x="262.8" y="298.1" width="70.7" height="59.7" fill="none" stroke="#aaa" stroke-width="0.5"/>
<text x="299.6" y="368.3" font-size="10" text-anchor="middle" fill="#222" stroke="#222" >5 networks</text>
<text x="344.2" y="327.4" font-size="10" text-anchor="middle" fill="#222" stroke="#222" transform="rotate(-90 344.2 327.4)">Y voxels</text>
<rect x="346.2" y="323.5" width="10.7" height="1.7" fill="#a3500f" />
<rect x="346.2" y="326.9" width="10.7" height="1.7" fill="#a3500f" />
<path fill="#ff5a00" d="M361.3 298.2h18.33v7.64h-18.33z" />
<path fill="#10c8ff" d="M379.58 298.2h18.33v7.64h-18.33z" />
<path fill="#800000" d="M397.86 298.2h18.33v7.64h-18.33zM397.86 351.31h18.33v7.64h-18.33z" />
<path fill="#0070ff" d="M416.14 298.2h18.33v7.64h-18.33zM416.14 313.38h18.33v7.64h-18.33zM379.58 328.55h18.33v7.64h-18.33z" />
<path fill="#80f080" d="M434.42 298.2h18.33v7.64h-18.33zM434.42 328.55h18.33v7.64h-18.33z" />
<path fill="#90f070" d="M361.3 305.79h18.33v7.64h-18.33z" />
<path fill="#40f0b0" d="M379.58 305.79h18.33v7.64h-18.33z" />
<path fill="#0000e0" d="M397.86 305.79h18.33v7.64h-18.33z" />
<path fill="#40f0c0" d="M416.14 305.79h18.33v7.64h-18.33zM397.86 343.73h18.33v7.64h-18.33z" />
<path fill="#0040ff" d="M434.42 305.79h18.33v7.64h-18.33z" />
<path fill="#50f0a0" d="M361.3 313.38h18.33v7.64h-18.33zM379.58 313.38h18.33v7.64h-18.33z" />
<path fill="#ffd800" d="M397.86 313.38h18.33v7.64h-18.33zM379.58 351.31h18.33v7.64h-18.33z" />
<path fill="#b0f040" d="M434.42 313.38h18.33v7.64h-18.33z" />
<path fill="#ff8c00" d="M361.3 320.96h18.33v7.64h-18.33z" />
<path fill="#0000a0" d="M379.58 320.96h18.33v7.64h-18.33zM361.3 328.55h18.33v7.64h-18.33zM434.42 343.73h18.33v7.64h-18.33zM434.42 351.31h18.33v7.64h-18.33z" />
<path fill="#0020f0" d="M397.86 320.96h18.33v7.64h-18.33z" />
<path fill="#00e8ff" d="M416.14 320.96h18.33v7.64h-18.33z" />
<path fill="#20f0e0" d="M434.42 320.96h18.33v7.64h-18.33z" />
<path fill="#000090" d="M397.86 328.55h18.33v7.64h-18.33zM416.14 328.55h18.33v7.64h-18.33zM416.14 336.14h18.33v7.64h-18.33zM416.14 343.73h18.33v7.64h-18.33z" />
<path fill="#0090ff" d="M361.3 336.14h18.33v7.64h-18.33z" />
<path fill="#10d0ff" d="M379.58 336.14h18.33v7.64h-18.33zM434.42 336.14h18.33v7.64h-18.33z" />
<path fill="#0000d0" d="M397.86 336.14h18.33v7.64h-18.33z" />
<path fill="#0000b0" d="M361.3 343.73h18.33v7.64h-18.33z" />
<path fill="#ff4000" d="M379.58 343.73h18.33v7.64h-18.33z" />
<path fill="#ffa000" d="M361.3 351.31h18.33v7.64h-18.33z" />
<path fill="#900000" d="M416.14 351.31h18.33v7.64h-18.33z" />
<circle cx="407" cy="301.99" r="2.35" fill="none" stroke="#fff" stroke-width="1.2"/>
<circle cx="370.44" cy="309.58" r="2.35" fill="none" stroke="#fff" stroke-width="1.2"/>
<circle cx="407" cy="317.17" r="2.35" fill="none" stroke="#fff" stroke-width="1.2"/>
<circle cx="370.44" cy="324.76" r="2.35" fill="none" stroke="#fff" stroke-width="1.2"/>
<circle cx="443.56" cy="332.34" r="2.35" fill="none" stroke="#fff" stroke-width="1.2"/>
<circle cx="388.72" cy="339.93" r="2.35" fill="none" stroke="#fff" stroke-width="1.2"/>
<circle cx="388.72" cy="347.52" r="2.35" fill="none" stroke="#fff" stroke-width="1.2"/>
<circle cx="407" cy="355.11" r="2.35" fill="none" stroke="#fff" stroke-width="1.2"/>
<rect x="361.3" y="298.2" width="91.4" height="60.7" fill="none" stroke="#555" stroke-width="0.5"/>
<text x="370.2" y="369.3" font-size="10" text-anchor="middle" fill="#222" stroke="#222" >D</text>
<text x="388.55" y="369.3" font-size="10" text-anchor="middle" fill="#222" stroke="#222" >A</text>
<text x="406.9" y="369.3" font-size="10" text-anchor="middle" fill="#222" stroke="#222" >F</text>
<text x="425.25" y="369.3" font-size="10" text-anchor="middle" fill="#222" stroke="#222" >L</text>
<text x="443.6" y="369.3" font-size="10" text-anchor="middle" fill="#222" stroke="#222" >P</text>
<text x="464.5" y="327.8" font-size="10" text-anchor="middle" fill="#222" stroke="#222" transform="rotate(-90 464.5 327.8)">8 CAPs</text>
<line x1="471.5" y1="286.5" x2="520.5" y2="286.5" stroke="#888" stroke-width="1"/>
<polygon points="530.5,286.5 519.5,282.9 519.5,290.1" fill="#888"/>
<text x="499.6" y="269.4" font-size="10" font-weight="bold" text-anchor="middle" fill="#111" stroke="#111" >Functional</text>
<text x="499.6" y="281.1" font-size="10" font-weight="bold" text-anchor="middle" fill="#111" stroke="#111" >definition</text>
<rect x="530.5" y="175.5" width="108" height="199" fill="none" stroke="#a8a8a8" stroke-width="1"/>
<text x="584" y="189" font-size="11.2" font-weight="bold" text-anchor="middle" fill="#a3500f" stroke="#a3500f" >Functional CAPs</text>
<circle cx="562" cy="217" r="18.6" fill="#595959"/>
<text x="562" y="214.7" font-size="10" font-weight="bold" text-anchor="middle" fill="#fff" >CAP</text>
<text x="562" y="226.3" font-size="10" font-weight="bold" text-anchor="middle" fill="#fff" >A+D-</text>
<circle cx="612.2" cy="217" r="18.6" fill="#595959"/>
<text x="612.2" y="214.7" font-size="10" font-weight="bold" text-anchor="middle" fill="#fff" >CAP</text>
<text x="612.2" y="226.3" font-size="10" font-weight="bold" text-anchor="middle" fill="#fff" >A-D+</text>
<circle cx="562" cy="261.2" r="18.6" fill="#595959"/>
<text x="562" y="258.9" font-size="10" font-weight="bold" text-anchor="middle" fill="#fff" >CAP</text>
<text x="562" y="270.5" font-size="10" font-weight="bold" text-anchor="middle" fill="#fff" >P+F-</text>
<circle cx="612.2" cy="261.2" r="18.6" fill="#595959"/>
<text x="612.2" y="258.9" font-size="10" font-weight="bold" text-anchor="middle" fill="#fff" >CAP</text>
<text x="612.2" y="270.5" font-size="10" font-weight="bold" text-anchor="middle" fill="#fff" >P-F+</text>
<circle cx="562" cy="305.4" r="18.6" fill="#595959"/>
<text x="562" y="303.1" font-size="10" font-weight="bold" text-anchor="middle" fill="#fff" >CAP</text>
<text x="562" y="314.7" font-size="10" font-weight="bold" text-anchor="middle" fill="#fff" >A+F-</text>
<circle cx="612.2" cy="305.4" r="18.6" fill="#595959"/>
<text x="612.2" y="303.1" font-size="10" font-weight="bold" text-anchor="middle" fill="#fff" >CAP</text>
<text x="612.2" y="314.7" font-size="10" font-weight="bold" text-anchor="middle" fill="#fff" >D-F+</text>
<circle cx="562" cy="349.6" r="18.6" fill="#595959"/>
<text x="562" y="347.3" font-size="10" font-weight="bold" text-anchor="middle" fill="#fff" >CAP</text>
<text x="562" y="358.9" font-size="10" font-weight="bold" text-anchor="middle" fill="#fff" >P+F-</text>
<circle cx="612.2" cy="349.6" r="18.6" fill="#595959"/>
<text x="612.2" y="347.3" font-size="10" font-weight="bold" text-anchor="middle" fill="#fff" >CAP</text>
<text x="612.2" y="358.9" font-size="10" font-weight="bold" text-anchor="middle" fill="#fff" >L+A-</text>
</svg></body></html>
